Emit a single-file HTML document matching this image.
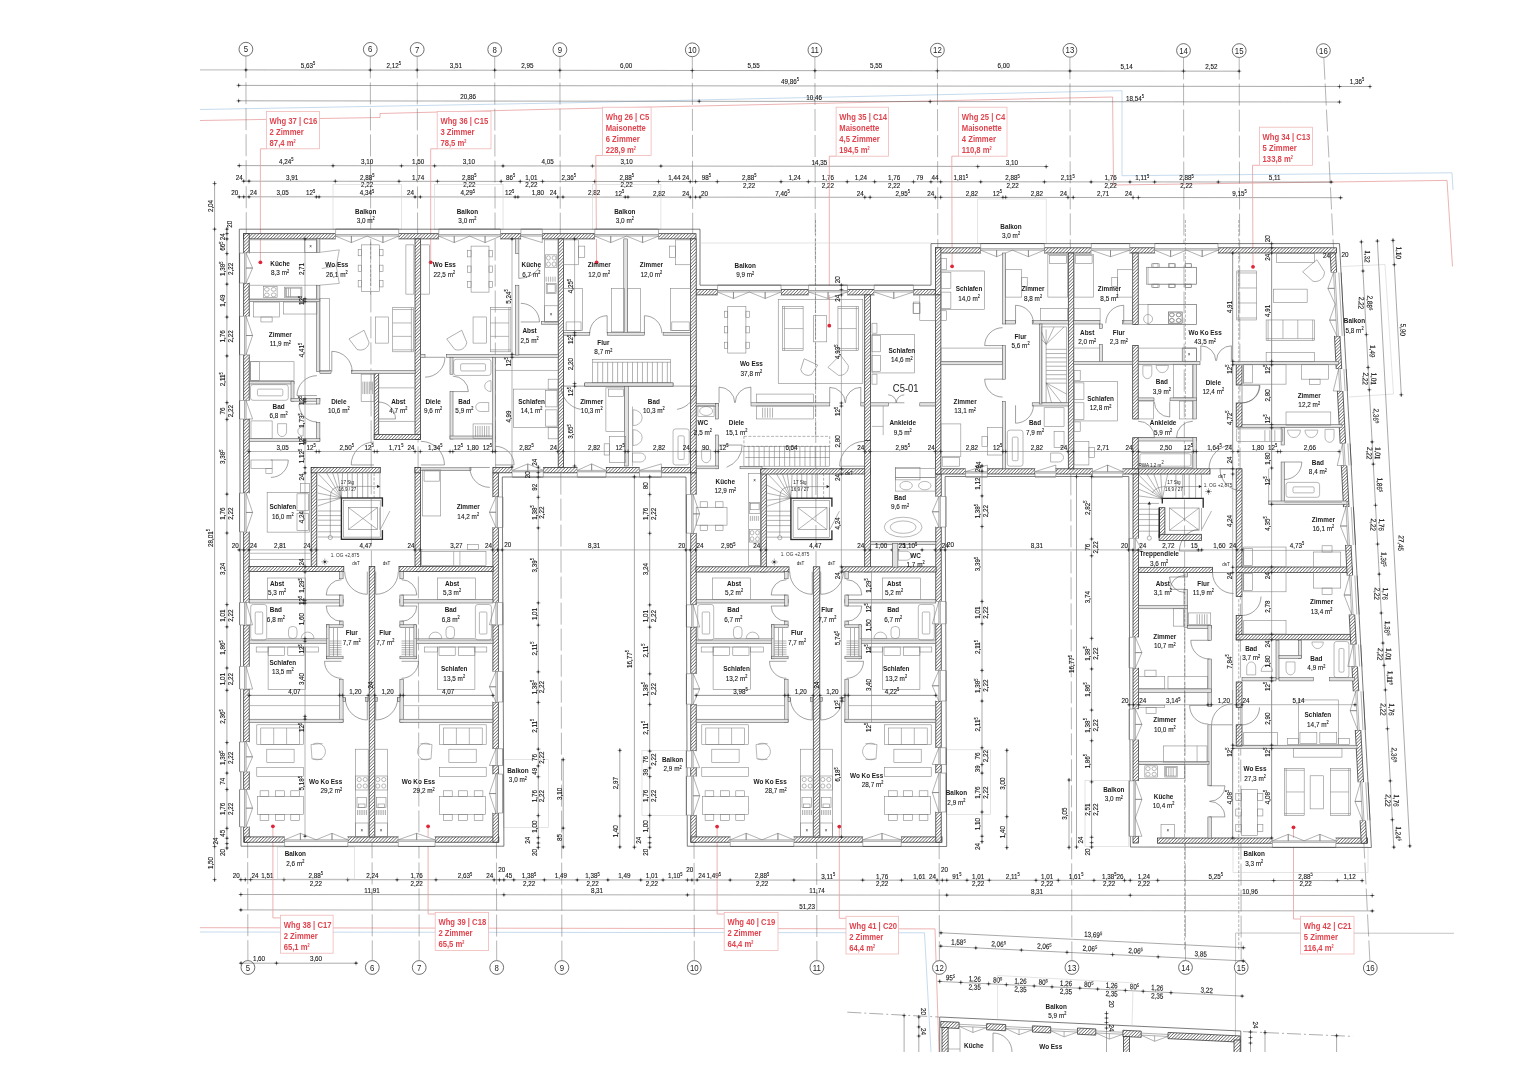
<!DOCTYPE html>
<html><head><meta charset="utf-8"><title>Grundriss 1. OG</title>
<style>
html,body{margin:0;padding:0;background:#fff;}
body{width:1528px;height:1080px;overflow:hidden;}
svg{display:block;font-family:"Liberation Sans",sans-serif;}
.l{stroke:#555;stroke-width:.6;fill:none}
.lf{stroke:#7e7e7e;stroke-width:.55;fill:none}
.lfw{stroke:#7e7e7e;stroke-width:.55;fill:#fff}
.lg{stroke:#d2d2d2;stroke-width:.6;fill:none}
.ax{stroke:#777;stroke-width:.55;fill:none;stroke-dasharray:22 4}
.dl{stroke:#555;stroke-width:.5;fill:none}
.axd{stroke:#777;stroke-width:.6;fill:none;stroke-dasharray:14 3 2 3}
.dlm{stroke:#777;stroke-width:.6;fill:none}
.dlg{stroke:#888;stroke-width:.6;fill:none}
.tk{fill:#222;stroke:none}
.tkl{stroke:#333;stroke-width:.5;fill:none}
.hw{stroke:#333;stroke-width:.75;fill:url(#hat)}
.tw{stroke:#4a4a4a;stroke-width:.5;fill:#e2e2e2}
.ins{stroke:#444;stroke-width:.7;fill:none}
.win{stroke:#777;stroke-width:.5;fill:#fff}
.win2{stroke:#666;stroke-width:.5;fill:none}
.win3{stroke:#555;stroke-width:.6;fill:none}
.wh{stroke:none;fill:#fff}
.dr{stroke:#555;stroke-width:.55;fill:none}
.st{stroke:#666;stroke-width:.5;fill:none}
.std{stroke:#666;stroke-width:.5;fill:none;stroke-dasharray:3 1.5}
.bk{stroke:#2a2a2a;stroke-width:1.35;fill:none}
.red{stroke:#e9a0a0;stroke-width:.8;fill:none}
.redb{stroke:#f0b8b8;stroke-width:.8;fill:#fff}
.blue{stroke:#b7d2ea;stroke-width:.8;fill:none}
.red2{stroke:#aaa;stroke-width:.7;fill:none}
.axc{stroke:#333;stroke-width:.7;fill:#fff}
.rdot{fill:#e0263a;stroke:none}
text{fill:#222;font-size:6.9px}
.m{text-anchor:middle}.s{text-anchor:start}.e{text-anchor:end}
.d{font-size:7.6px;fill:#151515;stroke:#151515;stroke-width:.12}
.sup{font-size:4.8px}
.rb{font-size:8px;font-weight:bold;fill:#1a1a1a}
.ra{font-size:8px;fill:#151515;stroke:#151515;stroke-width:.1}
.rl{font-size:9.6px;font-weight:bold;fill:#e0454f}
.axn{font-size:9.2px;fill:#222}
.ts{font-size:5.4px;fill:#222}
.big{font-size:10.5px;fill:#222}
.ts2{font-size:5.6px;fill:#333}
</style></head><body>
<svg width="1528" height="1080" viewBox="0 0 1528 1080">
<defs>
<pattern id="hat" width="2.3" height="2.3" patternUnits="userSpaceOnUse" patternTransform="rotate(-45)">
<rect width="2.3" height="2.3" fill="#fff"/><line x1="0" y1="1.15" x2="2.3" y2="1.15" stroke="#4a4a4a" stroke-width=".6"/>
</pattern>
<filter id="soft" x="0" y="0" width="1528" height="1080" filterUnits="userSpaceOnUse"><feGaussianBlur stdDeviation="0.38"/></filter>
</defs>
<rect width="1528" height="1080" fill="#fff"/>
<g filter="url(#soft)">
<polyline class="blue" points="200,109.5 560,103 1122,90.7 1122,175.7 1452,172.8 1453,190"/>
<polyline class="red" points="200,120.5 380,117.5 380,113.5 560,109 1112.6,97 1113.5,185 1447,180.4 1452.5,266.5"/>
<polyline class="red" points="200,927.7 935,928.9 939,1052"/>
<polyline class="blue" points="200,932 924.5,932.8 931,1052"/>
<polyline class="red2" points="1235.4,1052 1235.6,933 1454,933.3"/>
<circle class="axc" cx="245.9" cy="49.2" r="6.9"/>
<text class="axn m" transform="translate(245.9 52.3) scale(0.85 1)">5</text>
<circle class="axc" cx="247.9" cy="967.5" r="6.9"/>
<text class="axn m" transform="translate(247.9 970.6) scale(0.85 1)">5</text>
<line class="ax" x1="245.9" y1="56.2" x2="247.9" y2="960.5"/>
<circle class="axc" cx="370.3" cy="49.37" r="6.9"/>
<text class="axn m" transform="translate(370.3 52.47) scale(0.85 1)">6</text>
<circle class="axc" cx="372.3" cy="967.5" r="6.9"/>
<text class="axn m" transform="translate(372.3 970.6) scale(0.85 1)">6</text>
<line class="ax" x1="370.3" y1="56.37" x2="372.3" y2="960.5"/>
<circle class="axc" cx="417.2" cy="49.44" r="6.9"/>
<text class="axn m" transform="translate(417.2 52.54) scale(0.85 1)">7</text>
<circle class="axc" cx="419.2" cy="967.5" r="6.9"/>
<text class="axn m" transform="translate(419.2 970.6) scale(0.85 1)">7</text>
<line class="ax" x1="417.2" y1="56.44" x2="419.2" y2="960.5"/>
<circle class="axc" cx="494.7" cy="49.55" r="6.9"/>
<text class="axn m" transform="translate(494.7 52.65) scale(0.85 1)">8</text>
<circle class="axc" cx="496.7" cy="967.5" r="6.9"/>
<text class="axn m" transform="translate(496.7 970.6) scale(0.85 1)">8</text>
<line class="ax" x1="494.7" y1="56.55" x2="496.7" y2="960.5"/>
<circle class="axc" cx="559.9" cy="49.64" r="6.9"/>
<text class="axn m" transform="translate(559.9 52.74) scale(0.85 1)">9</text>
<circle class="axc" cx="561.9" cy="967.5" r="6.9"/>
<text class="axn m" transform="translate(561.9 970.6) scale(0.85 1)">9</text>
<line class="ax" x1="559.9" y1="56.64" x2="561.9" y2="960.5"/>
<circle class="axc" cx="692.3" cy="49.82" r="6.9"/>
<text class="axn m" transform="translate(692.3 52.92) scale(0.85 1)">10</text>
<circle class="axc" cx="694.3" cy="967.5" r="6.9"/>
<text class="axn m" transform="translate(694.3 970.6) scale(0.85 1)">10</text>
<line class="ax" x1="692.3" y1="56.82" x2="694.3" y2="960.5"/>
<circle class="axc" cx="814.9" cy="50" r="6.9"/>
<text class="axn m" transform="translate(814.9 53.1) scale(0.85 1)">11</text>
<circle class="axc" cx="816.9" cy="967.5" r="6.9"/>
<text class="axn m" transform="translate(816.9 970.6) scale(0.85 1)">11</text>
<line class="ax" x1="814.9" y1="57" x2="816.9" y2="960.5"/>
<circle class="axc" cx="937.4" cy="50.17" r="6.9"/>
<text class="axn m" transform="translate(937.4 53.27) scale(0.85 1)">12</text>
<circle class="axc" cx="939.4" cy="967.5" r="6.9"/>
<text class="axn m" transform="translate(939.4 970.6) scale(0.85 1)">12</text>
<line class="ax" x1="937.4" y1="57.17" x2="939.4" y2="960.5"/>
<circle class="axc" cx="1069.9" cy="50.35" r="6.9"/>
<text class="axn m" transform="translate(1069.9 53.45) scale(0.85 1)">13</text>
<circle class="axc" cx="1071.9" cy="967.5" r="6.9"/>
<text class="axn m" transform="translate(1071.9 970.6) scale(0.85 1)">13</text>
<line class="ax" x1="1069.9" y1="57.35" x2="1071.9" y2="960.5"/>
<circle class="axc" cx="1183.5" cy="50.51" r="6.9"/>
<text class="axn m" transform="translate(1183.5 53.61) scale(0.85 1)">14</text>
<circle class="axc" cx="1185.5" cy="967.5" r="6.9"/>
<text class="axn m" transform="translate(1185.5 970.6) scale(0.85 1)">14</text>
<line class="ax" x1="1183.5" y1="57.51" x2="1185.5" y2="960.5"/>
<circle class="axc" cx="1239.2" cy="50.59" r="6.9"/>
<text class="axn m" transform="translate(1239.2 53.69) scale(0.85 1)">15</text>
<circle class="axc" cx="1241.2" cy="967.5" r="6.9"/>
<text class="axn m" transform="translate(1241.2 970.6) scale(0.85 1)">15</text>
<line class="ax" x1="1239.2" y1="57.59" x2="1241.2" y2="960.5"/>
<circle class="axc" cx="1323.4" cy="50.6" r="6.9"/>
<text class="axn m" transform="translate(1323.4 53.7) scale(0.85 1)">16</text>
<circle class="axc" cx="1370.3" cy="968" r="6.9"/>
<text class="axn m" transform="translate(1370.3 971.1) scale(0.85 1)">16</text>
<line class="ax" x1="1323.8" y1="57.6" x2="1369.9" y2="961"/>
<line class="dlg" x1="200" y1="69.9" x2="246" y2="69.9"/>
<line class="dl" x1="246" y1="69.9" x2="1239.2" y2="71.2"/>
<circle class="tk" cx="245.9" cy="69.9" r="0.85"/>
<path class="tkl" d="M243.8 69.9H248M245.9 67.8V72"/>
<circle class="tk" cx="370.3" cy="70.06" r="0.85"/>
<path class="tkl" d="M368.2 70.06H372.4M370.3 67.96V72.16"/>
<circle class="tk" cx="417.2" cy="70.12" r="0.85"/>
<path class="tkl" d="M415.1 70.12H419.3M417.2 68.02V72.22"/>
<circle class="tk" cx="494.7" cy="70.22" r="0.85"/>
<path class="tkl" d="M492.6 70.22H496.8M494.7 68.12V72.32"/>
<circle class="tk" cx="559.9" cy="70.31" r="0.85"/>
<path class="tkl" d="M557.8 70.31H562M559.9 68.21V72.41"/>
<circle class="tk" cx="692.3" cy="70.48" r="0.85"/>
<path class="tkl" d="M690.2 70.48H694.4M692.3 68.38V72.58"/>
<circle class="tk" cx="814.9" cy="70.64" r="0.85"/>
<path class="tkl" d="M812.8 70.64H817M814.9 68.54V72.74"/>
<circle class="tk" cx="937.4" cy="70.8" r="0.85"/>
<path class="tkl" d="M935.3 70.8H939.5M937.4 68.7V72.9"/>
<circle class="tk" cx="1069.9" cy="70.97" r="0.85"/>
<path class="tkl" d="M1067.8 70.97H1072M1069.9 68.87V73.07"/>
<circle class="tk" cx="1183.5" cy="71.12" r="0.85"/>
<path class="tkl" d="M1181.4 71.12H1185.6M1183.5 69.02V73.22"/>
<circle class="tk" cx="1239.2" cy="71.19" r="0.85"/>
<path class="tkl" d="M1237.1 71.19H1241.3M1239.2 69.09V73.29"/>
<text class="d m" transform="translate(308.1 67.58) scale(0.83 1)">5,63<tspan class="sup" dy="-2.6">5</tspan><tspan dy="2.6">​</tspan></text>
<text class="d m" transform="translate(393.75 67.69) scale(0.83 1)">2,12<tspan class="sup" dy="-2.6">5</tspan><tspan dy="2.6">​</tspan></text>
<text class="d m" transform="translate(455.95 67.77) scale(0.83 1)">3,51</text>
<text class="d m" transform="translate(527.3 67.87) scale(0.83 1)">2,95</text>
<text class="d m" transform="translate(626.1 67.99) scale(0.83 1)">6,00</text>
<text class="d m" transform="translate(753.6 68.16) scale(0.83 1)">5,55</text>
<text class="d m" transform="translate(876.15 68.32) scale(0.83 1)">5,55</text>
<text class="d m" transform="translate(1003.65 68.48) scale(0.83 1)">6,00</text>
<text class="d m" transform="translate(1126.7 68.64) scale(0.83 1)">5,14</text>
<text class="d m" transform="translate(1211.35 68.75) scale(0.83 1)">2,52</text>
<line class="dl" x1="238.6" y1="85.4" x2="1370" y2="86.5"/>
<circle class="tk" cx="238.6" cy="85.39" r="0.85"/>
<path class="tkl" d="M236.5 85.39H240.7M238.6 83.29V87.49"/>
<circle class="tk" cx="1339.5" cy="86.49" r="0.85"/>
<path class="tkl" d="M1337.4 86.49H1341.6M1339.5 84.39V88.59"/>
<circle class="tk" cx="1370" cy="86.52" r="0.85"/>
<path class="tkl" d="M1367.9 86.52H1372.1M1370 84.42V88.62"/>
<text class="d m" transform="translate(790 84) scale(0.83 1)">49,86<tspan class="sup" dy="-2.6">5</tspan><tspan dy="2.6">​</tspan></text>
<text class="d m" transform="translate(1357 84) scale(0.83 1)">1,36<tspan class="sup" dy="-2.6">5</tspan><tspan dy="2.6">​</tspan></text>
<line class="dl" x1="238.6" y1="100.8" x2="1339.5" y2="102"/>
<circle class="tk" cx="238.6" cy="100.79" r="0.85"/>
<path class="tkl" d="M236.5 100.79H240.7M238.6 98.69V102.89"/>
<circle class="tk" cx="699.2" cy="101.3" r="0.85"/>
<path class="tkl" d="M697.1 101.3H701.3M699.2 99.2V103.4"/>
<circle class="tk" cx="930.2" cy="101.55" r="0.85"/>
<path class="tkl" d="M928.1 101.55H932.3M930.2 99.45V103.65"/>
<circle class="tk" cx="1339.5" cy="102" r="0.85"/>
<path class="tkl" d="M1337.4 102H1341.6M1339.5 99.9V104.1"/>
<text class="d m" transform="translate(468 99) scale(0.83 1)">20,86</text>
<text class="d m" transform="translate(814 100) scale(0.83 1)">10,46</text>
<text class="d m" transform="translate(1135 100.5) scale(0.83 1)">18,54<tspan class="sup" dy="-2.6">5</tspan><tspan dy="2.6">​</tspan></text>
<line class="dl" x1="237.28" y1="165.6" x2="1048.2" y2="166.5"/>
<circle class="tk" cx="239.28" cy="165.59" r="0.85"/>
<path class="tkl" d="M237.18 165.59H241.38M239.28 163.49V167.69"/>
<circle class="tk" cx="333.01" cy="165.7" r="0.85"/>
<path class="tkl" d="M330.91 165.7H335.11M333.01 163.6V167.8"/>
<circle class="tk" cx="401.46" cy="165.79" r="0.85"/>
<path class="tkl" d="M399.36 165.79H403.56M401.46 163.69V167.89"/>
<circle class="tk" cx="434.58" cy="165.83" r="0.85"/>
<path class="tkl" d="M432.48 165.83H436.68M434.58 163.73V167.93"/>
<circle class="tk" cx="503.03" cy="165.91" r="0.85"/>
<path class="tkl" d="M500.93 165.91H505.13M503.03 163.81V168.01"/>
<circle class="tk" cx="592.45" cy="166.02" r="0.85"/>
<path class="tkl" d="M590.35 166.02H594.55M592.45 163.92V168.12"/>
<circle class="tk" cx="660.9" cy="166.1" r="0.85"/>
<path class="tkl" d="M658.8 166.1H663M660.9 164V168.2"/>
<circle class="tk" cx="977.75" cy="166.48" r="0.85"/>
<path class="tkl" d="M975.65 166.48H979.85M977.75 164.38V168.58"/>
<circle class="tk" cx="1046.2" cy="166.56" r="0.85"/>
<path class="tkl" d="M1044.1 166.56H1048.3M1046.2 164.46V168.66"/>
<text class="d m" transform="translate(286.14 164.05) scale(0.83 1)">4,24<tspan class="sup" dy="-2.6">5</tspan><tspan dy="2.6">​</tspan></text>
<text class="d m" transform="translate(367.24 164.15) scale(0.83 1)">3,10</text>
<text class="d m" transform="translate(418.02 164.21) scale(0.83 1)">1,50</text>
<text class="d m" transform="translate(468.8 164.27) scale(0.83 1)">3,10</text>
<text class="d m" transform="translate(547.74 164.36) scale(0.83 1)">4,05</text>
<text class="d m" transform="translate(626.67 164.46) scale(0.83 1)">3,10</text>
<text class="d m" transform="translate(819.33 164.69) scale(0.83 1)">14,35</text>
<text class="d m" transform="translate(1011.98 164.92) scale(0.83 1)">3,10</text>
<line class="dl" x1="241.7" y1="181.2" x2="1333.14" y2="182.07"/>
<circle class="tk" cx="243.7" cy="181.2" r="0.85"/>
<path class="tkl" d="M241.6 181.2H245.8M243.7 179.1V183.3"/>
<circle class="tk" cx="249" cy="181.2" r="0.85"/>
<path class="tkl" d="M246.9 181.2H251.1M249 179.1V183.3"/>
<circle class="tk" cx="335.33" cy="181.27" r="0.85"/>
<path class="tkl" d="M333.23 181.27H337.43M335.33 179.17V183.37"/>
<circle class="tk" cx="399.03" cy="181.32" r="0.85"/>
<path class="tkl" d="M396.93 181.32H401.13M399.03 179.22V183.42"/>
<circle class="tk" cx="437.45" cy="181.35" r="0.85"/>
<path class="tkl" d="M435.35 181.35H439.55M437.45 179.25V183.45"/>
<circle class="tk" cx="501.15" cy="181.4" r="0.85"/>
<path class="tkl" d="M499.05 181.4H503.25M501.15 179.3V183.5"/>
<circle class="tk" cx="520.25" cy="181.42" r="0.85"/>
<path class="tkl" d="M518.15 181.42H522.35M520.25 179.32V183.52"/>
<circle class="tk" cx="542.55" cy="181.44" r="0.85"/>
<path class="tkl" d="M540.45 181.44H544.65M542.55 179.34V183.54"/>
<circle class="tk" cx="594.77" cy="181.48" r="0.85"/>
<path class="tkl" d="M592.67 181.48H596.87M594.77 179.38V183.58"/>
<circle class="tk" cx="658.47" cy="181.53" r="0.85"/>
<path class="tkl" d="M656.37 181.53H660.57M658.47 179.43V183.63"/>
<circle class="tk" cx="690.27" cy="181.56" r="0.85"/>
<path class="tkl" d="M688.17 181.56H692.37M690.27 179.46V183.66"/>
<circle class="tk" cx="695.57" cy="181.56" r="0.85"/>
<path class="tkl" d="M693.47 181.56H697.67M695.57 179.46V183.66"/>
<circle class="tk" cx="717.32" cy="181.58" r="0.85"/>
<path class="tkl" d="M715.22 181.58H719.42M717.32 179.48V183.68"/>
<circle class="tk" cx="781.02" cy="181.63" r="0.85"/>
<path class="tkl" d="M778.92 181.63H783.12M781.02 179.53V183.73"/>
<circle class="tk" cx="808.4" cy="181.65" r="0.85"/>
<path class="tkl" d="M806.3 181.65H810.5M808.4 179.55V183.75"/>
<circle class="tk" cx="847.26" cy="181.68" r="0.85"/>
<path class="tkl" d="M845.16 181.68H849.36M847.26 179.58V183.78"/>
<circle class="tk" cx="874.64" cy="181.7" r="0.85"/>
<path class="tkl" d="M872.54 181.7H876.74M874.64 179.6V183.8"/>
<circle class="tk" cx="913.5" cy="181.73" r="0.85"/>
<path class="tkl" d="M911.4 181.73H915.6M913.5 179.63V183.83"/>
<circle class="tk" cx="930.94" cy="181.75" r="0.85"/>
<path class="tkl" d="M928.84 181.75H933.04M930.94 179.65V183.85"/>
<circle class="tk" cx="940.66" cy="181.76" r="0.85"/>
<path class="tkl" d="M938.56 181.76H942.76M940.66 179.66V183.86"/>
<circle class="tk" cx="980.73" cy="181.79" r="0.85"/>
<path class="tkl" d="M978.63 181.79H982.83M980.73 179.69V183.89"/>
<circle class="tk" cx="1044.43" cy="181.84" r="0.85"/>
<path class="tkl" d="M1042.33 181.84H1046.53M1044.43 179.74V183.94"/>
<circle class="tk" cx="1091.13" cy="181.88" r="0.85"/>
<path class="tkl" d="M1089.03 181.88H1093.23M1091.13 179.78V183.98"/>
<circle class="tk" cx="1129.99" cy="181.91" r="0.85"/>
<path class="tkl" d="M1127.89 181.91H1132.09M1129.99 179.81V184.01"/>
<circle class="tk" cx="1154.61" cy="181.93" r="0.85"/>
<path class="tkl" d="M1152.51 181.93H1156.71M1154.61 179.83V184.03"/>
<circle class="tk" cx="1218.31" cy="181.98" r="0.85"/>
<path class="tkl" d="M1216.21 181.98H1220.41M1218.31 179.88V184.08"/>
<circle class="tk" cx="1331.14" cy="182.07" r="0.85"/>
<path class="tkl" d="M1329.04 182.07H1333.24M1331.14 179.97V184.17"/>
<text class="d e" transform="translate(242.7 179.6) scale(0.83 1)">24</text>
<text class="d m" transform="translate(292.16 179.64) scale(0.83 1)">3,91</text>
<text class="d m" transform="translate(367.18 179.7) scale(0.83 1)">2,88<tspan class="sup" dy="-2.6">5</tspan><tspan dy="2.6">​</tspan></text>
<text class="d m" transform="translate(367.18 187.2) scale(0.83 1)">2,22</text>
<text class="d m" transform="translate(418.24 179.74) scale(0.83 1)">1,74</text>
<text class="d m" transform="translate(469.3 179.78) scale(0.83 1)">2,88<tspan class="sup" dy="-2.6">5</tspan><tspan dy="2.6">​</tspan></text>
<text class="d m" transform="translate(469.3 187.28) scale(0.83 1)">2,22</text>
<text class="d m" transform="translate(510.7 179.81) scale(0.83 1)">86<tspan class="sup" dy="-2.6">5</tspan><tspan dy="2.6">​</tspan></text>
<text class="d m" transform="translate(531.4 179.83) scale(0.83 1)">1,01</text>
<text class="d m" transform="translate(531.4 187.33) scale(0.83 1)">2,22</text>
<text class="d m" transform="translate(568.66 179.86) scale(0.83 1)">2,36<tspan class="sup" dy="-2.6">5</tspan><tspan dy="2.6">​</tspan></text>
<text class="d m" transform="translate(626.62 179.9) scale(0.83 1)">2,88<tspan class="sup" dy="-2.6">5</tspan><tspan dy="2.6">​</tspan></text>
<text class="d m" transform="translate(626.62 187.4) scale(0.83 1)">2,22</text>
<text class="d m" transform="translate(674.37 179.94) scale(0.83 1)">1,44</text>
<text class="d e" transform="translate(689.27 179.96) scale(0.83 1)">24</text>
<text class="d m" transform="translate(706.45 179.97) scale(0.83 1)">98<tspan class="sup" dy="-2.6">5</tspan><tspan dy="2.6">​</tspan></text>
<text class="d m" transform="translate(749.17 180) scale(0.83 1)">2,88<tspan class="sup" dy="-2.6">5</tspan><tspan dy="2.6">​</tspan></text>
<text class="d m" transform="translate(749.17 187.5) scale(0.83 1)">2,22</text>
<text class="d m" transform="translate(794.71 180.04) scale(0.83 1)">1,24</text>
<text class="d m" transform="translate(827.83 180.07) scale(0.83 1)">1,76</text>
<text class="d m" transform="translate(827.83 187.57) scale(0.83 1)">2,22</text>
<text class="d m" transform="translate(860.95 180.09) scale(0.83 1)">1,24</text>
<text class="d m" transform="translate(894.07 180.12) scale(0.83 1)">1,76</text>
<text class="d m" transform="translate(894.07 187.62) scale(0.83 1)">2,22</text>
<text class="d m" transform="translate(919.72 180.14) scale(0.83 1)">79</text>
<text class="d s" transform="translate(931.44 180.15) scale(0.83 1)">44</text>
<text class="d m" transform="translate(960.69 180.17) scale(0.83 1)">1,81<tspan class="sup" dy="-2.6">5</tspan><tspan dy="2.6">​</tspan></text>
<text class="d m" transform="translate(1012.58 180.21) scale(0.83 1)">2,88<tspan class="sup" dy="-2.6">5</tspan><tspan dy="2.6">​</tspan></text>
<text class="d m" transform="translate(1012.58 187.71) scale(0.83 1)">2,22</text>
<text class="d m" transform="translate(1067.78 180.26) scale(0.83 1)">2,11<tspan class="sup" dy="-2.6">5</tspan><tspan dy="2.6">​</tspan></text>
<text class="d m" transform="translate(1110.56 180.29) scale(0.83 1)">1,76</text>
<text class="d m" transform="translate(1110.56 187.79) scale(0.83 1)">2,22</text>
<text class="d m" transform="translate(1142.3 180.32) scale(0.83 1)">1,11<tspan class="sup" dy="-2.6">5</tspan><tspan dy="2.6">​</tspan></text>
<text class="d m" transform="translate(1186.46 180.35) scale(0.83 1)">2,88<tspan class="sup" dy="-2.6">5</tspan><tspan dy="2.6">​</tspan></text>
<text class="d m" transform="translate(1186.46 187.85) scale(0.83 1)">2,22</text>
<text class="d m" transform="translate(1274.72 180.42) scale(0.83 1)">5,11</text>
<line class="dl" x1="237.28" y1="196.79" x2="1342.52" y2="197.68"/>
<circle class="tk" cx="239.28" cy="196.79" r="0.85"/>
<path class="tkl" d="M237.18 196.79H241.38M239.28 194.69V198.89"/>
<circle class="tk" cx="243.7" cy="196.8" r="0.85"/>
<path class="tkl" d="M241.6 196.8H245.8M243.7 194.7V198.9"/>
<circle class="tk" cx="249" cy="196.8" r="0.85"/>
<path class="tkl" d="M246.9 196.8H251.1M249 194.7V198.9"/>
<circle class="tk" cx="316.34" cy="196.86" r="0.85"/>
<path class="tkl" d="M314.24 196.86H318.44M316.34 194.76V198.96"/>
<circle class="tk" cx="319.1" cy="196.86" r="0.85"/>
<path class="tkl" d="M317 196.86H321.2M319.1 194.76V198.96"/>
<circle class="tk" cx="415.04" cy="196.94" r="0.85"/>
<path class="tkl" d="M412.94 196.94H417.14M415.04 194.84V199.04"/>
<circle class="tk" cx="420.34" cy="196.94" r="0.85"/>
<path class="tkl" d="M418.24 196.94H422.44M420.34 194.84V199.04"/>
<circle class="tk" cx="515.17" cy="197.02" r="0.85"/>
<path class="tkl" d="M513.07 197.02H517.27M515.17 194.92V199.12"/>
<circle class="tk" cx="517.93" cy="197.02" r="0.85"/>
<path class="tkl" d="M515.83 197.02H520.03M517.93 194.92V199.12"/>
<circle class="tk" cx="557.68" cy="197.05" r="0.85"/>
<path class="tkl" d="M555.58 197.05H559.78M557.68 194.95V199.15"/>
<circle class="tk" cx="562.98" cy="197.05" r="0.85"/>
<path class="tkl" d="M560.88 197.05H565.08M562.98 194.95V199.15"/>
<circle class="tk" cx="625.24" cy="197.1" r="0.85"/>
<path class="tkl" d="M623.14 197.1H627.34M625.24 195V199.2"/>
<circle class="tk" cx="628" cy="197.11" r="0.85"/>
<path class="tkl" d="M625.9 197.11H630.1M628 195.01V199.21"/>
<circle class="tk" cx="690.27" cy="197.16" r="0.85"/>
<path class="tkl" d="M688.17 197.16H692.37M690.27 195.06V199.26"/>
<circle class="tk" cx="695.57" cy="197.16" r="0.85"/>
<path class="tkl" d="M693.47 197.16H697.67M695.57 195.06V199.26"/>
<circle class="tk" cx="699.98" cy="197.16" r="0.85"/>
<path class="tkl" d="M697.88 197.16H702.08M699.98 195.06V199.26"/>
<circle class="tk" cx="864.81" cy="197.3" r="0.85"/>
<path class="tkl" d="M862.71 197.3H866.91M864.81 195.2V199.4"/>
<circle class="tk" cx="870.11" cy="197.3" r="0.85"/>
<path class="tkl" d="M868.01 197.3H872.21M870.11 195.2V199.4"/>
<circle class="tk" cx="935.36" cy="197.35" r="0.85"/>
<path class="tkl" d="M933.26 197.35H937.46M935.36 195.25V199.45"/>
<circle class="tk" cx="940.66" cy="197.36" r="0.85"/>
<path class="tkl" d="M938.56 197.36H942.76M940.66 195.26V199.46"/>
<circle class="tk" cx="1002.92" cy="197.41" r="0.85"/>
<path class="tkl" d="M1000.82 197.41H1005.02M1002.92 195.31V199.51"/>
<circle class="tk" cx="1005.68" cy="197.41" r="0.85"/>
<path class="tkl" d="M1003.58 197.41H1007.78M1005.68 195.31V199.51"/>
<circle class="tk" cx="1067.95" cy="197.46" r="0.85"/>
<path class="tkl" d="M1065.85 197.46H1070.05M1067.95 195.36V199.56"/>
<circle class="tk" cx="1073.25" cy="197.46" r="0.85"/>
<path class="tkl" d="M1071.15 197.46H1075.35M1073.25 195.36V199.56"/>
<circle class="tk" cx="1133.08" cy="197.51" r="0.85"/>
<path class="tkl" d="M1130.98 197.51H1135.18M1133.08 195.41V199.61"/>
<circle class="tk" cx="1138.38" cy="197.51" r="0.85"/>
<path class="tkl" d="M1136.28 197.51H1140.48M1138.38 195.41V199.61"/>
<circle class="tk" cx="1340.52" cy="197.68" r="0.85"/>
<path class="tkl" d="M1338.42 197.68H1342.62M1340.52 195.58V199.78"/>
<text class="d e" transform="translate(238.28 195.2) scale(0.83 1)">20</text>
<text class="d s" transform="translate(250 195.2) scale(0.83 1)">24</text>
<text class="d m" transform="translate(282.67 195.23) scale(0.83 1)">3,05</text>
<text class="d e" transform="translate(315.34 195.26) scale(0.83 1)">12<tspan class="sup" dy="-2.6">5</tspan><tspan dy="2.6">​</tspan></text>
<text class="d m" transform="translate(367.07 195.3) scale(0.83 1)">4,34<tspan class="sup" dy="-2.6">5</tspan><tspan dy="2.6">​</tspan></text>
<text class="d e" transform="translate(414.04 195.34) scale(0.83 1)">24</text>
<text class="d m" transform="translate(467.75 195.38) scale(0.83 1)">4,29<tspan class="sup" dy="-2.6">5</tspan><tspan dy="2.6">​</tspan></text>
<text class="d e" transform="translate(514.17 195.42) scale(0.83 1)">12<tspan class="sup" dy="-2.6">5</tspan><tspan dy="2.6">​</tspan></text>
<text class="d m" transform="translate(537.8 195.43) scale(0.83 1)">1,80</text>
<text class="d e" transform="translate(556.68 195.45) scale(0.83 1)">24</text>
<text class="d m" transform="translate(594.11 195.48) scale(0.83 1)">2,82</text>
<text class="d e" transform="translate(624.24 195.5) scale(0.83 1)">12<tspan class="sup" dy="-2.6">5</tspan><tspan dy="2.6">​</tspan></text>
<text class="d m" transform="translate(659.13 195.53) scale(0.83 1)">2,82</text>
<text class="d e" transform="translate(689.27 195.56) scale(0.83 1)">24</text>
<text class="d s" transform="translate(700.98 195.56) scale(0.83 1)">20</text>
<text class="d m" transform="translate(782.39 195.63) scale(0.83 1)">7,46<tspan class="sup" dy="-2.6">5</tspan><tspan dy="2.6">​</tspan></text>
<text class="d e" transform="translate(863.81 195.7) scale(0.83 1)">24</text>
<text class="d m" transform="translate(902.74 195.73) scale(0.83 1)">2,95<tspan class="sup" dy="-2.6">5</tspan><tspan dy="2.6">​</tspan></text>
<text class="d e" transform="translate(934.36 195.75) scale(0.83 1)">24</text>
<text class="d m" transform="translate(971.79 195.78) scale(0.83 1)">2,82</text>
<text class="d e" transform="translate(1001.92 195.81) scale(0.83 1)">12<tspan class="sup" dy="-2.6">5</tspan><tspan dy="2.6">​</tspan></text>
<text class="d m" transform="translate(1036.82 195.83) scale(0.83 1)">2,82</text>
<text class="d e" transform="translate(1066.95 195.86) scale(0.83 1)">24</text>
<text class="d m" transform="translate(1103.16 195.89) scale(0.83 1)">2,71</text>
<text class="d e" transform="translate(1132.08 195.91) scale(0.83 1)">24</text>
<text class="d m" transform="translate(1239.45 195.99) scale(0.83 1)">9,15<tspan class="sup" dy="-2.6">5</tspan><tspan dy="2.6">​</tspan></text>
<line class="dl" x1="238.88" y1="879.6" x2="1364.11" y2="880.6"/>
<circle class="tk" cx="240.88" cy="879.6" r="0.85"/>
<path class="tkl" d="M238.78 879.6H242.98M240.88 877.5V881.7"/>
<circle class="tk" cx="245.3" cy="879.6" r="0.85"/>
<path class="tkl" d="M243.2 879.6H247.4M245.3 877.5V881.7"/>
<circle class="tk" cx="250.6" cy="879.6" r="0.85"/>
<path class="tkl" d="M248.5 879.6H252.7M250.6 877.5V881.7"/>
<circle class="tk" cx="283.94" cy="879.63" r="0.85"/>
<path class="tkl" d="M281.84 879.63H286.04M283.94 877.53V881.73"/>
<circle class="tk" cx="347.64" cy="879.69" r="0.85"/>
<path class="tkl" d="M345.54 879.69H349.74M347.64 877.59V881.79"/>
<circle class="tk" cx="397.1" cy="879.74" r="0.85"/>
<path class="tkl" d="M395 879.74H399.2M397.1 877.64V881.84"/>
<circle class="tk" cx="435.96" cy="879.77" r="0.85"/>
<path class="tkl" d="M433.86 879.77H438.06M435.96 877.67V881.87"/>
<circle class="tk" cx="494.14" cy="879.82" r="0.85"/>
<path class="tkl" d="M492.04 879.82H496.24M494.14 877.72V881.92"/>
<circle class="tk" cx="499.44" cy="879.83" r="0.85"/>
<path class="tkl" d="M497.34 879.83H501.54M499.44 877.73V881.93"/>
<circle class="tk" cx="503.86" cy="879.83" r="0.85"/>
<path class="tkl" d="M501.76 879.83H505.96M503.86 877.73V881.93"/>
<circle class="tk" cx="513.79" cy="879.84" r="0.85"/>
<path class="tkl" d="M511.69 879.84H515.89M513.79 877.74V881.94"/>
<circle class="tk" cx="544.37" cy="879.87" r="0.85"/>
<path class="tkl" d="M542.27 879.87H546.47M544.37 877.77V881.97"/>
<circle class="tk" cx="577.27" cy="879.9" r="0.85"/>
<path class="tkl" d="M575.17 879.9H579.37M577.27 877.8V882"/>
<circle class="tk" cx="607.85" cy="879.93" r="0.85"/>
<path class="tkl" d="M605.75 879.93H609.95M607.85 877.83V882.03"/>
<circle class="tk" cx="640.75" cy="879.96" r="0.85"/>
<path class="tkl" d="M638.65 879.96H642.85M640.75 877.86V882.06"/>
<circle class="tk" cx="663.05" cy="879.98" r="0.85"/>
<path class="tkl" d="M660.95 879.98H665.15M663.05 877.88V882.08"/>
<circle class="tk" cx="687.45" cy="880" r="0.85"/>
<path class="tkl" d="M685.35 880H689.55M687.45 877.9V882.1"/>
<circle class="tk" cx="691.87" cy="880" r="0.85"/>
<path class="tkl" d="M689.77 880H693.97M691.87 877.9V882.1"/>
<circle class="tk" cx="697.17" cy="880.01" r="0.85"/>
<path class="tkl" d="M695.07 880.01H699.27M697.17 877.91V882.11"/>
<circle class="tk" cx="730.18" cy="880.04" r="0.85"/>
<path class="tkl" d="M728.08 880.04H732.28M730.18 877.94V882.14"/>
<circle class="tk" cx="793.88" cy="880.09" r="0.85"/>
<path class="tkl" d="M791.78 880.09H795.98M793.88 877.99V882.19"/>
<circle class="tk" cx="862.66" cy="880.15" r="0.85"/>
<path class="tkl" d="M860.56 880.15H864.76M862.66 878.05V882.25"/>
<circle class="tk" cx="901.52" cy="880.19" r="0.85"/>
<path class="tkl" d="M899.42 880.19H903.62M901.52 878.09V882.29"/>
<circle class="tk" cx="937.07" cy="880.22" r="0.85"/>
<path class="tkl" d="M934.97 880.22H939.17M937.07 878.12V882.32"/>
<circle class="tk" cx="942.37" cy="880.23" r="0.85"/>
<path class="tkl" d="M940.27 880.23H944.47M942.37 878.13V882.33"/>
<circle class="tk" cx="946.78" cy="880.23" r="0.85"/>
<path class="tkl" d="M944.68 880.23H948.88M946.78 878.13V882.33"/>
<circle class="tk" cx="966.98" cy="880.25" r="0.85"/>
<path class="tkl" d="M964.88 880.25H969.08M966.98 878.15V882.35"/>
<circle class="tk" cx="989.29" cy="880.27" r="0.85"/>
<path class="tkl" d="M987.19 880.27H991.39M989.29 878.17V882.37"/>
<circle class="tk" cx="1035.98" cy="880.31" r="0.85"/>
<path class="tkl" d="M1033.88 880.31H1038.08M1035.98 878.21V882.41"/>
<circle class="tk" cx="1058.29" cy="880.33" r="0.85"/>
<path class="tkl" d="M1056.19 880.33H1060.39M1058.29 878.23V882.43"/>
<circle class="tk" cx="1093.94" cy="880.36" r="0.85"/>
<path class="tkl" d="M1091.84 880.36H1096.04M1093.94 878.26V882.46"/>
<circle class="tk" cx="1124.53" cy="880.39" r="0.85"/>
<path class="tkl" d="M1122.43 880.39H1126.63M1124.53 878.29V882.49"/>
<circle class="tk" cx="1130.27" cy="880.4" r="0.85"/>
<path class="tkl" d="M1128.17 880.4H1132.37M1130.27 878.3V882.5"/>
<circle class="tk" cx="1157.65" cy="880.42" r="0.85"/>
<path class="tkl" d="M1155.55 880.42H1159.75M1157.65 878.32V882.52"/>
<circle class="tk" cx="1273.68" cy="880.52" r="0.85"/>
<path class="tkl" d="M1271.58 880.52H1275.78M1273.68 878.42V882.62"/>
<circle class="tk" cx="1337.38" cy="880.58" r="0.85"/>
<path class="tkl" d="M1335.28 880.58H1339.48M1337.38 878.48V882.68"/>
<circle class="tk" cx="1362.11" cy="880.6" r="0.85"/>
<path class="tkl" d="M1360.01 880.6H1364.21M1362.11 878.5V882.7"/>
<text class="d e" transform="translate(239.88 878) scale(0.83 1)">20</text>
<text class="d s" transform="translate(251.6 878) scale(0.83 1)">24</text>
<text class="d m" transform="translate(267.27 878.02) scale(0.83 1)">1,51</text>
<text class="d m" transform="translate(315.79 878.06) scale(0.83 1)">2,88<tspan class="sup" dy="-2.6">5</tspan><tspan dy="2.6">​</tspan></text>
<text class="d m" transform="translate(315.79 885.56) scale(0.83 1)">2,22</text>
<text class="d m" transform="translate(372.37 878.11) scale(0.83 1)">2,24</text>
<text class="d m" transform="translate(416.53 878.15) scale(0.83 1)">1,76</text>
<text class="d m" transform="translate(416.53 885.65) scale(0.83 1)">2,22</text>
<text class="d m" transform="translate(465.05 878.2) scale(0.83 1)">2,63<tspan class="sup" dy="-2.6">5</tspan><tspan dy="2.6">​</tspan></text>
<text class="d e" transform="translate(493.14 878.23) scale(0.83 1)">24</text>
<text class="d m" transform="translate(508.83 878.24) scale(0.83 1)">45</text>
<text class="d m" transform="translate(529.08 878.25) scale(0.83 1)">1,38<tspan class="sup" dy="-2.6">5</tspan><tspan dy="2.6">​</tspan></text>
<text class="d m" transform="translate(529.08 885.75) scale(0.83 1)">2,22</text>
<text class="d m" transform="translate(560.82 878.28) scale(0.83 1)">1,49</text>
<text class="d m" transform="translate(592.56 878.31) scale(0.83 1)">1,38<tspan class="sup" dy="-2.6">5</tspan><tspan dy="2.6">​</tspan></text>
<text class="d m" transform="translate(592.56 885.81) scale(0.83 1)">2,22</text>
<text class="d m" transform="translate(624.3 878.34) scale(0.83 1)">1,49</text>
<text class="d m" transform="translate(651.9 878.37) scale(0.83 1)">1,01</text>
<text class="d m" transform="translate(651.9 885.87) scale(0.83 1)">2,22</text>
<text class="d m" transform="translate(675.25 878.39) scale(0.83 1)">1,10<tspan class="sup" dy="-2.6">5</tspan><tspan dy="2.6">​</tspan></text>
<text class="d s" transform="translate(698.17 878.4) scale(0.83 1)">24</text>
<text class="d m" transform="translate(713.68 878.42) scale(0.83 1)">1,49<tspan class="sup" dy="-2.6">5</tspan><tspan dy="2.6">​</tspan></text>
<text class="d m" transform="translate(762.03 878.46) scale(0.83 1)">2,88<tspan class="sup" dy="-2.6">5</tspan><tspan dy="2.6">​</tspan></text>
<text class="d m" transform="translate(762.03 885.96) scale(0.83 1)">2,22</text>
<text class="d m" transform="translate(828.27 878.52) scale(0.83 1)">3,11<tspan class="sup" dy="-2.6">5</tspan><tspan dy="2.6">​</tspan></text>
<text class="d m" transform="translate(882.09 878.57) scale(0.83 1)">1,76</text>
<text class="d m" transform="translate(882.09 886.07) scale(0.83 1)">2,22</text>
<text class="d m" transform="translate(919.3 878.61) scale(0.83 1)">1,61</text>
<text class="d e" transform="translate(936.07 878.62) scale(0.83 1)">24</text>
<text class="d m" transform="translate(956.88 878.64) scale(0.83 1)">91<tspan class="sup" dy="-2.6">5</tspan><tspan dy="2.6">​</tspan></text>
<text class="d m" transform="translate(978.13 878.66) scale(0.83 1)">1,01</text>
<text class="d m" transform="translate(978.13 886.16) scale(0.83 1)">2,22</text>
<text class="d m" transform="translate(1012.63 878.69) scale(0.83 1)">2,11<tspan class="sup" dy="-2.6">5</tspan><tspan dy="2.6">​</tspan></text>
<text class="d m" transform="translate(1047.13 878.72) scale(0.83 1)">1,01</text>
<text class="d m" transform="translate(1047.13 886.22) scale(0.83 1)">2,22</text>
<text class="d m" transform="translate(1076.11 878.75) scale(0.83 1)">1,61<tspan class="sup" dy="-2.6">5</tspan><tspan dy="2.6">​</tspan></text>
<text class="d m" transform="translate(1109.23 878.78) scale(0.83 1)">1,38<tspan class="sup" dy="-2.6">5</tspan><tspan dy="2.6">​</tspan></text>
<text class="d m" transform="translate(1109.23 886.28) scale(0.83 1)">2,22</text>
<text class="d e" transform="translate(1123.53 878.79) scale(0.83 1)">26</text>
<text class="d m" transform="translate(1143.96 878.81) scale(0.83 1)">1,24</text>
<text class="d m" transform="translate(1143.96 886.31) scale(0.83 1)">2,22</text>
<text class="d m" transform="translate(1215.66 878.87) scale(0.83 1)">5,25<tspan class="sup" dy="-2.6">5</tspan><tspan dy="2.6">​</tspan></text>
<text class="d m" transform="translate(1305.53 878.95) scale(0.83 1)">2,88<tspan class="sup" dy="-2.6">5</tspan><tspan dy="2.6">​</tspan></text>
<text class="d m" transform="translate(1305.53 886.45) scale(0.83 1)">2,22</text>
<text class="d m" transform="translate(1349.74 878.99) scale(0.83 1)">1,12</text>
<text class="d m" transform="translate(501.65 872) scale(0.83 1)">20</text>
<text class="d m" transform="translate(689.66 872) scale(0.83 1)">20</text>
<text class="d m" transform="translate(944.57 872) scale(0.83 1)">20</text>
<line class="dlm" x1="238.88" y1="894.5" x2="1374.26" y2="895.5"/>
<circle class="tk" cx="240.88" cy="894.5" r="0.85"/>
<path class="tkl" d="M238.78 894.5H242.98M240.88 892.4V896.6"/>
<circle class="tk" cx="503.86" cy="894.73" r="0.85"/>
<path class="tkl" d="M501.76 894.73H505.96M503.86 892.63V896.83"/>
<circle class="tk" cx="687.45" cy="894.9" r="0.85"/>
<path class="tkl" d="M685.35 894.9H689.55M687.45 892.8V897"/>
<circle class="tk" cx="946.78" cy="895.13" r="0.85"/>
<path class="tkl" d="M944.68 895.13H948.88M946.78 893.03V897.23"/>
<circle class="tk" cx="1130.27" cy="895.3" r="0.85"/>
<path class="tkl" d="M1128.17 895.3H1132.37M1130.27 893.2V897.4"/>
<circle class="tk" cx="1372.26" cy="895.51" r="0.85"/>
<path class="tkl" d="M1370.16 895.51H1374.36M1372.26 893.41V897.61"/>
<text class="d m" transform="translate(372 892.5) scale(0.83 1)">11,91</text>
<text class="d m" transform="translate(597 892.8) scale(0.83 1)">8,31</text>
<text class="d m" transform="translate(817 893) scale(0.83 1)">11,74</text>
<text class="d m" transform="translate(1037 893.5) scale(0.83 1)">8,31</text>
<text class="d m" transform="translate(1250 894) scale(0.83 1)">10,96</text>
<line class="dlm" x1="238.88" y1="909.9" x2="1374.26" y2="910.9"/>
<circle class="tk" cx="240.88" cy="909.9" r="0.85"/>
<path class="tkl" d="M238.78 909.9H242.98M240.88 907.8V912"/>
<circle class="tk" cx="1372.26" cy="910.9" r="0.85"/>
<path class="tkl" d="M1370.16 910.9H1374.36M1372.26 908.8V913"/>
<text class="d m" transform="translate(807 908.5) scale(0.83 1)">51,23</text>
<line class="dl" x1="239" y1="963.2" x2="358" y2="963.2"/>
<circle class="tk" cx="241" cy="963.2" r="0.85"/>
<path class="tkl" d="M238.9 963.2H243.1M241 961.1V965.3"/>
<circle class="tk" cx="276.5" cy="963.2" r="0.85"/>
<path class="tkl" d="M274.4 963.2H278.6M276.5 961.1V965.3"/>
<circle class="tk" cx="356" cy="963.2" r="0.85"/>
<path class="tkl" d="M353.9 963.2H358.1M356 961.1V965.3"/>
<text class="d m" transform="translate(259 961.3) scale(0.83 1)">1,60</text>
<text class="d m" transform="translate(316 961.3) scale(0.83 1)">3,60</text>
<line class="dl" x1="214.6" y1="181" x2="214.6" y2="882"/>
<circle class="tk" cx="214.6" cy="183.5" r="0.85"/>
<path class="tkl" d="M212.5 183.5H216.7M214.6 181.4V185.6"/>
<circle class="tk" cx="214.6" cy="229.2" r="0.85"/>
<path class="tkl" d="M212.5 229.2H216.7M214.6 227.1V231.3"/>
<circle class="tk" cx="214.6" cy="846.5" r="0.85"/>
<path class="tkl" d="M212.5 846.5H216.7M214.6 844.4V848.6"/>
<circle class="tk" cx="214.6" cy="879.6" r="0.85"/>
<path class="tkl" d="M212.5 879.6H216.7M214.6 877.5V881.7"/>
<text class="d m" transform="translate(212.7 206) rotate(-90) scale(0.83 1)">2,04</text>
<text class="d m" transform="translate(212.7 538) rotate(-90) scale(0.83 1)">28,01<tspan class="sup" dy="-2.6">5</tspan><tspan dy="2.6">​</tspan></text>
<text class="d m" transform="translate(212.7 863) rotate(-90) scale(0.83 1)">1,50</text>
<line class="dl" x1="226.9" y1="227.18" x2="226.9" y2="849.98"/>
<circle class="tk" cx="226.9" cy="229.18" r="0.85"/>
<path class="tkl" d="M224.8 229.18H229M226.9 227.08V231.28"/>
<circle class="tk" cx="226.9" cy="233.6" r="0.85"/>
<path class="tkl" d="M224.8 233.6H229M226.9 231.5V235.7"/>
<circle class="tk" cx="226.9" cy="238.9" r="0.85"/>
<path class="tkl" d="M224.8 238.9H229M226.9 236.8V241"/>
<circle class="tk" cx="226.9" cy="253.58" r="0.85"/>
<path class="tkl" d="M224.8 253.58H229M226.9 251.48V255.68"/>
<circle class="tk" cx="226.9" cy="284.16" r="0.85"/>
<path class="tkl" d="M224.8 284.16H229M226.9 282.06V286.26"/>
<circle class="tk" cx="226.9" cy="317.06" r="0.85"/>
<path class="tkl" d="M224.8 317.06H229M226.9 314.96V319.16"/>
<circle class="tk" cx="226.9" cy="355.92" r="0.85"/>
<path class="tkl" d="M224.8 355.92H229M226.9 353.82V358.02"/>
<circle class="tk" cx="226.9" cy="402.62" r="0.85"/>
<path class="tkl" d="M224.8 402.62H229M226.9 400.52V404.72"/>
<circle class="tk" cx="226.9" cy="419.4" r="0.85"/>
<path class="tkl" d="M224.8 419.4H229M226.9 417.3V421.5"/>
<circle class="tk" cx="226.9" cy="494.14" r="0.85"/>
<path class="tkl" d="M224.8 494.14H229M226.9 492.04V496.24"/>
<circle class="tk" cx="226.9" cy="533" r="0.85"/>
<path class="tkl" d="M224.8 533H229M226.9 530.9V535.1"/>
<circle class="tk" cx="226.9" cy="604.54" r="0.85"/>
<path class="tkl" d="M224.8 604.54H229M226.9 602.44V606.64"/>
<circle class="tk" cx="226.9" cy="626.84" r="0.85"/>
<path class="tkl" d="M224.8 626.84H229M226.9 624.74V628.94"/>
<circle class="tk" cx="226.9" cy="668.02" r="0.85"/>
<path class="tkl" d="M224.8 668.02H229M226.9 665.92V670.12"/>
<circle class="tk" cx="226.9" cy="690.32" r="0.85"/>
<path class="tkl" d="M224.8 690.32H229M226.9 688.22V692.42"/>
<circle class="tk" cx="226.9" cy="742.54" r="0.85"/>
<path class="tkl" d="M224.8 742.54H229M226.9 740.44V744.64"/>
<circle class="tk" cx="226.9" cy="773.12" r="0.85"/>
<path class="tkl" d="M224.8 773.12H229M226.9 771.02V775.22"/>
<circle class="tk" cx="226.9" cy="789.46" r="0.85"/>
<path class="tkl" d="M224.8 789.46H229M226.9 787.36V791.56"/>
<circle class="tk" cx="226.9" cy="828.32" r="0.85"/>
<path class="tkl" d="M224.8 828.32H229M226.9 826.22V830.42"/>
<circle class="tk" cx="226.9" cy="838.26" r="0.85"/>
<path class="tkl" d="M224.8 838.26H229M226.9 836.16V840.36"/>
<circle class="tk" cx="226.9" cy="843.56" r="0.85"/>
<path class="tkl" d="M224.8 843.56H229M226.9 841.46V845.66"/>
<circle class="tk" cx="226.9" cy="847.98" r="0.85"/>
<path class="tkl" d="M224.8 847.98H229M226.9 845.88V850.08"/>
<text class="d s" transform="translate(232.4 227.68) rotate(-90) scale(0.83 1)">20</text>
<text class="d m" transform="translate(225.2 236.75) rotate(-90) scale(0.83 1)">24</text>
<text class="d m" transform="translate(225.2 246.24) rotate(-90) scale(0.83 1)">66<tspan class="sup" dy="-2.6">5</tspan><tspan dy="2.6">​</tspan></text>
<text class="d m" transform="translate(225.2 268.87) rotate(-90) scale(0.83 1)">1,38<tspan class="sup" dy="-2.6">5</tspan><tspan dy="2.6">​</tspan></text>
<text class="d m" transform="translate(233 268.87) rotate(-90) scale(0.83 1)">2,22</text>
<text class="d m" transform="translate(225.2 300.61) rotate(-90) scale(0.83 1)">1,49</text>
<text class="d m" transform="translate(225.2 336.49) rotate(-90) scale(0.83 1)">1,76</text>
<text class="d m" transform="translate(233 336.49) rotate(-90) scale(0.83 1)">2,22</text>
<text class="d m" transform="translate(225.2 379.27) rotate(-90) scale(0.83 1)">2,11<tspan class="sup" dy="-2.6">5</tspan><tspan dy="2.6">​</tspan></text>
<text class="d m" transform="translate(225.2 411.01) rotate(-90) scale(0.83 1)">76</text>
<text class="d m" transform="translate(233 411.01) rotate(-90) scale(0.83 1)">2,22</text>
<text class="d m" transform="translate(225.2 456.77) rotate(-90) scale(0.83 1)">3,38<tspan class="sup" dy="-2.6">5</tspan><tspan dy="2.6">​</tspan></text>
<text class="d m" transform="translate(225.2 513.57) rotate(-90) scale(0.83 1)">1,76</text>
<text class="d m" transform="translate(233 513.57) rotate(-90) scale(0.83 1)">2,22</text>
<text class="d m" transform="translate(225.2 568.77) rotate(-90) scale(0.83 1)">3,24</text>
<text class="d m" transform="translate(225.2 615.69) rotate(-90) scale(0.83 1)">1,01</text>
<text class="d m" transform="translate(233 615.69) rotate(-90) scale(0.83 1)">2,22</text>
<text class="d m" transform="translate(225.2 647.43) rotate(-90) scale(0.83 1)">1,86<tspan class="sup" dy="-2.6">5</tspan><tspan dy="2.6">​</tspan></text>
<text class="d m" transform="translate(225.2 679.17) rotate(-90) scale(0.83 1)">1,01</text>
<text class="d m" transform="translate(233 679.17) rotate(-90) scale(0.83 1)">2,22</text>
<text class="d m" transform="translate(225.2 716.43) rotate(-90) scale(0.83 1)">2,36<tspan class="sup" dy="-2.6">5</tspan><tspan dy="2.6">​</tspan></text>
<text class="d m" transform="translate(225.2 757.83) rotate(-90) scale(0.83 1)">1,38<tspan class="sup" dy="-2.6">5</tspan><tspan dy="2.6">​</tspan></text>
<text class="d m" transform="translate(233 757.83) rotate(-90) scale(0.83 1)">2,22</text>
<text class="d m" transform="translate(225.2 781.29) rotate(-90) scale(0.83 1)">74</text>
<text class="d m" transform="translate(225.2 808.89) rotate(-90) scale(0.83 1)">1,76</text>
<text class="d m" transform="translate(233 808.89) rotate(-90) scale(0.83 1)">2,22</text>
<text class="d m" transform="translate(225.2 833.29) rotate(-90) scale(0.83 1)">45</text>
<text class="d m" transform="translate(218.4 840.91) rotate(-90) scale(0.83 1)">24</text>
<text class="d e" transform="translate(225.2 848.98) rotate(-90) scale(0.83 1)">20</text>
<polyline class="red" points="266.4,148.8 260.4,148.8 260.4,262.3"/>
<rect class="redb" x="266.4" y="111.5" width="53" height="37.3"/>
<text class="rl s" transform="translate(269.6 123.8) scale(0.8 1)">Whg 37 | C16</text>
<text class="rl s" transform="translate(269.6 134.9) scale(0.8 1)">2 Zimmer</text>
<text class="rl s" transform="translate(269.6 146) scale(0.8 1)">87,4 m<tspan class="sup" dy="-2.6">2</tspan><tspan dy="2.6">​</tspan></text>
<polyline class="red" points="437.2,148.8 430.7,148.8 430.7,262.3"/>
<rect class="redb" x="437.2" y="111.5" width="53.8" height="37.3"/>
<text class="rl s" transform="translate(440.4 123.8) scale(0.8 1)">Whg 36 | C15</text>
<text class="rl s" transform="translate(440.4 134.9) scale(0.8 1)">3 Zimmer</text>
<text class="rl s" transform="translate(440.4 146) scale(0.8 1)">78,5 m<tspan class="sup" dy="-2.6">2</tspan><tspan dy="2.6">​</tspan></text>
<polyline class="red" points="602.5,155.5 595.8,155.5 596.6,262.3"/>
<rect class="redb" x="602.5" y="107.2" width="48.6" height="48.3"/>
<text class="rl s" transform="translate(605.7 119.5) scale(0.8 1)">Whg 26 | C5</text>
<text class="rl s" transform="translate(605.7 130.6) scale(0.8 1)">Maisonette</text>
<text class="rl s" transform="translate(605.7 141.7) scale(0.8 1)">6 Zimmer</text>
<text class="rl s" transform="translate(605.7 152.8) scale(0.8 1)">228,9 m<tspan class="sup" dy="-2.6">2</tspan><tspan dy="2.6">​</tspan></text>
<polyline class="red" points="836.1,156.2 829.3,156.2 829.3,325.7"/>
<rect class="redb" x="836.1" y="107.2" width="52.3" height="49"/>
<text class="rl s" transform="translate(839.3 119.5) scale(0.8 1)">Whg 35 | C14</text>
<text class="rl s" transform="translate(839.3 130.6) scale(0.8 1)">Maisonette</text>
<text class="rl s" transform="translate(839.3 141.7) scale(0.8 1)">4,5 Zimmer</text>
<text class="rl s" transform="translate(839.3 152.8) scale(0.8 1)">194,5 m<tspan class="sup" dy="-2.6">2</tspan><tspan dy="2.6">​</tspan></text>
<polyline class="red" points="958.6,156.2 951.8,156.2 952.1,266.3"/>
<rect class="redb" x="958.6" y="107.2" width="48.4" height="49"/>
<text class="rl s" transform="translate(961.8 119.5) scale(0.8 1)">Whg 25 | C4</text>
<text class="rl s" transform="translate(961.8 130.6) scale(0.8 1)">Maisonette</text>
<text class="rl s" transform="translate(961.8 141.7) scale(0.8 1)">4 Zimmer</text>
<text class="rl s" transform="translate(961.8 152.8) scale(0.8 1)">110,8 m<tspan class="sup" dy="-2.6">2</tspan><tspan dy="2.6">​</tspan></text>
<polyline class="red" points="1259.4,165.3 1252.5,165.3 1253,266.8"/>
<rect class="redb" x="1259.4" y="127.2" width="53" height="38.1"/>
<text class="rl s" transform="translate(1262.6 139.5) scale(0.8 1)">Whg 34 | C13</text>
<text class="rl s" transform="translate(1262.6 150.6) scale(0.8 1)">5 Zimmer</text>
<text class="rl s" transform="translate(1262.6 161.7) scale(0.8 1)">133,8 m<tspan class="sup" dy="-2.6">2</tspan><tspan dy="2.6">​</tspan></text>
<polyline class="red" points="280.5,917.9 272.9,917.9 272.9,826.3"/>
<rect class="redb" x="280.5" y="915.2" width="52.6" height="38"/>
<text class="rl s" transform="translate(283.7 927.5) scale(0.8 1)">Whg 38 | C17</text>
<text class="rl s" transform="translate(283.7 938.6) scale(0.8 1)">2 Zimmer</text>
<text class="rl s" transform="translate(283.7 949.7) scale(0.8 1)">65,1 m<tspan class="sup" dy="-2.6">2</tspan><tspan dy="2.6">​</tspan></text>
<polyline class="red" points="435.2,914 428.1,914 428.1,826.3"/>
<rect class="redb" x="435.2" y="912.4" width="53.4" height="38.1"/>
<text class="rl s" transform="translate(438.4 924.7) scale(0.8 1)">Whg 39 | C18</text>
<text class="rl s" transform="translate(438.4 935.8) scale(0.8 1)">2 Zimmer</text>
<text class="rl s" transform="translate(438.4 946.9) scale(0.8 1)">65,5 m<tspan class="sup" dy="-2.6">2</tspan><tspan dy="2.6">​</tspan></text>
<polyline class="red" points="724.2,914 717.1,914 717.1,826.6"/>
<rect class="redb" x="724.2" y="912.4" width="53.8" height="38.1"/>
<text class="rl s" transform="translate(727.4 924.7) scale(0.8 1)">Whg 40 | C19</text>
<text class="rl s" transform="translate(727.4 935.8) scale(0.8 1)">2 Zimmer</text>
<text class="rl s" transform="translate(727.4 946.9) scale(0.8 1)">64,4 m<tspan class="sup" dy="-2.6">2</tspan><tspan dy="2.6">​</tspan></text>
<polyline class="red" points="846,918.3 839.3,918.3 839.3,826.6"/>
<rect class="redb" x="846" y="916.3" width="52.6" height="37.7"/>
<text class="rl s" transform="translate(849.2 928.6) scale(0.8 1)">Whg 41 | C20</text>
<text class="rl s" transform="translate(849.2 939.7) scale(0.8 1)">2 Zimmer</text>
<text class="rl s" transform="translate(849.2 950.8) scale(0.8 1)">64,4 m<tspan class="sup" dy="-2.6">2</tspan><tspan dy="2.6">​</tspan></text>
<polyline class="red" points="1300.6,919 1293.5,919 1293.5,827.3"/>
<rect class="redb" x="1300.6" y="916.3" width="53.4" height="37.7"/>
<text class="rl s" transform="translate(1303.8 928.6) scale(0.8 1)">Whg 42 | C21</text>
<text class="rl s" transform="translate(1303.8 939.7) scale(0.8 1)">5 Zimmer</text>
<text class="rl s" transform="translate(1303.8 950.8) scale(0.8 1)">116,4 m<tspan class="sup" dy="-2.6">2</tspan><tspan dy="2.6">​</tspan></text>
<circle class="rdot" cx="260.4" cy="262.3" r="1.9"/>
<circle class="rdot" cx="430.7" cy="262.3" r="1.9"/>
<circle class="rdot" cx="596.6" cy="262.3" r="1.9"/>
<circle class="rdot" cx="829.3" cy="325.7" r="1.9"/>
<circle class="rdot" cx="952.1" cy="266.3" r="1.9"/>
<circle class="rdot" cx="1253" cy="266.8" r="1.9"/>
<circle class="rdot" cx="272.9" cy="826.3" r="1.9"/>
<circle class="rdot" cx="428.1" cy="826.3" r="1.9"/>
<circle class="rdot" cx="717.1" cy="826.6" r="1.9"/>
<circle class="rdot" cx="839.3" cy="826.6" r="1.9"/>
<circle class="rdot" cx="1293.5" cy="827.3" r="1.9"/>
<rect class="lg" x="333.01" y="184.5" width="68.45" height="44.7"/>
<rect class="lg" x="434.58" y="184.5" width="68.45" height="44.7"/>
<rect class="lg" x="592.45" y="184.5" width="68.45" height="44.7"/>
<rect class="lg" x="977.75" y="199" width="68.45" height="44.6"/>
<rect class="lg" x="503.9" y="759.7" width="44.4" height="67.9"/>
<rect class="lg" x="642" y="750.4" width="44" height="65.2"/>
<rect class="lg" x="946.7" y="749.8" width="43.8" height="64.7"/>
<rect class="lg" x="1085" y="780.5" width="43.8" height="66"/>
<rect class="lg" x="277.6" y="847" width="76.9" height="32"/>
<rect class="lg" x="1233" y="847" width="135" height="25.5"/>
<polyline class="lg" points="1342,266.5 1385,264.5 1393.5,394 1349,397"/>
<polygon class="ins" points="239.3,229.2 700,229.2 700,285.2 931,285.2 931,243.6 1339.5,243.6 1371.4,847.5 1130.4,847 1128.8,476.5 945.1,476.5 946.7,846.5 687.3,846.2 686,477 502.3,477 503.9,846.2 241,846.2"/>
<rect class="hw" x="243.5" y="233.7" width="92.1" height="5.2"/>
<rect class="hw" x="398.7" y="233.7" width="40.1" height="5.2"/>
<rect class="hw" x="500.5" y="233.7" width="20.4" height="5.2"/>
<rect class="hw" x="542.3" y="233.7" width="52.5" height="5.2"/>
<rect class="hw" x="658.5" y="233.7" width="37.5" height="5.2"/>
<rect class="wh" x="335.6" y="229.6" width="63.1" height="9.3"/>
<line class="ins" x1="335.6" y1="229.2" x2="398.7" y2="229.2"/>
<line class="win2" x1="335.6" y1="229.2" x2="335.6" y2="233.7"/>
<line class="win2" x1="398.7" y1="229.2" x2="398.7" y2="233.7"/>
<line class="win3" x1="335.6" y1="234.7" x2="398.7" y2="234.7"/>
<line class="win2" x1="335.6" y1="236.1" x2="398.7" y2="236.1"/>
<polyline class="win2" points="335.6,236.1 351.38,242.6 351.38,236.1"/>
<polyline class="win2" points="351.38,236.1 351.38,242.6 367.15,236.1"/>
<polyline class="win2" points="367.15,236.1 382.92,242.6 382.92,236.1"/>
<polyline class="win2" points="382.93,236.1 382.93,242.6 398.7,236.1"/>
<rect class="wh" x="438.8" y="229.6" width="61.7" height="9.3"/>
<line class="ins" x1="438.8" y1="229.2" x2="500.5" y2="229.2"/>
<line class="win2" x1="438.8" y1="229.2" x2="438.8" y2="233.7"/>
<line class="win2" x1="500.5" y1="229.2" x2="500.5" y2="233.7"/>
<line class="win3" x1="438.8" y1="234.7" x2="500.5" y2="234.7"/>
<line class="win2" x1="438.8" y1="236.1" x2="500.5" y2="236.1"/>
<polyline class="win2" points="438.8,236.1 454.23,242.6 454.23,236.1"/>
<polyline class="win2" points="454.23,236.1 454.23,242.6 469.65,236.1"/>
<polyline class="win2" points="469.65,236.1 485.07,242.6 485.07,236.1"/>
<polyline class="win2" points="485.07,236.1 485.07,242.6 500.5,236.1"/>
<rect class="wh" x="520.9" y="229.6" width="21.4" height="9.3"/>
<line class="ins" x1="520.9" y1="229.2" x2="542.3" y2="229.2"/>
<line class="win2" x1="520.9" y1="229.2" x2="520.9" y2="233.7"/>
<line class="win2" x1="542.3" y1="229.2" x2="542.3" y2="233.7"/>
<line class="win3" x1="520.9" y1="234.7" x2="542.3" y2="234.7"/>
<line class="win2" x1="520.9" y1="236.1" x2="542.3" y2="236.1"/>
<polyline class="win2" points="520.9,236.1 542.3,242.6 542.3,236.1"/>
<rect class="wh" x="594.8" y="229.6" width="63.7" height="9.3"/>
<line class="ins" x1="594.8" y1="229.2" x2="658.5" y2="229.2"/>
<line class="win2" x1="594.8" y1="229.2" x2="594.8" y2="233.7"/>
<line class="win2" x1="658.5" y1="229.2" x2="658.5" y2="233.7"/>
<line class="win3" x1="594.8" y1="234.7" x2="658.5" y2="234.7"/>
<line class="win2" x1="594.8" y1="236.1" x2="658.5" y2="236.1"/>
<polyline class="win2" points="594.8,236.1 610.72,242.6 610.72,236.1"/>
<polyline class="win2" points="610.72,236.1 610.72,242.6 626.65,236.1"/>
<polyline class="win2" points="626.65,236.1 642.58,242.6 642.58,236.1"/>
<polyline class="win2" points="642.58,236.1 642.58,242.6 658.5,236.1"/>
<rect class="hw" x="243.7" y="233.7" width="5.5" height="19.4"/>
<rect class="hw" x="243.7" y="283" width="5.5" height="33.3"/>
<rect class="hw" x="243.7" y="354.7" width="5.5" height="45.8"/>
<rect class="hw" x="243.7" y="419" width="5.5" height="74.1"/>
<rect class="hw" x="243.7" y="531.8" width="5.5" height="70.7"/>
<rect class="hw" x="243.7" y="624.9" width="5.5" height="41.5"/>
<rect class="hw" x="243.7" y="689.1" width="5.5" height="52.8"/>
<rect class="hw" x="243.7" y="771.7" width="5.5" height="17.8"/>
<rect class="hw" x="243.7" y="826.8" width="5.5" height="15.4"/>
<rect class="wh" x="240" y="253.1" width="9.2" height="29.9"/>
<line class="ins" x1="239.6" y1="253.1" x2="239.6" y2="283"/>
<line class="win2" x1="239.6" y1="253.1" x2="243.7" y2="253.1"/>
<line class="win2" x1="239.6" y1="283" x2="243.7" y2="283"/>
<line class="win3" x1="244.7" y1="253.1" x2="244.7" y2="283"/>
<line class="win2" x1="246.1" y1="253.1" x2="246.1" y2="283"/>
<polyline class="win2" points="246.1,253.1 252.6,268.05 246.1,268.05"/>
<polyline class="win2" points="246.1,268.05 252.6,268.05 246.1,283"/>
<rect class="wh" x="240" y="316.3" width="9.2" height="38.4"/>
<line class="ins" x1="239.6" y1="316.3" x2="239.6" y2="354.7"/>
<line class="win2" x1="239.6" y1="316.3" x2="243.7" y2="316.3"/>
<line class="win2" x1="239.6" y1="354.7" x2="243.7" y2="354.7"/>
<line class="win3" x1="244.7" y1="316.3" x2="244.7" y2="354.7"/>
<line class="win2" x1="246.1" y1="316.3" x2="246.1" y2="354.7"/>
<polyline class="win2" points="246.1,316.3 252.6,335.5 246.1,335.5"/>
<polyline class="win2" points="246.1,335.5 252.6,335.5 246.1,354.7"/>
<rect class="wh" x="240" y="400.5" width="9.2" height="18.5"/>
<line class="ins" x1="239.6" y1="400.5" x2="239.6" y2="419"/>
<line class="win2" x1="239.6" y1="400.5" x2="243.7" y2="400.5"/>
<line class="win2" x1="239.6" y1="419" x2="243.7" y2="419"/>
<line class="win3" x1="244.7" y1="400.5" x2="244.7" y2="419"/>
<line class="win2" x1="246.1" y1="400.5" x2="246.1" y2="419"/>
<polyline class="win2" points="246.1,400.5 252.6,419 246.1,419"/>
<rect class="wh" x="240" y="493.1" width="9.2" height="38.7"/>
<line class="ins" x1="239.6" y1="493.1" x2="239.6" y2="531.8"/>
<line class="win2" x1="239.6" y1="493.1" x2="243.7" y2="493.1"/>
<line class="win2" x1="239.6" y1="531.8" x2="243.7" y2="531.8"/>
<line class="win3" x1="244.7" y1="493.1" x2="244.7" y2="531.8"/>
<line class="win2" x1="246.1" y1="493.1" x2="246.1" y2="531.8"/>
<polyline class="win2" points="246.1,493.1 252.6,512.45 246.1,512.45"/>
<polyline class="win2" points="246.1,512.45 252.6,512.45 246.1,531.8"/>
<rect class="wh" x="240" y="602.5" width="9.2" height="22.4"/>
<line class="ins" x1="239.6" y1="602.5" x2="239.6" y2="624.9"/>
<line class="win2" x1="239.6" y1="602.5" x2="243.7" y2="602.5"/>
<line class="win2" x1="239.6" y1="624.9" x2="243.7" y2="624.9"/>
<line class="win3" x1="244.7" y1="602.5" x2="244.7" y2="624.9"/>
<line class="win2" x1="246.1" y1="602.5" x2="246.1" y2="624.9"/>
<polyline class="win2" points="246.1,602.5 252.6,624.9 246.1,624.9"/>
<rect class="wh" x="240" y="666.4" width="9.2" height="22.7"/>
<line class="ins" x1="239.6" y1="666.4" x2="239.6" y2="689.1"/>
<line class="win2" x1="239.6" y1="666.4" x2="243.7" y2="666.4"/>
<line class="win2" x1="239.6" y1="689.1" x2="243.7" y2="689.1"/>
<line class="win3" x1="244.7" y1="666.4" x2="244.7" y2="689.1"/>
<line class="win2" x1="246.1" y1="666.4" x2="246.1" y2="689.1"/>
<polyline class="win2" points="246.1,666.4 252.6,689.1 246.1,689.1"/>
<rect class="wh" x="240" y="741.9" width="9.2" height="29.8"/>
<line class="ins" x1="239.6" y1="741.9" x2="239.6" y2="771.7"/>
<line class="win2" x1="239.6" y1="741.9" x2="243.7" y2="741.9"/>
<line class="win2" x1="239.6" y1="771.7" x2="243.7" y2="771.7"/>
<line class="win3" x1="244.7" y1="741.9" x2="244.7" y2="771.7"/>
<line class="win2" x1="246.1" y1="741.9" x2="246.1" y2="771.7"/>
<polyline class="win2" points="246.1,741.9 252.6,756.8 246.1,756.8"/>
<polyline class="win2" points="246.1,756.8 252.6,756.8 246.1,771.7"/>
<rect class="wh" x="240" y="789.5" width="9.2" height="37.3"/>
<line class="ins" x1="239.6" y1="789.5" x2="239.6" y2="826.8"/>
<line class="win2" x1="239.6" y1="789.5" x2="243.7" y2="789.5"/>
<line class="win2" x1="239.6" y1="826.8" x2="243.7" y2="826.8"/>
<line class="win3" x1="244.7" y1="789.5" x2="244.7" y2="826.8"/>
<line class="win2" x1="246.1" y1="789.5" x2="246.1" y2="826.8"/>
<polyline class="win2" points="246.1,789.5 252.6,808.15 246.1,808.15"/>
<polyline class="win2" points="246.1,808.15 252.6,808.15 246.1,826.8"/>
<rect class="hw" x="244.5" y="836.9" width="40.1" height="5.3"/>
<rect class="hw" x="347.8" y="836.9" width="50.5" height="5.3"/>
<rect class="hw" x="435" y="836.9" width="63.8" height="5.3"/>
<rect class="wh" x="284.6" y="836.9" width="63.2" height="9.1"/>
<line class="ins" x1="284.6" y1="846.4" x2="347.8" y2="846.4"/>
<line class="win2" x1="284.6" y1="846.4" x2="284.6" y2="842.2"/>
<line class="win2" x1="347.8" y1="846.4" x2="347.8" y2="842.2"/>
<line class="win3" x1="284.6" y1="841.2" x2="347.8" y2="841.2"/>
<line class="win2" x1="284.6" y1="839.8" x2="347.8" y2="839.8"/>
<polyline class="win2" points="284.6,839.8 300.4,833.3 300.4,839.8"/>
<polyline class="win2" points="300.4,839.8 300.4,833.3 316.2,839.8"/>
<polyline class="win2" points="316.2,839.8 332,833.3 332,839.8"/>
<polyline class="win2" points="332,839.8 332,833.3 347.8,839.8"/>
<rect class="wh" x="398.3" y="836.9" width="36.7" height="9.1"/>
<line class="ins" x1="398.3" y1="846.4" x2="435" y2="846.4"/>
<line class="win2" x1="398.3" y1="846.4" x2="398.3" y2="842.2"/>
<line class="win2" x1="435" y1="846.4" x2="435" y2="842.2"/>
<line class="win3" x1="398.3" y1="841.2" x2="435" y2="841.2"/>
<line class="win2" x1="398.3" y1="839.8" x2="435" y2="839.8"/>
<polyline class="win2" points="398.3,839.8 416.65,833.3 416.65,839.8"/>
<polyline class="win2" points="416.65,839.8 416.65,833.3 435,839.8"/>
<rect class="hw" x="492.9" y="472.8" width="5.4" height="24.2"/>
<rect class="hw" x="492.9" y="527.5" width="5.4" height="75"/>
<rect class="hw" x="492.9" y="624.8" width="5.4" height="46.7"/>
<rect class="hw" x="492.9" y="702" width="5.4" height="46.7"/>
<rect class="hw" x="492.9" y="765.5" width="5.4" height="8.6"/>
<rect class="hw" x="492.9" y="813" width="5.4" height="29.2"/>
<rect class="wh" x="492.9" y="497" width="9.5" height="30.5"/>
<line class="ins" x1="502.8" y1="497" x2="502.8" y2="527.5"/>
<line class="win2" x1="502.8" y1="497" x2="498.3" y2="497"/>
<line class="win2" x1="502.8" y1="527.5" x2="498.3" y2="527.5"/>
<line class="win3" x1="497.3" y1="497" x2="497.3" y2="527.5"/>
<line class="win2" x1="495.9" y1="497" x2="495.9" y2="527.5"/>
<polyline class="win2" points="495.9,497 489.4,512.25 495.9,512.25"/>
<polyline class="win2" points="495.9,512.25 489.4,512.25 495.9,527.5"/>
<rect class="wh" x="492.9" y="602.5" width="9.5" height="22.3"/>
<line class="ins" x1="502.8" y1="602.5" x2="502.8" y2="624.8"/>
<line class="win2" x1="502.8" y1="602.5" x2="498.3" y2="602.5"/>
<line class="win2" x1="502.8" y1="624.8" x2="498.3" y2="624.8"/>
<line class="win3" x1="497.3" y1="602.5" x2="497.3" y2="624.8"/>
<line class="win2" x1="495.9" y1="602.5" x2="495.9" y2="624.8"/>
<polyline class="win2" points="495.9,602.5 489.4,624.8 495.9,624.8"/>
<rect class="wh" x="492.9" y="671.5" width="9.5" height="30.5"/>
<line class="ins" x1="502.8" y1="671.5" x2="502.8" y2="702"/>
<line class="win2" x1="502.8" y1="671.5" x2="498.3" y2="671.5"/>
<line class="win2" x1="502.8" y1="702" x2="498.3" y2="702"/>
<line class="win3" x1="497.3" y1="671.5" x2="497.3" y2="702"/>
<line class="win2" x1="495.9" y1="671.5" x2="495.9" y2="702"/>
<polyline class="win2" points="495.9,671.5 489.4,686.75 495.9,686.75"/>
<polyline class="win2" points="495.9,686.75 489.4,686.75 495.9,702"/>
<rect class="wh" x="492.9" y="748.7" width="9.5" height="16.8"/>
<line class="ins" x1="502.8" y1="748.7" x2="502.8" y2="765.5"/>
<line class="win2" x1="502.8" y1="748.7" x2="498.3" y2="748.7"/>
<line class="win2" x1="502.8" y1="765.5" x2="498.3" y2="765.5"/>
<line class="win3" x1="497.3" y1="748.7" x2="497.3" y2="765.5"/>
<line class="win2" x1="495.9" y1="748.7" x2="495.9" y2="765.5"/>
<polyline class="win2" points="495.9,748.7 489.4,765.5 495.9,765.5"/>
<rect class="wh" x="492.9" y="774.1" width="9.5" height="38.9"/>
<line class="ins" x1="502.8" y1="774.1" x2="502.8" y2="813"/>
<line class="win2" x1="502.8" y1="774.1" x2="498.3" y2="774.1"/>
<line class="win2" x1="502.8" y1="813" x2="498.3" y2="813"/>
<line class="win3" x1="497.3" y1="774.1" x2="497.3" y2="813"/>
<line class="win2" x1="495.9" y1="774.1" x2="495.9" y2="813"/>
<polyline class="win2" points="495.9,774.1 489.4,793.55 495.9,793.55"/>
<polyline class="win2" points="495.9,793.55 489.4,793.55 495.9,813"/>
<rect class="hw" x="492.9" y="467.4" width="19.3" height="5.4"/>
<rect class="hw" x="543.3" y="467.4" width="34" height="5.4"/>
<rect class="hw" x="606" y="467.4" width="33.5" height="5.4"/>
<rect class="hw" x="661.4" y="467.4" width="34.4" height="5.4"/>
<rect class="wh" x="512.2" y="467.4" width="31.1" height="9.2"/>
<line class="ins" x1="512.2" y1="477" x2="543.3" y2="477"/>
<line class="win2" x1="512.2" y1="477" x2="512.2" y2="472.8"/>
<line class="win2" x1="543.3" y1="477" x2="543.3" y2="472.8"/>
<line class="win3" x1="512.2" y1="471.8" x2="543.3" y2="471.8"/>
<line class="win2" x1="512.2" y1="470.4" x2="543.3" y2="470.4"/>
<polyline class="win2" points="512.2,470.4 527.75,463.9 527.75,470.4"/>
<polyline class="win2" points="527.75,470.4 527.75,463.9 543.3,470.4"/>
<rect class="wh" x="577.3" y="467.4" width="28.7" height="9.2"/>
<line class="ins" x1="577.3" y1="477" x2="606" y2="477"/>
<line class="win2" x1="577.3" y1="477" x2="577.3" y2="472.8"/>
<line class="win2" x1="606" y1="477" x2="606" y2="472.8"/>
<line class="win3" x1="577.3" y1="471.8" x2="606" y2="471.8"/>
<line class="win2" x1="577.3" y1="470.4" x2="606" y2="470.4"/>
<polyline class="win2" points="577.3,470.4 591.65,463.9 591.65,470.4"/>
<polyline class="win2" points="591.65,470.4 591.65,463.9 606,470.4"/>
<rect class="wh" x="639.5" y="467.4" width="21.9" height="9.2"/>
<line class="ins" x1="639.5" y1="477" x2="661.4" y2="477"/>
<line class="win2" x1="639.5" y1="477" x2="639.5" y2="472.8"/>
<line class="win2" x1="661.4" y1="477" x2="661.4" y2="472.8"/>
<line class="win3" x1="639.5" y1="471.8" x2="661.4" y2="471.8"/>
<line class="win2" x1="639.5" y1="470.4" x2="661.4" y2="470.4"/>
<polyline class="win2" points="639.5,470.4 661.4,463.9 661.4,470.4"/>
<rect class="hw" x="690.8" y="472.8" width="5.4" height="21.7"/>
<rect class="hw" x="690.8" y="533.2" width="5.4" height="71.6"/>
<rect class="hw" x="690.8" y="627" width="5.4" height="46.7"/>
<rect class="hw" x="690.8" y="704.2" width="5.4" height="46.7"/>
<rect class="hw" x="690.8" y="767.7" width="5.4" height="8.6"/>
<rect class="hw" x="690.8" y="815.2" width="5.4" height="27"/>
<rect class="wh" x="686.8" y="494.5" width="9.4" height="38.7"/>
<line class="ins" x1="686.4" y1="494.5" x2="686.4" y2="533.2"/>
<line class="win2" x1="686.4" y1="494.5" x2="690.8" y2="494.5"/>
<line class="win2" x1="686.4" y1="533.2" x2="690.8" y2="533.2"/>
<line class="win3" x1="691.8" y1="494.5" x2="691.8" y2="533.2"/>
<line class="win2" x1="693.2" y1="494.5" x2="693.2" y2="533.2"/>
<polyline class="win2" points="693.2,494.5 699.7,513.85 693.2,513.85"/>
<polyline class="win2" points="693.2,513.85 699.7,513.85 693.2,533.2"/>
<rect class="wh" x="686.8" y="604.8" width="9.4" height="22.2"/>
<line class="ins" x1="686.4" y1="604.8" x2="686.4" y2="627"/>
<line class="win2" x1="686.4" y1="604.8" x2="690.8" y2="604.8"/>
<line class="win2" x1="686.4" y1="627" x2="690.8" y2="627"/>
<line class="win3" x1="691.8" y1="604.8" x2="691.8" y2="627"/>
<line class="win2" x1="693.2" y1="604.8" x2="693.2" y2="627"/>
<polyline class="win2" points="693.2,604.8 699.7,627 693.2,627"/>
<rect class="wh" x="686.8" y="673.7" width="9.4" height="30.5"/>
<line class="ins" x1="686.4" y1="673.7" x2="686.4" y2="704.2"/>
<line class="win2" x1="686.4" y1="673.7" x2="690.8" y2="673.7"/>
<line class="win2" x1="686.4" y1="704.2" x2="690.8" y2="704.2"/>
<line class="win3" x1="691.8" y1="673.7" x2="691.8" y2="704.2"/>
<line class="win2" x1="693.2" y1="673.7" x2="693.2" y2="704.2"/>
<polyline class="win2" points="693.2,673.7 699.7,688.95 693.2,688.95"/>
<polyline class="win2" points="693.2,688.95 699.7,688.95 693.2,704.2"/>
<rect class="wh" x="686.8" y="750.9" width="9.4" height="16.8"/>
<line class="ins" x1="686.4" y1="750.9" x2="686.4" y2="767.7"/>
<line class="win2" x1="686.4" y1="750.9" x2="690.8" y2="750.9"/>
<line class="win2" x1="686.4" y1="767.7" x2="690.8" y2="767.7"/>
<line class="win3" x1="691.8" y1="750.9" x2="691.8" y2="767.7"/>
<line class="win2" x1="693.2" y1="750.9" x2="693.2" y2="767.7"/>
<polyline class="win2" points="693.2,750.9 699.7,767.7 693.2,767.7"/>
<rect class="wh" x="686.8" y="776.3" width="9.4" height="38.9"/>
<line class="ins" x1="686.4" y1="776.3" x2="686.4" y2="815.2"/>
<line class="win2" x1="686.4" y1="776.3" x2="690.8" y2="776.3"/>
<line class="win2" x1="686.4" y1="815.2" x2="690.8" y2="815.2"/>
<line class="win3" x1="691.8" y1="776.3" x2="691.8" y2="815.2"/>
<line class="win2" x1="693.2" y1="776.3" x2="693.2" y2="815.2"/>
<polyline class="win2" points="693.2,776.3 699.7,795.75 693.2,795.75"/>
<polyline class="win2" points="693.2,795.75 699.7,795.75 693.2,815.2"/>
<rect class="hw" x="691" y="836.9" width="39.3" height="5.3"/>
<rect class="hw" x="793.8" y="836.9" width="69" height="5.3"/>
<rect class="hw" x="901.2" y="836.9" width="40.8" height="5.3"/>
<rect class="wh" x="730.3" y="836.9" width="63.5" height="9.1"/>
<line class="ins" x1="730.3" y1="846.4" x2="793.8" y2="846.4"/>
<line class="win2" x1="730.3" y1="846.4" x2="730.3" y2="842.2"/>
<line class="win2" x1="793.8" y1="846.4" x2="793.8" y2="842.2"/>
<line class="win3" x1="730.3" y1="841.2" x2="793.8" y2="841.2"/>
<line class="win2" x1="730.3" y1="839.8" x2="793.8" y2="839.8"/>
<polyline class="win2" points="730.3,839.8 746.17,833.3 746.17,839.8"/>
<polyline class="win2" points="746.17,839.8 746.17,833.3 762.05,839.8"/>
<polyline class="win2" points="762.05,839.8 777.92,833.3 777.92,839.8"/>
<polyline class="win2" points="777.92,839.8 777.92,833.3 793.8,839.8"/>
<rect class="wh" x="862.8" y="836.9" width="38.4" height="9.1"/>
<line class="ins" x1="862.8" y1="846.4" x2="901.2" y2="846.4"/>
<line class="win2" x1="862.8" y1="846.4" x2="862.8" y2="842.2"/>
<line class="win2" x1="901.2" y1="846.4" x2="901.2" y2="842.2"/>
<line class="win3" x1="862.8" y1="841.2" x2="901.2" y2="841.2"/>
<line class="win2" x1="862.8" y1="839.8" x2="901.2" y2="839.8"/>
<polyline class="win2" points="862.8,839.8 882,833.3 882,839.8"/>
<polyline class="win2" points="882,839.8 882,833.3 901.2,839.8"/>
<rect class="hw" x="935.8" y="471" width="5.4" height="25.5"/>
<rect class="hw" x="935.8" y="527" width="5.4" height="74.5"/>
<rect class="hw" x="935.8" y="623.8" width="5.4" height="46.7"/>
<rect class="hw" x="935.8" y="701" width="5.4" height="46.7"/>
<rect class="hw" x="935.8" y="764.5" width="5.4" height="8.6"/>
<rect class="hw" x="935.8" y="812" width="5.4" height="30.2"/>
<rect class="wh" x="935.8" y="496.5" width="9.8" height="30.5"/>
<line class="ins" x1="946" y1="496.5" x2="946" y2="527"/>
<line class="win2" x1="946" y1="496.5" x2="941.2" y2="496.5"/>
<line class="win2" x1="946" y1="527" x2="941.2" y2="527"/>
<line class="win3" x1="940.2" y1="496.5" x2="940.2" y2="527"/>
<line class="win2" x1="938.8" y1="496.5" x2="938.8" y2="527"/>
<polyline class="win2" points="938.8,496.5 932.3,511.75 938.8,511.75"/>
<polyline class="win2" points="938.8,511.75 932.3,511.75 938.8,527"/>
<rect class="wh" x="935.8" y="601.5" width="9.8" height="22.3"/>
<line class="ins" x1="946" y1="601.5" x2="946" y2="623.8"/>
<line class="win2" x1="946" y1="601.5" x2="941.2" y2="601.5"/>
<line class="win2" x1="946" y1="623.8" x2="941.2" y2="623.8"/>
<line class="win3" x1="940.2" y1="601.5" x2="940.2" y2="623.8"/>
<line class="win2" x1="938.8" y1="601.5" x2="938.8" y2="623.8"/>
<polyline class="win2" points="938.8,601.5 932.3,623.8 938.8,623.8"/>
<rect class="wh" x="935.8" y="670.5" width="9.8" height="30.5"/>
<line class="ins" x1="946" y1="670.5" x2="946" y2="701"/>
<line class="win2" x1="946" y1="670.5" x2="941.2" y2="670.5"/>
<line class="win2" x1="946" y1="701" x2="941.2" y2="701"/>
<line class="win3" x1="940.2" y1="670.5" x2="940.2" y2="701"/>
<line class="win2" x1="938.8" y1="670.5" x2="938.8" y2="701"/>
<polyline class="win2" points="938.8,670.5 932.3,685.75 938.8,685.75"/>
<polyline class="win2" points="938.8,685.75 932.3,685.75 938.8,701"/>
<rect class="wh" x="935.8" y="747.7" width="9.8" height="16.8"/>
<line class="ins" x1="946" y1="747.7" x2="946" y2="764.5"/>
<line class="win2" x1="946" y1="747.7" x2="941.2" y2="747.7"/>
<line class="win2" x1="946" y1="764.5" x2="941.2" y2="764.5"/>
<line class="win3" x1="940.2" y1="747.7" x2="940.2" y2="764.5"/>
<line class="win2" x1="938.8" y1="747.7" x2="938.8" y2="764.5"/>
<polyline class="win2" points="938.8,747.7 932.3,764.5 938.8,764.5"/>
<rect class="wh" x="935.8" y="773.1" width="9.8" height="38.9"/>
<line class="ins" x1="946" y1="773.1" x2="946" y2="812"/>
<line class="win2" x1="946" y1="773.1" x2="941.2" y2="773.1"/>
<line class="win2" x1="946" y1="812" x2="941.2" y2="812"/>
<line class="win3" x1="940.2" y1="773.1" x2="940.2" y2="812"/>
<line class="win2" x1="938.8" y1="773.1" x2="938.8" y2="812"/>
<polyline class="win2" points="938.8,773.1 932.3,792.55 938.8,792.55"/>
<polyline class="win2" points="938.8,792.55 932.3,792.55 938.8,812"/>
<rect class="hw" x="935.8" y="468.8" width="29.8" height="5.2"/>
<rect class="hw" x="987.4" y="468.8" width="47.6" height="5.2"/>
<rect class="hw" x="1055.8" y="468.8" width="36.7" height="5.2"/>
<rect class="hw" x="1122.7" y="468.8" width="15.8" height="5.2"/>
<rect class="wh" x="965.6" y="468.8" width="21.8" height="7.8"/>
<line class="ins" x1="965.6" y1="477" x2="987.4" y2="477"/>
<line class="win2" x1="965.6" y1="477" x2="965.6" y2="474"/>
<line class="win2" x1="987.4" y1="477" x2="987.4" y2="474"/>
<line class="win3" x1="965.6" y1="473" x2="987.4" y2="473"/>
<line class="win2" x1="965.6" y1="471.6" x2="987.4" y2="471.6"/>
<polyline class="win2" points="965.6,471.6 987.4,465.1 987.4,471.6"/>
<rect class="wh" x="1035" y="468.8" width="20.8" height="7.8"/>
<line class="ins" x1="1035" y1="477" x2="1055.8" y2="477"/>
<line class="win2" x1="1035" y1="477" x2="1035" y2="474"/>
<line class="win2" x1="1055.8" y1="477" x2="1055.8" y2="474"/>
<line class="win3" x1="1035" y1="473" x2="1055.8" y2="473"/>
<line class="win2" x1="1035" y1="471.6" x2="1055.8" y2="471.6"/>
<polyline class="win2" points="1035,471.6 1055.8,465.1 1055.8,471.6"/>
<rect class="wh" x="1092.5" y="468.8" width="30.2" height="7.8"/>
<line class="ins" x1="1092.5" y1="477" x2="1122.7" y2="477"/>
<line class="win2" x1="1092.5" y1="477" x2="1092.5" y2="474"/>
<line class="win2" x1="1122.7" y1="477" x2="1122.7" y2="474"/>
<line class="win3" x1="1092.5" y1="473" x2="1122.7" y2="473"/>
<line class="win2" x1="1092.5" y1="471.6" x2="1122.7" y2="471.6"/>
<polyline class="win2" points="1092.5,471.6 1107.6,465.1 1107.6,471.6"/>
<polyline class="win2" points="1107.6,471.6 1107.6,465.1 1122.7,471.6"/>
<rect class="hw" x="1133" y="474" width="5.6" height="64.4"/>
<rect class="hw" x="1133" y="550" width="5.6" height="87.3"/>
<rect class="hw" x="1133" y="667.9" width="5.6" height="41.2"/>
<rect class="hw" x="1133" y="739.7" width="5.6" height="41.2"/>
<rect class="hw" x="1133" y="836.3" width="5.6" height="6.7"/>
<rect class="wh" x="1129.6" y="538.4" width="9" height="11.6"/>
<line class="ins" x1="1129.2" y1="538.4" x2="1129.2" y2="550"/>
<line class="win2" x1="1129.2" y1="538.4" x2="1133" y2="538.4"/>
<line class="win2" x1="1129.2" y1="550" x2="1133" y2="550"/>
<line class="win3" x1="1134" y1="538.4" x2="1134" y2="550"/>
<line class="win2" x1="1135.4" y1="538.4" x2="1135.4" y2="550"/>
<polyline class="win2" points="1135.4,538.4 1141.9,550 1135.4,550"/>
<rect class="wh" x="1129.6" y="637.3" width="9" height="30.6"/>
<line class="ins" x1="1129.2" y1="637.3" x2="1129.2" y2="667.9"/>
<line class="win2" x1="1129.2" y1="637.3" x2="1133" y2="637.3"/>
<line class="win2" x1="1129.2" y1="667.9" x2="1133" y2="667.9"/>
<line class="win3" x1="1134" y1="637.3" x2="1134" y2="667.9"/>
<line class="win2" x1="1135.4" y1="637.3" x2="1135.4" y2="667.9"/>
<polyline class="win2" points="1135.4,637.3 1141.9,652.6 1135.4,652.6"/>
<polyline class="win2" points="1135.4,652.6 1141.9,652.6 1135.4,667.9"/>
<rect class="wh" x="1129.6" y="709.1" width="9" height="30.6"/>
<line class="ins" x1="1129.2" y1="709.1" x2="1129.2" y2="739.7"/>
<line class="win2" x1="1129.2" y1="709.1" x2="1133" y2="709.1"/>
<line class="win2" x1="1129.2" y1="739.7" x2="1133" y2="739.7"/>
<line class="win3" x1="1134" y1="709.1" x2="1134" y2="739.7"/>
<line class="win2" x1="1135.4" y1="709.1" x2="1135.4" y2="739.7"/>
<polyline class="win2" points="1135.4,709.1 1141.9,724.4 1135.4,724.4"/>
<polyline class="win2" points="1135.4,724.4 1141.9,724.4 1135.4,739.7"/>
<rect class="wh" x="1129.6" y="780.9" width="9" height="55.4"/>
<line class="ins" x1="1129.2" y1="780.9" x2="1129.2" y2="836.3"/>
<line class="win2" x1="1129.2" y1="780.9" x2="1133" y2="780.9"/>
<line class="win2" x1="1129.2" y1="836.3" x2="1133" y2="836.3"/>
<line class="win3" x1="1134" y1="780.9" x2="1134" y2="836.3"/>
<line class="win2" x1="1135.4" y1="780.9" x2="1135.4" y2="836.3"/>
<polyline class="win2" points="1135.4,780.9 1141.9,799.37 1135.4,799.37"/>
<polyline class="win2" points="1135.4,799.37 1141.9,799.37 1135.4,817.83"/>
<polyline class="win2" points="1135.4,817.83 1141.9,836.3 1135.4,836.3"/>
<rect class="hw" x="1157.4" y="838" width="115" height="5.2"/>
<rect class="hw" x="1335.8" y="838" width="31.7" height="5.2"/>
<rect class="wh" x="1272.4" y="838" width="63.4" height="8.9"/>
<line class="ins" x1="1272.4" y1="847.3" x2="1335.8" y2="847.3"/>
<line class="win2" x1="1272.4" y1="847.3" x2="1272.4" y2="843.2"/>
<line class="win2" x1="1335.8" y1="847.3" x2="1335.8" y2="843.2"/>
<line class="win3" x1="1272.4" y1="842.2" x2="1335.8" y2="842.2"/>
<line class="win2" x1="1272.4" y1="840.8" x2="1335.8" y2="840.8"/>
<polyline class="win2" points="1272.4,840.8 1288.25,834.3 1288.25,840.8"/>
<polyline class="win2" points="1288.25,840.8 1288.25,834.3 1304.1,840.8"/>
<polyline class="win2" points="1304.1,840.8 1319.95,834.3 1319.95,840.8"/>
<polyline class="win2" points="1319.95,840.8 1319.95,834.3 1335.8,840.8"/>
<rect class="hw" x="692" y="289.6" width="25.6" height="5.3"/>
<rect class="hw" x="781" y="289.6" width="27.6" height="5.3"/>
<rect class="hw" x="847.5" y="289.6" width="26.7" height="5.3"/>
<rect class="hw" x="913.4" y="289.6" width="22.4" height="5.3"/>
<rect class="wh" x="717.6" y="285.6" width="63.4" height="9.3"/>
<line class="ins" x1="717.6" y1="285.2" x2="781" y2="285.2"/>
<line class="win2" x1="717.6" y1="285.2" x2="717.6" y2="289.6"/>
<line class="win2" x1="781" y1="285.2" x2="781" y2="289.6"/>
<line class="win3" x1="717.6" y1="290.6" x2="781" y2="290.6"/>
<line class="win2" x1="717.6" y1="292" x2="781" y2="292"/>
<polyline class="win2" points="717.6,292 733.45,298.5 733.45,292"/>
<polyline class="win2" points="733.45,292 733.45,298.5 749.3,292"/>
<polyline class="win2" points="749.3,292 765.15,298.5 765.15,292"/>
<polyline class="win2" points="765.15,292 765.15,298.5 781,292"/>
<rect class="wh" x="808.6" y="285.6" width="38.9" height="9.3"/>
<line class="ins" x1="808.6" y1="285.2" x2="847.5" y2="285.2"/>
<line class="win2" x1="808.6" y1="285.2" x2="808.6" y2="289.6"/>
<line class="win2" x1="847.5" y1="285.2" x2="847.5" y2="289.6"/>
<line class="win3" x1="808.6" y1="290.6" x2="847.5" y2="290.6"/>
<line class="win2" x1="808.6" y1="292" x2="847.5" y2="292"/>
<polyline class="win2" points="808.6,292 828.05,298.5 828.05,292"/>
<polyline class="win2" points="828.05,292 828.05,298.5 847.5,292"/>
<rect class="wh" x="874.2" y="285.6" width="39.2" height="9.3"/>
<line class="ins" x1="874.2" y1="285.2" x2="913.4" y2="285.2"/>
<line class="win2" x1="874.2" y1="285.2" x2="874.2" y2="289.6"/>
<line class="win2" x1="913.4" y1="285.2" x2="913.4" y2="289.6"/>
<line class="win3" x1="874.2" y1="290.6" x2="913.4" y2="290.6"/>
<line class="win2" x1="874.2" y1="292" x2="913.4" y2="292"/>
<polyline class="win2" points="874.2,292 893.8,298.5 893.8,292"/>
<polyline class="win2" points="893.8,292 893.8,298.5 913.4,292"/>
<rect class="hw" x="935.4" y="247.8" width="45.3" height="5.2"/>
<rect class="hw" x="1044.3" y="247.8" width="47" height="5.2"/>
<rect class="hw" x="1129.7" y="247.8" width="25.1" height="5.2"/>
<rect class="hw" x="1218" y="247.8" width="118.5" height="5.2"/>
<rect class="wh" x="980.7" y="244" width="63.6" height="9"/>
<line class="ins" x1="980.7" y1="243.6" x2="1044.3" y2="243.6"/>
<line class="win2" x1="980.7" y1="243.6" x2="980.7" y2="247.8"/>
<line class="win2" x1="1044.3" y1="243.6" x2="1044.3" y2="247.8"/>
<line class="win3" x1="980.7" y1="248.8" x2="1044.3" y2="248.8"/>
<line class="win2" x1="980.7" y1="250.2" x2="1044.3" y2="250.2"/>
<polyline class="win2" points="980.7,250.2 996.6,256.7 996.6,250.2"/>
<polyline class="win2" points="996.6,250.2 996.6,256.7 1012.5,250.2"/>
<polyline class="win2" points="1012.5,250.2 1028.4,256.7 1028.4,250.2"/>
<polyline class="win2" points="1028.4,250.2 1028.4,256.7 1044.3,250.2"/>
<rect class="wh" x="1091.3" y="244" width="38.4" height="9"/>
<line class="ins" x1="1091.3" y1="243.6" x2="1129.7" y2="243.6"/>
<line class="win2" x1="1091.3" y1="243.6" x2="1091.3" y2="247.8"/>
<line class="win2" x1="1129.7" y1="243.6" x2="1129.7" y2="247.8"/>
<line class="win3" x1="1091.3" y1="248.8" x2="1129.7" y2="248.8"/>
<line class="win2" x1="1091.3" y1="250.2" x2="1129.7" y2="250.2"/>
<polyline class="win2" points="1091.3,250.2 1110.5,256.7 1110.5,250.2"/>
<polyline class="win2" points="1110.5,250.2 1110.5,256.7 1129.7,250.2"/>
<rect class="wh" x="1154.8" y="244" width="63.2" height="9"/>
<line class="ins" x1="1154.8" y1="243.6" x2="1218" y2="243.6"/>
<line class="win2" x1="1154.8" y1="243.6" x2="1154.8" y2="247.8"/>
<line class="win2" x1="1218" y1="243.6" x2="1218" y2="247.8"/>
<line class="win3" x1="1154.8" y1="248.8" x2="1218" y2="248.8"/>
<line class="win2" x1="1154.8" y1="250.2" x2="1218" y2="250.2"/>
<polyline class="win2" points="1154.8,250.2 1170.6,256.7 1170.6,250.2"/>
<polyline class="win2" points="1170.6,250.2 1170.6,256.7 1186.4,250.2"/>
<polyline class="win2" points="1186.4,250.2 1202.2,256.7 1202.2,250.2"/>
<polyline class="win2" points="1202.2,250.2 1202.2,256.7 1218,250.2"/>
<rect class="hw" x="935.4" y="247.8" width="5.5" height="47.1"/>
<rect class="hw" x="415" y="238.9" width="5.4" height="200.5"/>
<rect class="hw" x="374.2" y="373" width="4.5" height="66.4"/>
<rect class="hw" x="374.2" y="434.4" width="46.2" height="5"/>
<rect class="hw" x="558.2" y="238.9" width="5.4" height="228.5"/>
<rect class="hw" x="690.6" y="238.9" width="5.6" height="233.9"/>
<rect class="hw" x="864.7" y="294.9" width="5.8" height="145.6"/>
<rect class="hw" x="935.4" y="294.9" width="5.5" height="179.1"/>
<rect class="hw" x="1068.3" y="253" width="5.5" height="215.8"/>
<rect class="hw" x="1132.7" y="253" width="5.5" height="71.5"/>
<rect class="hw" x="1132.7" y="345.6" width="5.5" height="73.4"/>
<rect class="hw" x="1132.7" y="437.7" width="5.5" height="31.1"/>
<rect class="hw" x="311.2" y="467.4" width="5.6" height="104.1"/>
<rect class="hw" x="311.2" y="467.4" width="69.1" height="5.4"/>
<rect class="hw" x="415" y="467.4" width="5.6" height="104.1"/>
<rect class="hw" x="415" y="467.4" width="5.6" height="5.4"/>
<rect class="tw" x="420.6" y="467.8" width="50.4" height="2.8"/>
<rect class="hw" x="249" y="566.4" width="94.8" height="5.2"/>
<rect class="hw" x="399" y="566.4" width="94" height="5.2"/>
<rect class="hw" x="369.2" y="566.4" width="5.6" height="270.6"/>
<rect class="hw" x="760.8" y="468.8" width="5.5" height="103"/>
<rect class="hw" x="760.8" y="468.8" width="109.7" height="5.2"/>
<rect class="hw" x="864.7" y="440.5" width="5.8" height="131.3"/>
<rect class="hw" x="696" y="566.8" width="93" height="5.2"/>
<rect class="hw" x="842" y="566.8" width="94" height="5.2"/>
<rect class="hw" x="813.3" y="566.8" width="6.5" height="270.2"/>
<rect class="hw" x="1138.5" y="468.8" width="71.5" height="5.2"/>
<rect class="hw" x="1138.5" y="567.3" width="74" height="5.2"/>
<rect class="hw" x="1236.2" y="468.8" width="5.8" height="127.7"/>
<rect class="hw" x="1236.2" y="567" width="115.8" height="5.4"/>
<rect class="hw" x="1236.2" y="615.5" width="5.8" height="24.5"/>
<rect class="hw" x="1236.2" y="634.3" width="119.3" height="5.5"/>
<rect class="hw" x="1236.2" y="362.5" width="5.8" height="22.5"/>
<rect class="hw" x="1236.2" y="403" width="5.8" height="24"/>
<polygon class="hw" points="1335.6,253 1336.63,272.5 1331.13,272.5 1330.1,253"/>
<polygon class="hw" points="1339.98,336 1341.72,369 1336.22,369 1334.48,336"/>
<polygon class="hw" points="1342.89,391 1345.66,443.5 1340.16,443.5 1337.39,391"/>
<polygon class="hw" points="1346.82,465.5 1349.01,507 1343.51,507 1341.32,465.5"/>
<polygon class="hw" points="1351.02,545 1352.63,575.5 1347.13,575.5 1345.52,545"/>
<polygon class="hw" points="1354.69,614.5 1356.28,644.5 1350.78,644.5 1349.19,614.5"/>
<polygon class="hw" points="1357.44,666.5 1358.75,691.3 1353.25,691.3 1351.94,666.5"/>
<polygon class="hw" points="1360.79,730 1363.55,782.3 1358.05,782.3 1355.29,730"/>
<polygon class="hw" points="1365.57,820.5 1366.77,843.2 1361.27,843.2 1360.07,820.5"/>
<polygon class="wh" points="1340.63,272.5 1343.98,336 1334.48,336 1331.13,272.5"/>
<line class="ins" x1="1341.03" y1="272.5" x2="1344.38" y2="336"/>
<line class="win2" x1="1338.83" y1="272.5" x2="1342.18" y2="336"/>
<line class="win2" x1="1335.03" y1="272.5" x2="1338.38" y2="336"/>
<line class="win2" x1="1333.53" y1="272.5" x2="1336.88" y2="336"/>
<polyline class="win2" points="1333.53,272.5 1327.87,288.38 1334.37,288.38"/>
<polyline class="win2" points="1334.37,288.38 1327.87,288.38 1335.2,304.25"/>
<polyline class="win2" points="1335.2,304.25 1329.54,320.12 1336.04,320.12"/>
<polyline class="win2" points="1336.04,320.12 1329.54,320.12 1336.88,336"/>
<polygon class="wh" points="1345.72,369 1346.89,391 1337.39,391 1336.22,369"/>
<line class="ins" x1="1346.12" y1="369" x2="1347.29" y2="391"/>
<line class="win2" x1="1343.92" y1="369" x2="1345.09" y2="391"/>
<line class="win2" x1="1340.12" y1="369" x2="1341.29" y2="391"/>
<line class="win2" x1="1338.62" y1="369" x2="1339.79" y2="391"/>
<polyline class="win2" points="1338.62,369 1333.29,391 1339.79,391"/>
<polygon class="wh" points="1349.66,443.5 1350.82,465.5 1341.32,465.5 1340.16,443.5"/>
<line class="ins" x1="1350.06" y1="443.5" x2="1351.22" y2="465.5"/>
<line class="win2" x1="1347.86" y1="443.5" x2="1349.02" y2="465.5"/>
<line class="win2" x1="1344.06" y1="443.5" x2="1345.22" y2="465.5"/>
<line class="win2" x1="1342.56" y1="443.5" x2="1343.72" y2="465.5"/>
<polyline class="win2" points="1342.56,443.5 1337.22,465.5 1343.72,465.5"/>
<polygon class="wh" points="1353.01,507 1355.02,545 1345.52,545 1343.51,507"/>
<line class="ins" x1="1353.41" y1="507" x2="1355.42" y2="545"/>
<line class="win2" x1="1351.21" y1="507" x2="1353.22" y2="545"/>
<line class="win2" x1="1347.41" y1="507" x2="1349.42" y2="545"/>
<line class="win2" x1="1345.91" y1="507" x2="1347.92" y2="545"/>
<polyline class="win2" points="1345.91,507 1340.42,526 1346.92,526"/>
<polyline class="win2" points="1346.92,526 1340.42,526 1347.92,545"/>
<polygon class="wh" points="1356.63,575.5 1358.69,614.5 1349.19,614.5 1347.13,575.5"/>
<line class="ins" x1="1357.03" y1="575.5" x2="1359.09" y2="614.5"/>
<line class="win2" x1="1354.83" y1="575.5" x2="1356.89" y2="614.5"/>
<line class="win2" x1="1351.03" y1="575.5" x2="1353.09" y2="614.5"/>
<line class="win2" x1="1349.53" y1="575.5" x2="1351.59" y2="614.5"/>
<polyline class="win2" points="1349.53,575.5 1344.06,595 1350.56,595"/>
<polyline class="win2" points="1350.56,595 1344.06,595 1351.59,614.5"/>
<polygon class="wh" points="1360.28,644.5 1361.44,666.5 1351.94,666.5 1350.78,644.5"/>
<line class="ins" x1="1360.68" y1="644.5" x2="1361.84" y2="666.5"/>
<line class="win2" x1="1358.48" y1="644.5" x2="1359.64" y2="666.5"/>
<line class="win2" x1="1354.68" y1="644.5" x2="1355.84" y2="666.5"/>
<line class="win2" x1="1353.18" y1="644.5" x2="1354.34" y2="666.5"/>
<polyline class="win2" points="1353.18,644.5 1347.84,666.5 1354.34,666.5"/>
<polygon class="wh" points="1362.75,691.3 1364.79,730 1355.29,730 1353.25,691.3"/>
<line class="ins" x1="1363.15" y1="691.3" x2="1365.19" y2="730"/>
<line class="win2" x1="1360.95" y1="691.3" x2="1362.99" y2="730"/>
<line class="win2" x1="1357.15" y1="691.3" x2="1359.19" y2="730"/>
<line class="win2" x1="1355.65" y1="691.3" x2="1357.69" y2="730"/>
<polyline class="win2" points="1355.65,691.3 1350.17,710.65 1356.67,710.65"/>
<polyline class="win2" points="1356.67,710.65 1350.17,710.65 1357.69,730"/>
<polygon class="wh" points="1367.55,782.3 1369.57,820.5 1360.07,820.5 1358.05,782.3"/>
<line class="ins" x1="1367.95" y1="782.3" x2="1369.97" y2="820.5"/>
<line class="win2" x1="1365.75" y1="782.3" x2="1367.77" y2="820.5"/>
<line class="win2" x1="1361.95" y1="782.3" x2="1363.97" y2="820.5"/>
<line class="win2" x1="1360.45" y1="782.3" x2="1362.47" y2="820.5"/>
<polyline class="win2" points="1360.45,782.3 1354.96,801.4 1361.46,801.4"/>
<polyline class="win2" points="1361.46,801.4 1354.96,801.4 1362.47,820.5"/>
<rect class="tw" x="316.4" y="238.9" width="3.5" height="13.4"/>
<rect class="tw" x="316.4" y="285.2" width="3.5" height="86.5"/>
<rect class="tw" x="249.2" y="299.1" width="70.7" height="2.6"/>
<rect class="tw" x="319.9" y="370.5" width="11.1" height="3.2"/>
<rect class="tw" x="351.7" y="370.5" width="63.3" height="3.2"/>
<rect class="tw" x="249.2" y="381.2" width="44.8" height="2.8"/>
<rect class="tw" x="291" y="381.2" width="3" height="19.9"/>
<rect class="tw" x="291" y="398.3" width="28.9" height="2.9"/>
<rect class="tw" x="316.4" y="398.3" width="3.5" height="5.7"/>
<rect class="tw" x="316.4" y="422.7" width="3.5" height="18.7"/>
<rect class="tw" x="249.2" y="438.6" width="70.7" height="2.8"/>
<rect class="tw" x="420.4" y="354.3" width="4.6" height="3"/>
<rect class="tw" x="446.3" y="354.3" width="111.9" height="3"/>
<rect class="tw" x="450" y="357.3" width="3" height="16.9"/>
<rect class="tw" x="450" y="391.6" width="3" height="47.4"/>
<rect class="tw" x="450" y="436" width="45.5" height="3"/>
<rect class="tw" x="492.3" y="357.3" width="3.2" height="94.7"/>
<rect class="tw" x="515.4" y="238.9" width="3.5" height="14.7"/>
<rect class="tw" x="515.4" y="285.2" width="3.5" height="69.8"/>
<rect class="tw" x="541.3" y="321.5" width="16.9" height="2.7"/>
<rect class="tw" x="623.8" y="238.9" width="3.8" height="94.6"/>
<rect class="tw" x="563.6" y="332.4" width="26.2" height="2.8"/>
<rect class="tw" x="607.2" y="332.4" width="37.3" height="2.8"/>
<rect class="tw" x="663.1" y="332.4" width="27.5" height="2.8"/>
<rect class="tw" x="584.8" y="383" width="88.2" height="3.2"/>
<rect class="tw" x="624.6" y="386.2" width="3.7" height="79.8"/>
<rect class="tw" x="696.2" y="403.6" width="22.4" height="2.6"/>
<rect class="tw" x="715.6" y="403.6" width="3" height="15.4"/>
<rect class="tw" x="715.6" y="435" width="3" height="33.8"/>
<rect class="tw" x="696.2" y="466" width="22.4" height="2.8"/>
<rect class="tw" x="751" y="402.8" width="78.8" height="3.2"/>
<rect class="tw" x="860.8" y="402.8" width="3.9" height="3.2"/>
<rect class="tw" x="870.5" y="402.8" width="17.8" height="3.2"/>
<rect class="tw" x="919.8" y="402.8" width="15.6" height="3.2"/>
<rect class="tw" x="740" y="466.3" width="22" height="2.5"/>
<rect class="tw" x="870.5" y="541.5" width="65.3" height="3"/>
<rect class="tw" x="892.3" y="544.5" width="5.3" height="22.3"/>
<rect class="tw" x="1002.6" y="253" width="3" height="71"/>
<rect class="tw" x="1002.6" y="345.6" width="3" height="33.6"/>
<rect class="tw" x="1002.6" y="401.6" width="3" height="67.2"/>
<rect class="tw" x="1005.6" y="320.7" width="10" height="3.3"/>
<rect class="tw" x="1032.2" y="320.7" width="36.1" height="3.3"/>
<rect class="tw" x="1032.2" y="402.8" width="36.1" height="3.2"/>
<rect class="tw" x="1039.5" y="324" width="2.5" height="80"/>
<rect class="tw" x="940.9" y="361.8" width="61.7" height="3"/>
<rect class="tw" x="1073.8" y="320.7" width="26.2" height="3.3"/>
<rect class="tw" x="1122.5" y="320.7" width="10.2" height="3.3"/>
<rect class="tw" x="1099.4" y="324" width="3.2" height="4.5"/>
<rect class="tw" x="1099.4" y="344.4" width="3.2" height="17.4"/>
<rect class="tw" x="1073.8" y="361.3" width="58.9" height="3"/>
<rect class="tw" x="1138.2" y="361.3" width="61.8" height="3.5"/>
<rect class="tw" x="1192.9" y="364.3" width="3.5" height="54.7"/>
<rect class="tw" x="1138.2" y="397.9" width="15.8" height="2.9"/>
<rect class="tw" x="1170" y="397.9" width="26.4" height="2.9"/>
<rect class="tw" x="1138.2" y="437.7" width="58.2" height="3.3"/>
<rect class="tw" x="1192.9" y="437.7" width="3.5" height="31.1"/>
<rect class="tw" x="1232.6" y="361.3" width="105.9" height="3.5"/>
<rect class="tw" x="1242" y="424.5" width="100" height="3.2"/>
<rect class="tw" x="1281.1" y="427.7" width="3.2" height="17.3"/>
<rect class="tw" x="1281.1" y="462" width="3.2" height="40.3"/>
<rect class="tw" x="1268.6" y="501" width="78.4" height="3.3"/>
<rect class="tw" x="249.2" y="599.6" width="93.9" height="3.4"/>
<rect class="tw" x="339.7" y="571.7" width="3.4" height="7.1"/>
<rect class="tw" x="339.7" y="595" width="3.4" height="11"/>
<rect class="tw" x="339.7" y="621" width="3.4" height="5"/>
<rect class="tw" x="339.7" y="679.2" width="3.4" height="43.4"/>
<rect class="tw" x="249.2" y="640" width="79.3" height="3.5"/>
<rect class="tw" x="326.5" y="624.8" width="16.6" height="2.6"/>
<rect class="tw" x="326.5" y="624.8" width="2.6" height="34"/>
<rect class="tw" x="326.5" y="656.2" width="16.6" height="2.6"/>
<line class="st" x1="341.5" y1="641" x2="329.5" y2="641"/>
<line class="st" x1="341.5" y1="643.2" x2="329.5" y2="643.2"/>
<line class="st" x1="341.5" y1="645.4" x2="329.5" y2="645.4"/>
<line class="st" x1="341.5" y1="647.6" x2="329.5" y2="647.6"/>
<line class="st" x1="341.5" y1="649.8" x2="329.5" y2="649.8"/>
<line class="st" x1="341.5" y1="652" x2="329.5" y2="652"/>
<line class="st" x1="341.5" y1="654.2" x2="329.5" y2="654.2"/>
<line class="st" x1="337.5" y1="628" x2="337.5" y2="656"/>
<line class="st" x1="333.5" y1="628" x2="333.5" y2="656"/>
<rect class="tw" x="249.2" y="719.2" width="93.9" height="3.4"/>
<line class="lf" x1="343.1" y1="695.4" x2="249.2" y2="695.4"/>
<line class="lf" x1="339.7" y1="705.6" x2="249.2" y2="705.6"/>
<rect class="tw" x="365.7" y="697.5" width="2.5" height="4"/>
<rect class="tw" x="343.1" y="697.5" width="2.4" height="4"/>
<path class="dr" d="M367.3 571.7L367.3 594.3A22.6 22.6 0 0 1 344.7 571.7"/>
<path class="dr" d="M341.5 595L326.2 595A15.3 15.3 0 0 1 341.5 579.7"/>
<path class="dr" d="M341.5 606L326.2 606A15.3 15.3 0 0 0 341.5 621.3"/>
<path class="dr" d="M341.5 661.3L324.5 661.3A17 17 0 0 0 341.5 678.3"/>
<path class="dr" d="M367.3 698L367.3 720A22 22 0 0 1 345.3 698"/>
<rect class="lf" x="267.3" y="578" width="38.4" height="21.6"/>
<rect class="lf" x="250.7" y="604.5" width="16" height="35.5" rx="2.5"/>
<rect class="lf" x="255.2" y="612" width="7.5" height="22" rx="1"/>
<rect class="lf" x="288.5" y="626.5" width="8.5" height="12" rx="3.5"/>
<path class="lf" d="M301.2 638.5 A6.4 6.4 0 0 1 314 638.5Z"/>
<line class="lf" x1="328.5" y1="638.5" x2="267.2" y2="638.5"/>
<rect class="lf" x="268.1" y="647" width="37.6" height="42.5"/>
<rect class="lf" x="287.8" y="647" width="16.2" height="8.5"/>
<rect class="lf" x="268.1" y="647" width="16.4" height="8.5"/>
<rect class="lf" x="305.7" y="647" width="12.8" height="5"/>
<rect class="lf" x="256.2" y="647" width="11.9" height="5"/>
<rect class="lf" x="256.8" y="724.8" width="46.7" height="19.9"/>
<rect class="lf" x="260.8" y="728" width="38.7" height="16.7"/>
<line class="lf" x1="286.6" y1="728" x2="286.6" y2="744.7"/>
<line class="lf" x1="273.7" y1="728" x2="273.7" y2="744.7"/>
<rect class="lf" x="266.8" y="749.2" width="27.3" height="13.4"/>
<rect class="lf" x="256.8" y="767.6" width="46.7" height="9"/>
<rect class="lf" x="257.3" y="796.5" width="46.2" height="17.9"/>
<rect class="lf" x="290.8" y="790.8" width="8.7" height="5.7"/>
<rect class="lf" x="290.8" y="814.4" width="8.7" height="6.2"/>
<rect class="lf" x="275.6" y="790.8" width="8.7" height="5.7"/>
<rect class="lf" x="275.6" y="814.4" width="8.7" height="6.2"/>
<rect class="lf" x="260.1" y="790.8" width="8.7" height="5.7"/>
<rect class="lf" x="260.1" y="814.4" width="8.7" height="6.2"/>
<path class="lf" d="M313 744.3 A8.3 8.3 0 1 1 313 758.7"/>
<path class="lf" d="M322.5 743.5L311 744.5L312 759L322.5 759.5"/>
<rect class="lf" x="355.3" y="749.2" width="12.9" height="87.7"/>
<rect class="lf" x="355.3" y="776" width="12.9" height="14"/>
<circle class="lf" cx="365.2" cy="779.5" r="2.1"/>
<circle class="lf" cx="359.2" cy="779.5" r="2.1"/>
<circle class="lf" cx="365.2" cy="786" r="2.1"/>
<circle class="lf" cx="359.2" cy="786" r="2.1"/>
<rect class="lf" x="357" y="797.5" width="9.5" height="10"/>
<rect class="lf" x="358.5" y="804" width="6.5" height="3.5"/>
<line class="st" x1="366.5" y1="810" x2="366.5" y2="815"/>
<line class="st" x1="364.7" y1="810" x2="364.7" y2="815"/>
<line class="st" x1="362.9" y1="810" x2="362.9" y2="815"/>
<line class="st" x1="361.1" y1="810" x2="361.1" y2="815"/>
<line class="st" x1="359.3" y1="810" x2="359.3" y2="815"/>
<line class="st" x1="357.5" y1="810" x2="357.5" y2="815"/>
<rect class="lf" x="355.3" y="823" width="12.9" height="13.9"/>
<text class="ts m" transform="translate(361.8 832) scale(0.85 1)">×</text>
<rect class="tw" x="399.9" y="599.6" width="93" height="3.4"/>
<rect class="tw" x="399.9" y="571.7" width="3.4" height="7.1"/>
<rect class="tw" x="399.9" y="595" width="3.4" height="11"/>
<rect class="tw" x="399.9" y="621" width="3.4" height="5"/>
<rect class="tw" x="399.9" y="679.2" width="3.4" height="43.4"/>
<rect class="tw" x="414.5" y="640" width="78.4" height="3.5"/>
<rect class="tw" x="399.9" y="624.8" width="16.6" height="2.6"/>
<rect class="tw" x="413.9" y="624.8" width="2.6" height="34"/>
<rect class="tw" x="399.9" y="656.2" width="16.6" height="2.6"/>
<line class="st" x1="401.5" y1="641" x2="413.5" y2="641"/>
<line class="st" x1="401.5" y1="643.2" x2="413.5" y2="643.2"/>
<line class="st" x1="401.5" y1="645.4" x2="413.5" y2="645.4"/>
<line class="st" x1="401.5" y1="647.6" x2="413.5" y2="647.6"/>
<line class="st" x1="401.5" y1="649.8" x2="413.5" y2="649.8"/>
<line class="st" x1="401.5" y1="652" x2="413.5" y2="652"/>
<line class="st" x1="401.5" y1="654.2" x2="413.5" y2="654.2"/>
<line class="st" x1="405.5" y1="628" x2="405.5" y2="656"/>
<line class="st" x1="409.5" y1="628" x2="409.5" y2="656"/>
<rect class="tw" x="399.9" y="719.2" width="93" height="3.4"/>
<line class="lf" x1="399.9" y1="695.4" x2="492.9" y2="695.4"/>
<line class="lf" x1="403.3" y1="705.6" x2="492.9" y2="705.6"/>
<rect class="tw" x="374.8" y="697.5" width="2.5" height="4"/>
<rect class="tw" x="397.5" y="697.5" width="2.4" height="4"/>
<path class="dr" d="M375.7 571.7L375.7 594.3A22.6 22.6 0 0 0 398.3 571.7"/>
<path class="dr" d="M401.5 595L416.8 595A15.3 15.3 0 0 0 401.5 579.7"/>
<path class="dr" d="M401.5 606L416.8 606A15.3 15.3 0 0 1 401.5 621.3"/>
<path class="dr" d="M401.5 661.3L418.5 661.3A17 17 0 0 1 401.5 678.3"/>
<path class="dr" d="M375.7 698L375.7 720A22 22 0 0 0 397.7 698"/>
<rect class="lf" x="437.3" y="578" width="38.4" height="21.6"/>
<rect class="lf" x="475.4" y="604.5" width="16" height="35.5" rx="2.5"/>
<rect class="lf" x="479.4" y="612" width="7.5" height="22" rx="1"/>
<rect class="lf" x="446" y="626.5" width="8.5" height="12" rx="3.5"/>
<path class="lf" d="M429 638.5 A6.4 6.4 0 0 1 441.8 638.5Z"/>
<line class="lf" x1="414.5" y1="638.5" x2="474.9" y2="638.5"/>
<rect class="lf" x="437.3" y="647" width="37.6" height="42.5"/>
<rect class="lf" x="439" y="647" width="16.2" height="8.5"/>
<rect class="lf" x="458.5" y="647" width="16.4" height="8.5"/>
<rect class="lf" x="424.5" y="647" width="12.8" height="5"/>
<rect class="lf" x="474.9" y="647" width="11.9" height="5"/>
<rect class="lf" x="439.5" y="724.8" width="46.7" height="19.9"/>
<rect class="lf" x="443.5" y="728" width="38.7" height="16.7"/>
<line class="lf" x1="456.4" y1="728" x2="456.4" y2="744.7"/>
<line class="lf" x1="469.3" y1="728" x2="469.3" y2="744.7"/>
<rect class="lf" x="448.9" y="749.2" width="27.3" height="13.4"/>
<rect class="lf" x="439.5" y="767.6" width="46.7" height="9"/>
<rect class="lf" x="439.5" y="796.5" width="46.2" height="17.9"/>
<rect class="lf" x="443.5" y="790.8" width="8.7" height="5.7"/>
<rect class="lf" x="443.5" y="814.4" width="8.7" height="6.2"/>
<rect class="lf" x="458.7" y="790.8" width="8.7" height="5.7"/>
<rect class="lf" x="458.7" y="814.4" width="8.7" height="6.2"/>
<rect class="lf" x="474.2" y="790.8" width="8.7" height="5.7"/>
<rect class="lf" x="474.2" y="814.4" width="8.7" height="6.2"/>
<path class="lf" d="M430 744.3 A8.3 8.3 0 1 0 430 758.7"/>
<path class="lf" d="M420.5 743.5L432 744.5L431 759L420.5 759.5"/>
<rect class="lf" x="374.8" y="749.2" width="12.9" height="87.7"/>
<rect class="lf" x="374.8" y="776" width="12.9" height="14"/>
<circle class="lf" cx="377.8" cy="779.5" r="2.1"/>
<circle class="lf" cx="383.8" cy="779.5" r="2.1"/>
<circle class="lf" cx="377.8" cy="786" r="2.1"/>
<circle class="lf" cx="383.8" cy="786" r="2.1"/>
<rect class="lf" x="376.5" y="797.5" width="9.5" height="10"/>
<rect class="lf" x="378" y="804" width="6.5" height="3.5"/>
<line class="st" x1="376.5" y1="810" x2="376.5" y2="815"/>
<line class="st" x1="378.3" y1="810" x2="378.3" y2="815"/>
<line class="st" x1="380.1" y1="810" x2="380.1" y2="815"/>
<line class="st" x1="381.9" y1="810" x2="381.9" y2="815"/>
<line class="st" x1="383.7" y1="810" x2="383.7" y2="815"/>
<line class="st" x1="385.5" y1="810" x2="385.5" y2="815"/>
<rect class="lf" x="374.8" y="823" width="12.9" height="13.9"/>
<text class="ts m" transform="translate(381.2 832) scale(0.85 1)">×</text>
<rect class="tw" x="696.2" y="599.6" width="91.9" height="3.4"/>
<rect class="tw" x="784.7" y="571.7" width="3.4" height="7.1"/>
<rect class="tw" x="784.7" y="595" width="3.4" height="11"/>
<rect class="tw" x="784.7" y="621" width="3.4" height="5"/>
<rect class="tw" x="784.7" y="679.2" width="3.4" height="43.4"/>
<rect class="tw" x="696.2" y="640" width="77.3" height="3.5"/>
<rect class="tw" x="771.5" y="624.8" width="16.6" height="2.6"/>
<rect class="tw" x="771.5" y="624.8" width="2.6" height="34"/>
<rect class="tw" x="771.5" y="656.2" width="16.6" height="2.6"/>
<line class="st" x1="786.5" y1="641" x2="774.5" y2="641"/>
<line class="st" x1="786.5" y1="643.2" x2="774.5" y2="643.2"/>
<line class="st" x1="786.5" y1="645.4" x2="774.5" y2="645.4"/>
<line class="st" x1="786.5" y1="647.6" x2="774.5" y2="647.6"/>
<line class="st" x1="786.5" y1="649.8" x2="774.5" y2="649.8"/>
<line class="st" x1="786.5" y1="652" x2="774.5" y2="652"/>
<line class="st" x1="786.5" y1="654.2" x2="774.5" y2="654.2"/>
<line class="st" x1="782.5" y1="628" x2="782.5" y2="656"/>
<line class="st" x1="778.5" y1="628" x2="778.5" y2="656"/>
<rect class="tw" x="696.2" y="719.2" width="91.9" height="3.4"/>
<line class="lf" x1="788.1" y1="695.4" x2="696.2" y2="695.4"/>
<line class="lf" x1="784.7" y1="705.6" x2="696.2" y2="705.6"/>
<rect class="tw" x="810.7" y="697.5" width="2.5" height="4"/>
<rect class="tw" x="788.1" y="697.5" width="2.4" height="4"/>
<path class="dr" d="M812.3 571.7L812.3 594.3A22.6 22.6 0 0 1 789.7 571.7"/>
<path class="dr" d="M786.5 595L771.2 595A15.3 15.3 0 0 1 786.5 579.7"/>
<path class="dr" d="M786.5 606L771.2 606A15.3 15.3 0 0 0 786.5 621.3"/>
<path class="dr" d="M786.5 661.3L769.5 661.3A17 17 0 0 0 786.5 678.3"/>
<path class="dr" d="M812.3 698L812.3 720A22 22 0 0 1 790.3 698"/>
<rect class="lf" x="712.3" y="578" width="38.4" height="21.6"/>
<rect class="lf" x="697.7" y="604.5" width="16" height="35.5" rx="2.5"/>
<rect class="lf" x="702.2" y="612" width="7.5" height="22" rx="1"/>
<rect class="lf" x="733.5" y="626.5" width="8.5" height="12" rx="3.5"/>
<path class="lf" d="M746.2 638.5 A6.4 6.4 0 0 1 759 638.5Z"/>
<line class="lf" x1="773.5" y1="638.5" x2="714.2" y2="638.5"/>
<rect class="lf" x="713.1" y="647" width="37.6" height="42.5"/>
<rect class="lf" x="732.8" y="647" width="16.2" height="8.5"/>
<rect class="lf" x="713.1" y="647" width="16.4" height="8.5"/>
<rect class="lf" x="750.7" y="647" width="12.8" height="5"/>
<rect class="lf" x="701.2" y="647" width="11.9" height="5"/>
<rect class="lf" x="701.8" y="724.8" width="46.7" height="19.9"/>
<rect class="lf" x="705.8" y="728" width="38.7" height="16.7"/>
<line class="lf" x1="731.6" y1="728" x2="731.6" y2="744.7"/>
<line class="lf" x1="718.7" y1="728" x2="718.7" y2="744.7"/>
<rect class="lf" x="711.8" y="749.2" width="27.3" height="13.4"/>
<rect class="lf" x="701.8" y="767.6" width="46.7" height="9"/>
<rect class="lf" x="702.3" y="796.5" width="46.2" height="17.9"/>
<rect class="lf" x="735.8" y="790.8" width="8.7" height="5.7"/>
<rect class="lf" x="735.8" y="814.4" width="8.7" height="6.2"/>
<rect class="lf" x="720.6" y="790.8" width="8.7" height="5.7"/>
<rect class="lf" x="720.6" y="814.4" width="8.7" height="6.2"/>
<rect class="lf" x="705.1" y="790.8" width="8.7" height="5.7"/>
<rect class="lf" x="705.1" y="814.4" width="8.7" height="6.2"/>
<path class="lf" d="M758 744.3 A8.3 8.3 0 1 1 758 758.7"/>
<path class="lf" d="M767.5 743.5L756 744.5L757 759L767.5 759.5"/>
<rect class="lf" x="800.3" y="749.2" width="12.9" height="87.7"/>
<rect class="lf" x="800.3" y="776" width="12.9" height="14"/>
<circle class="lf" cx="810.2" cy="779.5" r="2.1"/>
<circle class="lf" cx="804.2" cy="779.5" r="2.1"/>
<circle class="lf" cx="810.2" cy="786" r="2.1"/>
<circle class="lf" cx="804.2" cy="786" r="2.1"/>
<rect class="lf" x="802" y="797.5" width="9.5" height="10"/>
<rect class="lf" x="803.5" y="804" width="6.5" height="3.5"/>
<line class="st" x1="811.5" y1="810" x2="811.5" y2="815"/>
<line class="st" x1="809.7" y1="810" x2="809.7" y2="815"/>
<line class="st" x1="807.9" y1="810" x2="807.9" y2="815"/>
<line class="st" x1="806.1" y1="810" x2="806.1" y2="815"/>
<line class="st" x1="804.3" y1="810" x2="804.3" y2="815"/>
<line class="st" x1="802.5" y1="810" x2="802.5" y2="815"/>
<rect class="lf" x="800.3" y="823" width="12.9" height="13.9"/>
<text class="ts m" transform="translate(806.8 832) scale(0.85 1)">×</text>
<rect class="tw" x="844.9" y="599.6" width="90.9" height="3.4"/>
<rect class="tw" x="844.9" y="571.7" width="3.4" height="7.1"/>
<rect class="tw" x="844.9" y="595" width="3.4" height="11"/>
<rect class="tw" x="844.9" y="621" width="3.4" height="5"/>
<rect class="tw" x="844.9" y="679.2" width="3.4" height="43.4"/>
<rect class="tw" x="859.5" y="640" width="76.3" height="3.5"/>
<rect class="tw" x="844.9" y="624.8" width="16.6" height="2.6"/>
<rect class="tw" x="858.9" y="624.8" width="2.6" height="34"/>
<rect class="tw" x="844.9" y="656.2" width="16.6" height="2.6"/>
<line class="st" x1="846.5" y1="641" x2="858.5" y2="641"/>
<line class="st" x1="846.5" y1="643.2" x2="858.5" y2="643.2"/>
<line class="st" x1="846.5" y1="645.4" x2="858.5" y2="645.4"/>
<line class="st" x1="846.5" y1="647.6" x2="858.5" y2="647.6"/>
<line class="st" x1="846.5" y1="649.8" x2="858.5" y2="649.8"/>
<line class="st" x1="846.5" y1="652" x2="858.5" y2="652"/>
<line class="st" x1="846.5" y1="654.2" x2="858.5" y2="654.2"/>
<line class="st" x1="850.5" y1="628" x2="850.5" y2="656"/>
<line class="st" x1="854.5" y1="628" x2="854.5" y2="656"/>
<rect class="tw" x="844.9" y="719.2" width="90.9" height="3.4"/>
<line class="lf" x1="844.9" y1="695.4" x2="935.8" y2="695.4"/>
<line class="lf" x1="848.3" y1="705.6" x2="935.8" y2="705.6"/>
<rect class="tw" x="819.8" y="697.5" width="2.5" height="4"/>
<rect class="tw" x="842.5" y="697.5" width="2.4" height="4"/>
<path class="dr" d="M820.7 571.7L820.7 594.3A22.6 22.6 0 0 0 843.3 571.7"/>
<path class="dr" d="M846.5 595L861.8 595A15.3 15.3 0 0 0 846.5 579.7"/>
<path class="dr" d="M846.5 606L861.8 606A15.3 15.3 0 0 1 846.5 621.3"/>
<path class="dr" d="M846.5 661.3L863.5 661.3A17 17 0 0 1 846.5 678.3"/>
<path class="dr" d="M820.7 698L820.7 720A22 22 0 0 0 842.7 698"/>
<rect class="lf" x="882.3" y="578" width="38.4" height="21.6"/>
<rect class="lf" x="918.3" y="604.5" width="16" height="35.5" rx="2.5"/>
<rect class="lf" x="922.3" y="612" width="7.5" height="22" rx="1"/>
<rect class="lf" x="891" y="626.5" width="8.5" height="12" rx="3.5"/>
<path class="lf" d="M874 638.5 A6.4 6.4 0 0 1 886.8 638.5Z"/>
<line class="lf" x1="859.5" y1="638.5" x2="917.8" y2="638.5"/>
<rect class="lf" x="882.3" y="647" width="37.6" height="42.5"/>
<rect class="lf" x="884" y="647" width="16.2" height="8.5"/>
<rect class="lf" x="903.5" y="647" width="16.4" height="8.5"/>
<rect class="lf" x="869.5" y="647" width="12.8" height="5"/>
<rect class="lf" x="919.9" y="647" width="11.9" height="5"/>
<rect class="lf" x="884.5" y="724.8" width="46.7" height="19.9"/>
<rect class="lf" x="888.5" y="728" width="38.7" height="16.7"/>
<line class="lf" x1="901.4" y1="728" x2="901.4" y2="744.7"/>
<line class="lf" x1="914.3" y1="728" x2="914.3" y2="744.7"/>
<rect class="lf" x="893.9" y="749.2" width="27.3" height="13.4"/>
<rect class="lf" x="884.5" y="767.6" width="46.7" height="9"/>
<rect class="lf" x="884.5" y="796.5" width="46.2" height="17.9"/>
<rect class="lf" x="888.5" y="790.8" width="8.7" height="5.7"/>
<rect class="lf" x="888.5" y="814.4" width="8.7" height="6.2"/>
<rect class="lf" x="903.7" y="790.8" width="8.7" height="5.7"/>
<rect class="lf" x="903.7" y="814.4" width="8.7" height="6.2"/>
<rect class="lf" x="919.2" y="790.8" width="8.7" height="5.7"/>
<rect class="lf" x="919.2" y="814.4" width="8.7" height="6.2"/>
<path class="lf" d="M875 744.3 A8.3 8.3 0 1 0 875 758.7"/>
<path class="lf" d="M865.5 743.5L877 744.5L876 759L865.5 759.5"/>
<rect class="lf" x="819.8" y="749.2" width="12.9" height="87.7"/>
<rect class="lf" x="819.8" y="776" width="12.9" height="14"/>
<circle class="lf" cx="822.8" cy="779.5" r="2.1"/>
<circle class="lf" cx="828.8" cy="779.5" r="2.1"/>
<circle class="lf" cx="822.8" cy="786" r="2.1"/>
<circle class="lf" cx="828.8" cy="786" r="2.1"/>
<rect class="lf" x="821.5" y="797.5" width="9.5" height="10"/>
<rect class="lf" x="823" y="804" width="6.5" height="3.5"/>
<line class="st" x1="821.5" y1="810" x2="821.5" y2="815"/>
<line class="st" x1="823.3" y1="810" x2="823.3" y2="815"/>
<line class="st" x1="825.1" y1="810" x2="825.1" y2="815"/>
<line class="st" x1="826.9" y1="810" x2="826.9" y2="815"/>
<line class="st" x1="828.7" y1="810" x2="828.7" y2="815"/>
<line class="st" x1="830.5" y1="810" x2="830.5" y2="815"/>
<rect class="lf" x="819.8" y="823" width="12.9" height="13.9"/>
<text class="ts m" transform="translate(826.2 832) scale(0.85 1)">×</text>
<line class="dl" x1="538.3" y1="465.28" x2="538.3" y2="849.39"/>
<circle class="tk" cx="538.3" cy="467.28" r="0.85"/>
<path class="tkl" d="M536.2 467.28H540.4M538.3 465.18V469.38"/>
<circle class="tk" cx="538.3" cy="472.58" r="0.85"/>
<path class="tkl" d="M536.2 472.58H540.4M538.3 470.48V474.68"/>
<circle class="tk" cx="538.3" cy="477" r="0.85"/>
<path class="tkl" d="M536.2 477H540.4M538.3 474.9V479.1"/>
<circle class="tk" cx="538.3" cy="497.31" r="0.85"/>
<path class="tkl" d="M536.2 497.31H540.4M538.3 495.21V499.41"/>
<circle class="tk" cx="538.3" cy="527.89" r="0.85"/>
<path class="tkl" d="M536.2 527.89H540.4M538.3 525.79V529.99"/>
<circle class="tk" cx="538.3" cy="602.85" r="0.85"/>
<path class="tkl" d="M536.2 602.85H540.4M538.3 600.75V604.95"/>
<circle class="tk" cx="538.3" cy="625.15" r="0.85"/>
<path class="tkl" d="M536.2 625.15H540.4M538.3 623.05V627.25"/>
<circle class="tk" cx="538.3" cy="671.85" r="0.85"/>
<path class="tkl" d="M536.2 671.85H540.4M538.3 669.75V673.95"/>
<circle class="tk" cx="538.3" cy="702.43" r="0.85"/>
<path class="tkl" d="M536.2 702.43H540.4M538.3 700.33V704.53"/>
<circle class="tk" cx="538.3" cy="749.13" r="0.85"/>
<path class="tkl" d="M536.2 749.13H540.4M538.3 747.03V751.23"/>
<circle class="tk" cx="538.3" cy="765.91" r="0.85"/>
<path class="tkl" d="M536.2 765.91H540.4M538.3 763.81V768.01"/>
<circle class="tk" cx="538.3" cy="776.73" r="0.85"/>
<path class="tkl" d="M536.2 776.73H540.4M538.3 774.63V778.83"/>
<circle class="tk" cx="538.3" cy="815.59" r="0.85"/>
<path class="tkl" d="M536.2 815.59H540.4M538.3 813.49V817.69"/>
<circle class="tk" cx="538.3" cy="837.67" r="0.85"/>
<path class="tkl" d="M536.2 837.67H540.4M538.3 835.57V839.77"/>
<circle class="tk" cx="538.3" cy="842.97" r="0.85"/>
<path class="tkl" d="M536.2 842.97H540.4M538.3 840.87V845.07"/>
<circle class="tk" cx="538.3" cy="847.39" r="0.85"/>
<path class="tkl" d="M536.2 847.39H540.4M538.3 845.29V849.49"/>
<text class="d s" transform="translate(536.6 465.78) rotate(-90) scale(0.83 1)">24</text>
<text class="d m" transform="translate(529.5 474.79) rotate(-90) scale(0.83 1)">20</text>
<text class="d m" transform="translate(536.6 487.15) rotate(-90) scale(0.83 1)">92</text>
<text class="d m" transform="translate(536.6 512.6) rotate(-90) scale(0.83 1)">1,38<tspan class="sup" dy="-2.6">5</tspan><tspan dy="2.6">​</tspan></text>
<text class="d m" transform="translate(544.4 512.6) rotate(-90) scale(0.83 1)">2,22</text>
<text class="d m" transform="translate(536.6 565.37) rotate(-90) scale(0.83 1)">3,39<tspan class="sup" dy="-2.6">5</tspan><tspan dy="2.6">​</tspan></text>
<text class="d m" transform="translate(536.6 614) rotate(-90) scale(0.83 1)">1,01</text>
<text class="d m" transform="translate(536.6 648.5) rotate(-90) scale(0.83 1)">2,11<tspan class="sup" dy="-2.6">5</tspan><tspan dy="2.6">​</tspan></text>
<text class="d m" transform="translate(536.6 687.14) rotate(-90) scale(0.83 1)">1,38<tspan class="sup" dy="-2.6">5</tspan><tspan dy="2.6">​</tspan></text>
<text class="d m" transform="translate(544.4 687.14) rotate(-90) scale(0.83 1)">2,22</text>
<text class="d m" transform="translate(536.6 725.78) rotate(-90) scale(0.83 1)">2,11<tspan class="sup" dy="-2.6">5</tspan><tspan dy="2.6">​</tspan></text>
<text class="d m" transform="translate(536.6 757.52) rotate(-90) scale(0.83 1)">76</text>
<text class="d m" transform="translate(544.4 757.52) rotate(-90) scale(0.83 1)">2,22</text>
<text class="d m" transform="translate(536.6 771.32) rotate(-90) scale(0.83 1)">49</text>
<text class="d m" transform="translate(536.6 796.16) rotate(-90) scale(0.83 1)">1,76</text>
<text class="d m" transform="translate(544.4 796.16) rotate(-90) scale(0.83 1)">2,22</text>
<text class="d m" transform="translate(536.6 826.63) rotate(-90) scale(0.83 1)">1,00</text>
<text class="d m" transform="translate(529.5 840.32) rotate(-90) scale(0.83 1)">24</text>
<text class="d e" transform="translate(536.6 848.89) rotate(-90) scale(0.83 1)">20</text>
<line class="dl" x1="563.2" y1="757.7" x2="563.2" y2="848.92"/>
<circle class="tk" cx="563.2" cy="759.7" r="0.85"/>
<path class="tkl" d="M561.1 759.7H565.3M563.2 757.6V761.8"/>
<circle class="tk" cx="563.2" cy="828.15" r="0.85"/>
<path class="tkl" d="M561.1 828.15H565.3M563.2 826.05V830.25"/>
<circle class="tk" cx="563.2" cy="846.92" r="0.85"/>
<path class="tkl" d="M561.1 846.92H565.3M563.2 844.82V849.02"/>
<text class="d m" transform="translate(561.5 793.92) rotate(-90) scale(0.83 1)">3,10</text>
<text class="d m" transform="translate(561.5 837.53) rotate(-90) scale(0.83 1)">85</text>
<line class="dl" x1="619.8" y1="748.4" x2="619.8" y2="848.89"/>
<circle class="tk" cx="619.8" cy="750.4" r="0.85"/>
<path class="tkl" d="M617.7 750.4H621.9M619.8 748.3V752.5"/>
<circle class="tk" cx="619.8" cy="815.98" r="0.85"/>
<path class="tkl" d="M617.7 815.98H621.9M619.8 813.88V818.08"/>
<circle class="tk" cx="619.8" cy="846.89" r="0.85"/>
<path class="tkl" d="M617.7 846.89H621.9M619.8 844.79V848.99"/>
<text class="d m" transform="translate(618.1 783.19) rotate(-90) scale(0.83 1)">2,97</text>
<text class="d m" transform="translate(618.1 831.43) rotate(-90) scale(0.83 1)">1,40</text>
<line class="dl" x1="634.4" y1="474.8" x2="634.4" y2="849.19"/>
<circle class="tk" cx="634.4" cy="476.8" r="0.85"/>
<path class="tkl" d="M632.3 476.8H636.5M634.4 474.7V478.9"/>
<circle class="tk" cx="634.4" cy="847.19" r="0.85"/>
<path class="tkl" d="M632.3 847.19H636.5M634.4 845.09V849.29"/>
<text class="d m" transform="translate(632 659) rotate(-90) scale(0.83 1)">16,77<tspan class="sup" dy="-2.6">5</tspan><tspan dy="2.6">​</tspan></text>
<line class="dl" x1="649.7" y1="474.8" x2="649.7" y2="849.19"/>
<circle class="tk" cx="649.7" cy="476.8" r="0.85"/>
<path class="tkl" d="M647.6 476.8H651.8M649.7 474.7V478.9"/>
<circle class="tk" cx="649.7" cy="494.46" r="0.85"/>
<path class="tkl" d="M647.6 494.46H651.8M649.7 492.36V496.56"/>
<circle class="tk" cx="649.7" cy="533.32" r="0.85"/>
<path class="tkl" d="M647.6 533.32H651.8M649.7 531.22V535.42"/>
<circle class="tk" cx="649.7" cy="604.86" r="0.85"/>
<path class="tkl" d="M647.6 604.86H651.8M649.7 602.76V606.96"/>
<circle class="tk" cx="649.7" cy="627.16" r="0.85"/>
<path class="tkl" d="M647.6 627.16H651.8M649.7 625.06V629.26"/>
<circle class="tk" cx="649.7" cy="673.86" r="0.85"/>
<path class="tkl" d="M647.6 673.86H651.8M649.7 671.76V675.96"/>
<circle class="tk" cx="649.7" cy="704.44" r="0.85"/>
<path class="tkl" d="M647.6 704.44H651.8M649.7 702.34V706.54"/>
<circle class="tk" cx="649.7" cy="751.14" r="0.85"/>
<path class="tkl" d="M647.6 751.14H651.8M649.7 749.04V753.24"/>
<circle class="tk" cx="649.7" cy="767.92" r="0.85"/>
<path class="tkl" d="M647.6 767.92H651.8M649.7 765.82V770.02"/>
<circle class="tk" cx="649.7" cy="776.54" r="0.85"/>
<path class="tkl" d="M647.6 776.54H651.8M649.7 774.44V778.64"/>
<circle class="tk" cx="649.7" cy="815.4" r="0.85"/>
<path class="tkl" d="M647.6 815.4H651.8M649.7 813.3V817.5"/>
<circle class="tk" cx="649.7" cy="837.48" r="0.85"/>
<path class="tkl" d="M647.6 837.48H651.8M649.7 835.38V839.58"/>
<circle class="tk" cx="649.7" cy="842.78" r="0.85"/>
<path class="tkl" d="M647.6 842.78H651.8M649.7 840.68V844.88"/>
<circle class="tk" cx="649.7" cy="847.19" r="0.85"/>
<path class="tkl" d="M647.6 847.19H651.8M649.7 845.09V849.29"/>
<text class="d m" transform="translate(648 485.63) rotate(-90) scale(0.83 1)">80</text>
<text class="d m" transform="translate(648 513.89) rotate(-90) scale(0.83 1)">1,76</text>
<text class="d m" transform="translate(655.8 513.89) rotate(-90) scale(0.83 1)">2,22</text>
<text class="d m" transform="translate(648 569.09) rotate(-90) scale(0.83 1)">3,24</text>
<text class="d m" transform="translate(648 616.01) rotate(-90) scale(0.83 1)">1,01</text>
<text class="d m" transform="translate(655.8 616.01) rotate(-90) scale(0.83 1)">2,22</text>
<text class="d m" transform="translate(648 650.51) rotate(-90) scale(0.83 1)">2,11<tspan class="sup" dy="-2.6">5</tspan><tspan dy="2.6">​</tspan></text>
<text class="d m" transform="translate(648 689.15) rotate(-90) scale(0.83 1)">1,38<tspan class="sup" dy="-2.6">5</tspan><tspan dy="2.6">​</tspan></text>
<text class="d m" transform="translate(655.8 689.15) rotate(-90) scale(0.83 1)">2,22</text>
<text class="d m" transform="translate(648 727.79) rotate(-90) scale(0.83 1)">2,11<tspan class="sup" dy="-2.6">5</tspan><tspan dy="2.6">​</tspan></text>
<text class="d m" transform="translate(648 759.53) rotate(-90) scale(0.83 1)">76</text>
<text class="d m" transform="translate(655.8 759.53) rotate(-90) scale(0.83 1)">2,22</text>
<text class="d m" transform="translate(648 772.23) rotate(-90) scale(0.83 1)">39</text>
<text class="d m" transform="translate(648 795.97) rotate(-90) scale(0.83 1)">1,76</text>
<text class="d m" transform="translate(655.8 795.97) rotate(-90) scale(0.83 1)">2,22</text>
<text class="d m" transform="translate(648 826.44) rotate(-90) scale(0.83 1)">1,00</text>
<text class="d m" transform="translate(640.9 840.13) rotate(-90) scale(0.83 1)">24</text>
<text class="d e" transform="translate(648 848.69) rotate(-90) scale(0.83 1)">20</text>
<line class="dl" x1="982" y1="463.88" x2="982" y2="843.57"/>
<circle class="tk" cx="982" cy="465.88" r="0.85"/>
<path class="tkl" d="M979.9 465.88H984.1M982 463.78V467.98"/>
<circle class="tk" cx="982" cy="471.18" r="0.85"/>
<path class="tkl" d="M979.9 471.18H984.1M982 469.08V473.28"/>
<circle class="tk" cx="982" cy="495.91" r="0.85"/>
<path class="tkl" d="M979.9 495.91H984.1M982 493.81V498.01"/>
<circle class="tk" cx="982" cy="526.49" r="0.85"/>
<path class="tkl" d="M979.9 526.49H984.1M982 524.39V528.59"/>
<circle class="tk" cx="982" cy="601.45" r="0.85"/>
<path class="tkl" d="M979.9 601.45H984.1M982 599.35V603.55"/>
<circle class="tk" cx="982" cy="623.75" r="0.85"/>
<path class="tkl" d="M979.9 623.75H984.1M982 621.65V625.85"/>
<circle class="tk" cx="982" cy="670.45" r="0.85"/>
<path class="tkl" d="M979.9 670.45H984.1M982 668.35V672.55"/>
<circle class="tk" cx="982" cy="701.03" r="0.85"/>
<path class="tkl" d="M979.9 701.03H984.1M982 698.93V703.13"/>
<circle class="tk" cx="982" cy="747.73" r="0.85"/>
<path class="tkl" d="M979.9 747.73H984.1M982 745.63V749.83"/>
<circle class="tk" cx="982" cy="764.51" r="0.85"/>
<path class="tkl" d="M979.9 764.51H984.1M982 762.41V766.61"/>
<circle class="tk" cx="982" cy="773.12" r="0.85"/>
<path class="tkl" d="M979.9 773.12H984.1M982 771.02V775.22"/>
<circle class="tk" cx="982" cy="811.98" r="0.85"/>
<path class="tkl" d="M979.9 811.98H984.1M982 809.88V814.08"/>
<circle class="tk" cx="982" cy="836.27" r="0.85"/>
<path class="tkl" d="M979.9 836.27H984.1M982 834.17V838.37"/>
<circle class="tk" cx="982" cy="841.57" r="0.85"/>
<path class="tkl" d="M979.9 841.57H984.1M982 839.47V843.67"/>
<text class="d m" transform="translate(980.3 468.53) rotate(-90) scale(0.83 1)">24</text>
<text class="d m" transform="translate(980.3 483.54) rotate(-90) scale(0.83 1)">1,12</text>
<text class="d m" transform="translate(980.3 511.2) rotate(-90) scale(0.83 1)">1,38<tspan class="sup" dy="-2.6">5</tspan><tspan dy="2.6">​</tspan></text>
<text class="d m" transform="translate(988.1 511.2) rotate(-90) scale(0.83 1)">2,22</text>
<text class="d m" transform="translate(980.3 563.97) rotate(-90) scale(0.83 1)">3,39<tspan class="sup" dy="-2.6">5</tspan><tspan dy="2.6">​</tspan></text>
<text class="d m" transform="translate(980.3 612.6) rotate(-90) scale(0.83 1)">1,01</text>
<text class="d m" transform="translate(988.1 612.6) rotate(-90) scale(0.83 1)">2,22</text>
<text class="d m" transform="translate(980.3 647.1) rotate(-90) scale(0.83 1)">2,11<tspan class="sup" dy="-2.6">5</tspan><tspan dy="2.6">​</tspan></text>
<text class="d m" transform="translate(980.3 685.74) rotate(-90) scale(0.83 1)">1,38<tspan class="sup" dy="-2.6">5</tspan><tspan dy="2.6">​</tspan></text>
<text class="d m" transform="translate(988.1 685.74) rotate(-90) scale(0.83 1)">2,22</text>
<text class="d m" transform="translate(980.3 724.38) rotate(-90) scale(0.83 1)">2,11<tspan class="sup" dy="-2.6">5</tspan><tspan dy="2.6">​</tspan></text>
<text class="d m" transform="translate(980.3 756.12) rotate(-90) scale(0.83 1)">76</text>
<text class="d m" transform="translate(988.1 756.12) rotate(-90) scale(0.83 1)">2,22</text>
<text class="d m" transform="translate(980.3 768.82) rotate(-90) scale(0.83 1)">39</text>
<text class="d m" transform="translate(980.3 792.55) rotate(-90) scale(0.83 1)">1,76</text>
<text class="d m" transform="translate(988.1 792.55) rotate(-90) scale(0.83 1)">2,22</text>
<text class="d m" transform="translate(980.3 824.13) rotate(-90) scale(0.83 1)">1,10</text>
<text class="d e" transform="translate(980.3 843.07) rotate(-90) scale(0.83 1)">24</text>
<line class="dl" x1="1006.8" y1="748.4" x2="1006.8" y2="849.55"/>
<circle class="tk" cx="1006.8" cy="750.4" r="0.85"/>
<path class="tkl" d="M1004.7 750.4H1008.9M1006.8 748.3V752.5"/>
<circle class="tk" cx="1006.8" cy="816.64" r="0.85"/>
<path class="tkl" d="M1004.7 816.64H1008.9M1006.8 814.54V818.74"/>
<circle class="tk" cx="1006.8" cy="847.55" r="0.85"/>
<path class="tkl" d="M1004.7 847.55H1008.9M1006.8 845.45V849.65"/>
<text class="d m" transform="translate(1005.1 783.52) rotate(-90) scale(0.83 1)">3,00</text>
<text class="d m" transform="translate(1005.1 832.1) rotate(-90) scale(0.83 1)">1,40</text>
<line class="dl" x1="1076.5" y1="474.6" x2="1076.5" y2="848.99"/>
<circle class="tk" cx="1076.5" cy="476.6" r="0.85"/>
<path class="tkl" d="M1074.4 476.6H1078.6M1076.5 474.5V478.7"/>
<circle class="tk" cx="1076.5" cy="846.99" r="0.85"/>
<path class="tkl" d="M1074.4 846.99H1078.6M1076.5 844.89V849.09"/>
<text class="d m" transform="translate(1074.3 664) rotate(-90) scale(0.83 1)">16,77<tspan class="sup" dy="-2.6">5</tspan><tspan dy="2.6">​</tspan></text>
<line class="dl" x1="1069" y1="778" x2="1069" y2="849.34"/>
<circle class="tk" cx="1069" cy="780" r="0.85"/>
<path class="tkl" d="M1066.9 780H1071.1M1069 777.9V782.1"/>
<circle class="tk" cx="1069" cy="847.34" r="0.85"/>
<path class="tkl" d="M1066.9 847.34H1071.1M1069 845.24V849.44"/>
<text class="d m" transform="translate(1067.3 813.67) rotate(-90) scale(0.83 1)">3,05</text>
<line class="dl" x1="1091.6" y1="474.6" x2="1091.6" y2="848.99"/>
<circle class="tk" cx="1091.6" cy="476.6" r="0.85"/>
<path class="tkl" d="M1089.5 476.6H1093.7M1091.6 474.5V478.7"/>
<circle class="tk" cx="1091.6" cy="538.98" r="0.85"/>
<path class="tkl" d="M1089.5 538.98H1093.7M1091.6 536.88V541.08"/>
<circle class="tk" cx="1091.6" cy="555.76" r="0.85"/>
<path class="tkl" d="M1089.5 555.76H1093.7M1091.6 553.66V557.86"/>
<circle class="tk" cx="1091.6" cy="638.34" r="0.85"/>
<path class="tkl" d="M1089.5 638.34H1093.7M1091.6 636.24V640.44"/>
<circle class="tk" cx="1091.6" cy="668.92" r="0.85"/>
<path class="tkl" d="M1089.5 668.92H1093.7M1091.6 666.82V671.02"/>
<circle class="tk" cx="1091.6" cy="710.1" r="0.85"/>
<path class="tkl" d="M1089.5 710.1H1093.7M1091.6 708V712.2"/>
<circle class="tk" cx="1091.6" cy="740.68" r="0.85"/>
<path class="tkl" d="M1089.5 740.68H1093.7M1091.6 738.58V742.78"/>
<circle class="tk" cx="1091.6" cy="781.86" r="0.85"/>
<path class="tkl" d="M1089.5 781.86H1093.7M1091.6 779.76V783.96"/>
<circle class="tk" cx="1091.6" cy="837.28" r="0.85"/>
<path class="tkl" d="M1089.5 837.28H1093.7M1091.6 835.18V839.38"/>
<circle class="tk" cx="1091.6" cy="842.58" r="0.85"/>
<path class="tkl" d="M1089.5 842.58H1093.7M1091.6 840.48V844.68"/>
<circle class="tk" cx="1091.6" cy="846.99" r="0.85"/>
<path class="tkl" d="M1089.5 846.99H1093.7M1091.6 844.89V849.09"/>
<text class="d m" transform="translate(1089.9 507.79) rotate(-90) scale(0.83 1)">2,82<tspan class="sup" dy="-2.6">5</tspan><tspan dy="2.6">​</tspan></text>
<text class="d m" transform="translate(1089.9 547.37) rotate(-90) scale(0.83 1)">76</text>
<text class="d m" transform="translate(1097.7 547.37) rotate(-90) scale(0.83 1)">2,22</text>
<text class="d m" transform="translate(1089.9 597.05) rotate(-90) scale(0.83 1)">3,74</text>
<text class="d m" transform="translate(1089.9 653.63) rotate(-90) scale(0.83 1)">1,38<tspan class="sup" dy="-2.6">5</tspan><tspan dy="2.6">​</tspan></text>
<text class="d m" transform="translate(1097.7 653.63) rotate(-90) scale(0.83 1)">2,22</text>
<text class="d m" transform="translate(1089.9 689.51) rotate(-90) scale(0.83 1)">1,86<tspan class="sup" dy="-2.6">5</tspan><tspan dy="2.6">​</tspan></text>
<text class="d m" transform="translate(1089.9 725.39) rotate(-90) scale(0.83 1)">1,38<tspan class="sup" dy="-2.6">5</tspan><tspan dy="2.6">​</tspan></text>
<text class="d m" transform="translate(1097.7 725.39) rotate(-90) scale(0.83 1)">2,22</text>
<text class="d m" transform="translate(1089.9 761.27) rotate(-90) scale(0.83 1)">1,86<tspan class="sup" dy="-2.6">5</tspan><tspan dy="2.6">​</tspan></text>
<text class="d m" transform="translate(1089.9 809.57) rotate(-90) scale(0.83 1)">2,51</text>
<text class="d m" transform="translate(1097.7 809.57) rotate(-90) scale(0.83 1)">2,22</text>
<text class="d m" transform="translate(1082.8 839.93) rotate(-90) scale(0.83 1)">24</text>
<text class="d e" transform="translate(1089.9 848.49) rotate(-90) scale(0.83 1)">20</text>
<line class="dlg" x1="237.28" y1="549.9" x2="1244.27" y2="549.9"/>
<circle class="tk" cx="239.28" cy="549.9" r="0.85"/>
<path class="tkl" d="M237.18 549.9H241.38M239.28 547.8V552"/>
<circle class="tk" cx="243.7" cy="549.9" r="0.85"/>
<path class="tkl" d="M241.6 549.9H245.8M243.7 547.8V552"/>
<circle class="tk" cx="249" cy="549.9" r="0.85"/>
<path class="tkl" d="M246.9 549.9H251.1M249 547.8V552"/>
<circle class="tk" cx="311.04" cy="549.9" r="0.85"/>
<path class="tkl" d="M308.94 549.9H313.14M311.04 547.8V552"/>
<circle class="tk" cx="316.34" cy="549.9" r="0.85"/>
<path class="tkl" d="M314.24 549.9H318.44M316.34 547.8V552"/>
<circle class="tk" cx="415.04" cy="549.9" r="0.85"/>
<path class="tkl" d="M412.94 549.9H417.14M415.04 547.8V552"/>
<circle class="tk" cx="420.34" cy="549.9" r="0.85"/>
<path class="tkl" d="M418.24 549.9H422.44M420.34 547.8V552"/>
<circle class="tk" cx="492.54" cy="549.9" r="0.85"/>
<path class="tkl" d="M490.44 549.9H494.64M492.54 547.8V552"/>
<circle class="tk" cx="497.84" cy="549.9" r="0.85"/>
<path class="tkl" d="M495.74 549.9H499.94M497.84 547.8V552"/>
<circle class="tk" cx="502.26" cy="549.9" r="0.85"/>
<path class="tkl" d="M500.16 549.9H504.36M502.26 547.8V552"/>
<circle class="tk" cx="685.85" cy="549.9" r="0.85"/>
<path class="tkl" d="M683.75 549.9H687.95M685.85 547.8V552"/>
<circle class="tk" cx="690.27" cy="549.9" r="0.85"/>
<path class="tkl" d="M688.17 549.9H692.37M690.27 547.8V552"/>
<circle class="tk" cx="695.57" cy="549.9" r="0.85"/>
<path class="tkl" d="M693.47 549.9H697.67M695.57 547.8V552"/>
<circle class="tk" cx="760.81" cy="549.9" r="0.85"/>
<path class="tkl" d="M758.71 549.9H762.91M760.81 547.8V552"/>
<circle class="tk" cx="766.11" cy="549.9" r="0.85"/>
<path class="tkl" d="M764.01 549.9H768.21M766.11 547.8V552"/>
<circle class="tk" cx="864.81" cy="549.9" r="0.85"/>
<path class="tkl" d="M862.71 549.9H866.91M864.81 547.8V552"/>
<circle class="tk" cx="870.11" cy="549.9" r="0.85"/>
<path class="tkl" d="M868.01 549.9H872.21M870.11 547.8V552"/>
<circle class="tk" cx="892.19" cy="549.9" r="0.85"/>
<path class="tkl" d="M890.09 549.9H894.29M892.19 547.8V552"/>
<circle class="tk" cx="897.71" cy="549.9" r="0.85"/>
<path class="tkl" d="M895.61 549.9H899.81M897.71 547.8V552"/>
<circle class="tk" cx="922.11" cy="549.9" r="0.85"/>
<path class="tkl" d="M920.01 549.9H924.21M922.11 547.8V552"/>
<circle class="tk" cx="935.36" cy="549.9" r="0.85"/>
<path class="tkl" d="M933.26 549.9H937.46M935.36 547.8V552"/>
<circle class="tk" cx="940.66" cy="549.9" r="0.85"/>
<path class="tkl" d="M938.56 549.9H942.76M940.66 547.8V552"/>
<circle class="tk" cx="945.07" cy="549.9" r="0.85"/>
<path class="tkl" d="M942.97 549.9H947.17M945.07 547.8V552"/>
<circle class="tk" cx="1128.56" cy="549.9" r="0.85"/>
<path class="tkl" d="M1126.46 549.9H1130.66M1128.56 547.8V552"/>
<circle class="tk" cx="1132.97" cy="549.9" r="0.85"/>
<path class="tkl" d="M1130.87 549.9H1135.07M1132.97 547.8V552"/>
<circle class="tk" cx="1138.27" cy="549.9" r="0.85"/>
<path class="tkl" d="M1136.17 549.9H1140.37M1138.27 547.8V552"/>
<circle class="tk" cx="1198.33" cy="549.9" r="0.85"/>
<path class="tkl" d="M1196.23 549.9H1200.43M1198.33 547.8V552"/>
<circle class="tk" cx="1201.64" cy="549.9" r="0.85"/>
<path class="tkl" d="M1199.54 549.9H1203.74M1201.64 547.8V552"/>
<circle class="tk" cx="1236.97" cy="549.9" r="0.85"/>
<path class="tkl" d="M1234.87 549.9H1239.07M1236.97 547.8V552"/>
<circle class="tk" cx="1242.27" cy="549.9" r="0.85"/>
<path class="tkl" d="M1240.17 549.9H1244.37M1242.27 547.8V552"/>
<text class="d e" transform="translate(238.68 548.3) scale(0.83 1)">20</text>
<text class="d s" transform="translate(250 548.3) scale(0.83 1)">24</text>
<text class="d m" transform="translate(280.02 548.3) scale(0.83 1)">2,81</text>
<text class="d e" transform="translate(310.44 548.3) scale(0.83 1)">24</text>
<text class="d m" transform="translate(365.69 548.3) scale(0.83 1)">4,47</text>
<text class="d e" transform="translate(414.44 548.3) scale(0.83 1)">24</text>
<text class="d m" transform="translate(456.44 548.3) scale(0.83 1)">3,27</text>
<text class="d e" transform="translate(491.94 548.3) scale(0.83 1)">24</text>
<text class="d m" transform="translate(594.06 548.3) scale(0.83 1)">8,31</text>
<text class="d e" transform="translate(685.25 548.3) scale(0.83 1)">20</text>
<text class="d s" transform="translate(696.57 548.3) scale(0.83 1)">24</text>
<text class="d m" transform="translate(728.19 548.3) scale(0.83 1)">2,95<tspan class="sup" dy="-2.6">5</tspan><tspan dy="2.6">​</tspan></text>
<text class="d e" transform="translate(760.21 548.3) scale(0.83 1)">24</text>
<text class="d m" transform="translate(815.46 548.3) scale(0.83 1)">4,47</text>
<text class="d e" transform="translate(864.21 548.3) scale(0.83 1)">24</text>
<text class="d m" transform="translate(881.15 548.3) scale(0.83 1)">1,00</text>
<text class="d s" transform="translate(898.71 548.3) scale(0.83 1)">25</text>
<text class="d m" transform="translate(909.91 548.3) scale(0.83 1)">1,10<tspan class="sup" dy="-2.6">5</tspan><tspan dy="2.6">​</tspan></text>
<text class="d s" transform="translate(941.66 548.3) scale(0.83 1)">24</text>
<text class="d m" transform="translate(1036.82 548.3) scale(0.83 1)">8,31</text>
<text class="d e" transform="translate(1127.96 548.3) scale(0.83 1)">20</text>
<text class="d s" transform="translate(1139.27 548.3) scale(0.83 1)">24</text>
<text class="d m" transform="translate(1168.3 548.3) scale(0.83 1)">2,72</text>
<text class="d e" transform="translate(1197.73 548.3) scale(0.83 1)">15</text>
<text class="d m" transform="translate(1219.31 548.3) scale(0.83 1)">1,60</text>
<text class="d e" transform="translate(1236.37 548.3) scale(0.83 1)">24</text>
<text class="d m" transform="translate(507.76 546.9) scale(0.83 1)">20</text>
<text class="d m" transform="translate(950.57 546.9) scale(0.83 1)">20</text>
<line class="dlg" x1="1242.27" y1="550.4" x2="1350" y2="550.4"/>
<text class="d m" transform="translate(1297 547.5) scale(0.83 1)">4,73<tspan class="sup" dy="-2.6">5</tspan><tspan dy="2.6">​</tspan></text>
<line class="dl" x1="1361.29" y1="239.9" x2="1393.93" y2="849.13"/>
<circle class="tk" cx="1361.4" cy="241.9" r="0.85"/>
<path class="tkl" d="M1359.3 241.9H1363.5M1361.4 239.8V244"/>
<circle class="tk" cx="1362.96" cy="271" r="0.85"/>
<path class="tkl" d="M1360.86 271H1365.06M1362.96 268.9V273.1"/>
<circle class="tk" cx="1366.37" cy="334.61" r="0.85"/>
<path class="tkl" d="M1364.27 334.61H1368.47M1366.37 332.51V336.71"/>
<circle class="tk" cx="1368.13" cy="367.47" r="0.85"/>
<path class="tkl" d="M1366.03 367.47H1370.23M1368.13 365.37V369.57"/>
<circle class="tk" cx="1369.32" cy="389.73" r="0.85"/>
<path class="tkl" d="M1367.22 389.73H1371.42M1369.32 387.63V391.83"/>
<circle class="tk" cx="1372.11" cy="441.88" r="0.85"/>
<path class="tkl" d="M1370.01 441.88H1374.21M1372.11 439.78V443.98"/>
<circle class="tk" cx="1373.31" cy="464.15" r="0.85"/>
<path class="tkl" d="M1371.21 464.15H1375.41M1373.31 462.05V466.25"/>
<circle class="tk" cx="1375.51" cy="505.27" r="0.85"/>
<path class="tkl" d="M1373.41 505.27H1377.61M1375.51 503.17V507.37"/>
<circle class="tk" cx="1377.59" cy="544.07" r="0.85"/>
<path class="tkl" d="M1375.49 544.07H1379.69M1377.59 541.97V546.17"/>
<circle class="tk" cx="1379.2" cy="574.17" r="0.85"/>
<path class="tkl" d="M1377.1 574.17H1381.3M1379.2 572.07V576.27"/>
<circle class="tk" cx="1381.28" cy="612.98" r="0.85"/>
<path class="tkl" d="M1379.18 612.98H1383.38M1381.28 610.88V615.08"/>
<circle class="tk" cx="1382.89" cy="643.07" r="0.85"/>
<path class="tkl" d="M1380.79 643.07H1384.99M1382.89 640.97V645.17"/>
<circle class="tk" cx="1384.09" cy="665.34" r="0.85"/>
<path class="tkl" d="M1381.99 665.34H1386.19M1384.09 663.24V667.44"/>
<circle class="tk" cx="1385.4" cy="689.92" r="0.85"/>
<path class="tkl" d="M1383.3 689.92H1387.5M1385.4 687.82V692.02"/>
<circle class="tk" cx="1387.48" cy="728.73" r="0.85"/>
<path class="tkl" d="M1385.38 728.73H1389.58M1387.48 726.63V730.83"/>
<circle class="tk" cx="1390.28" cy="780.87" r="0.85"/>
<path class="tkl" d="M1388.18 780.87H1392.38M1390.28 778.77V782.97"/>
<circle class="tk" cx="1392.36" cy="819.68" r="0.85"/>
<path class="tkl" d="M1390.26 819.68H1394.46M1392.36 817.58V821.78"/>
<circle class="tk" cx="1393.83" cy="847.13" r="0.85"/>
<path class="tkl" d="M1391.73 847.13H1395.93M1393.83 845.03V849.23"/>
<text class="d m" transform="translate(1364.78 256.45) rotate(93.06) scale(0.83 1)">1,32</text>
<text class="d m" transform="translate(1367.06 302.81) rotate(93.06) scale(0.83 1)">2,88<tspan class="sup" dy="-2.6">5</tspan><tspan dy="2.6">​</tspan></text>
<text class="d m" transform="translate(1358.76 302.81) rotate(93.06) scale(0.83 1)">2,22</text>
<text class="d m" transform="translate(1369.85 351.04) rotate(93.06) scale(0.83 1)">1,49</text>
<text class="d m" transform="translate(1371.12 378.6) rotate(93.06) scale(0.83 1)">1,01</text>
<text class="d m" transform="translate(1362.82 378.6) rotate(93.06) scale(0.83 1)">2,22</text>
<text class="d m" transform="translate(1373.32 415.81) rotate(93.06) scale(0.83 1)">2,36<tspan class="sup" dy="-2.6">5</tspan><tspan dy="2.6">​</tspan></text>
<text class="d m" transform="translate(1375.11 453.01) rotate(93.06) scale(0.83 1)">1,01</text>
<text class="d m" transform="translate(1366.81 453.01) rotate(93.06) scale(0.83 1)">2,22</text>
<text class="d m" transform="translate(1377.01 484.71) rotate(93.06) scale(0.83 1)">1,86<tspan class="sup" dy="-2.6">5</tspan><tspan dy="2.6">​</tspan></text>
<text class="d m" transform="translate(1378.95 524.67) rotate(93.06) scale(0.83 1)">1,76</text>
<text class="d m" transform="translate(1370.65 524.67) rotate(93.06) scale(0.83 1)">2,22</text>
<text class="d m" transform="translate(1381 559.12) rotate(93.06) scale(0.83 1)">1,36<tspan class="sup" dy="-2.6">5</tspan><tspan dy="2.6">​</tspan></text>
<text class="d m" transform="translate(1382.64 593.57) rotate(93.06) scale(0.83 1)">1,76</text>
<text class="d m" transform="translate(1374.34 593.57) rotate(93.06) scale(0.83 1)">2,22</text>
<text class="d m" transform="translate(1384.69 628.02) rotate(93.06) scale(0.83 1)">1,36<tspan class="sup" dy="-2.6">5</tspan><tspan dy="2.6">​</tspan></text>
<text class="d m" transform="translate(1385.89 654.21) rotate(93.06) scale(0.83 1)">1,01</text>
<text class="d m" transform="translate(1377.59 654.21) rotate(93.06) scale(0.83 1)">2,22</text>
<text class="d m" transform="translate(1387.35 677.63) rotate(93.06) scale(0.83 1)">1,11<tspan class="sup" dy="-2.6">5</tspan><tspan dy="2.6">​</tspan></text>
<text class="d m" transform="translate(1388.84 709.33) rotate(93.06) scale(0.83 1)">1,76</text>
<text class="d m" transform="translate(1380.54 709.33) rotate(93.06) scale(0.83 1)">2,22</text>
<text class="d m" transform="translate(1391.48 754.8) rotate(93.06) scale(0.83 1)">2,36<tspan class="sup" dy="-2.6">5</tspan><tspan dy="2.6">​</tspan></text>
<text class="d m" transform="translate(1393.72 800.28) rotate(93.06) scale(0.83 1)">1,76</text>
<text class="d m" transform="translate(1385.42 800.28) rotate(93.06) scale(0.83 1)">2,22</text>
<text class="d m" transform="translate(1395.69 833.4) rotate(93.06) scale(0.83 1)">1,24<tspan class="sup" dy="-2.6">5</tspan><tspan dy="2.6">​</tspan></text>
<line class="dl" x1="1377.29" y1="239.1" x2="1409.91" y2="847.89"/>
<circle class="tk" cx="1377.4" cy="241.1" r="0.85"/>
<path class="tkl" d="M1375.3 241.1H1379.5M1377.4 239V243.2"/>
<circle class="tk" cx="1409.8" cy="845.89" r="0.85"/>
<path class="tkl" d="M1407.7 845.89H1411.9M1409.8 843.79V847.99"/>
<text class="d m" transform="translate(1398.4 543) rotate(93.06) scale(0.83 1)">27,45</text>
<line class="dl" x1="1392.89" y1="238.4" x2="1401.38" y2="396.74"/>
<circle class="tk" cx="1393" cy="240.4" r="0.85"/>
<path class="tkl" d="M1390.9 240.4H1395.1M1393 238.3V242.5"/>
<circle class="tk" cx="1394.3" cy="264.65" r="0.85"/>
<path class="tkl" d="M1392.2 264.65H1396.4M1394.3 262.55V266.75"/>
<circle class="tk" cx="1401.27" cy="394.74" r="0.85"/>
<path class="tkl" d="M1399.17 394.74H1403.37M1401.27 392.64V396.84"/>
<text class="d m" transform="translate(1396.25 252.53) rotate(93.06) scale(0.83 1)">1,10</text>
<text class="d m" transform="translate(1400.38 329.7) rotate(93.06) scale(0.83 1)">5,90</text>
<text class="d m" transform="translate(1326.5 257.5) scale(0.83 1)">24</text>
<text class="d m" transform="translate(1345 256.5) scale(0.83 1)">20</text>
<line class="st" x1="347.6" y1="473" x2="347.6" y2="498"/>
<line class="st" x1="352.2" y1="473" x2="352.2" y2="498"/>
<line class="st" x1="357.4" y1="473" x2="357.4" y2="498"/>
<line class="st" x1="362.6" y1="473" x2="362.6" y2="498"/>
<line class="st" x1="367.8" y1="473" x2="367.8" y2="498"/>
<line class="std" x1="374.1" y1="473" x2="374.1" y2="498"/>
<line class="st" x1="379.9" y1="473" x2="379.9" y2="498"/>
<line class="st" x1="317.6" y1="511" x2="341.4" y2="511"/>
<line class="st" x1="317.6" y1="515.6" x2="341.4" y2="515.6"/>
<line class="st" x1="317.6" y1="520.2" x2="341.4" y2="520.2"/>
<line class="st" x1="317.6" y1="525.4" x2="341.4" y2="525.4"/>
<line class="st" x1="317.6" y1="531.8" x2="341.4" y2="531.8"/>
<line class="st" x1="317.6" y1="537" x2="341.4" y2="537"/>
<line class="st" x1="341.4" y1="498" x2="317.6" y2="506"/>
<line class="st" x1="341.4" y1="498" x2="317.6" y2="500"/>
<line class="st" x1="341.4" y1="498" x2="317.6" y2="493"/>
<line class="st" x1="341.4" y1="498" x2="317.6" y2="485"/>
<line class="st" x1="341.4" y1="498" x2="318.6" y2="474"/>
<line class="st" x1="341.4" y1="498" x2="326.6" y2="473"/>
<line class="st" x1="341.4" y1="498" x2="332.6" y2="473"/>
<line class="st" x1="341.4" y1="498" x2="337.6" y2="473"/>
<line class="st" x1="341.4" y1="498" x2="342.6" y2="473"/>
<rect class="bk" x="341.4" y="498" width="41" height="41.3"/>
<rect class="st" x="343.6" y="500.2" width="36.6" height="36.9"/>
<rect class="wh" x="380.8" y="506.6" width="2.8" height="23.5"/>
<rect class="st" x="348.4" y="507.5" width="29.1" height="22"/>
<line class="st" x1="348.4" y1="507.5" x2="377.5" y2="529.5"/>
<line class="st" x1="377.5" y1="507.5" x2="348.4" y2="529.5"/>
<line class="st" x1="379.9" y1="507.5" x2="379.9" y2="529.8"/>
<line class="st" x1="380.4" y1="529.3" x2="389.9" y2="511"/>
<circle class="st" cx="330.3" cy="537.5" r="2.1"/>
<path class="st" d="M330.3 535.4V497Q330.3 486.4 341.6 486.4H377.6"/>
<path class="tk" d="M380.1 486.4l-3 -1.6v3.2z"/>
<path class="st" d="M321.3 561.8H328.3M324.8 558.3V565.3M322.8 559.8L326.8 563.8M326.8 559.8L322.8 563.8"/>
<circle class="tk" cx="324.8" cy="561.8" r="1.1"/>
<line class="st" x1="797.1" y1="473.2" x2="797.1" y2="498.2"/>
<line class="st" x1="801.7" y1="473.2" x2="801.7" y2="498.2"/>
<line class="st" x1="806.9" y1="473.2" x2="806.9" y2="498.2"/>
<line class="st" x1="812.1" y1="473.2" x2="812.1" y2="498.2"/>
<line class="st" x1="817.3" y1="473.2" x2="817.3" y2="498.2"/>
<line class="std" x1="823.6" y1="473.2" x2="823.6" y2="498.2"/>
<line class="st" x1="829.4" y1="473.2" x2="829.4" y2="498.2"/>
<line class="st" x1="767.1" y1="511.2" x2="790.9" y2="511.2"/>
<line class="st" x1="767.1" y1="515.8" x2="790.9" y2="515.8"/>
<line class="st" x1="767.1" y1="520.4" x2="790.9" y2="520.4"/>
<line class="st" x1="767.1" y1="525.6" x2="790.9" y2="525.6"/>
<line class="st" x1="767.1" y1="532" x2="790.9" y2="532"/>
<line class="st" x1="767.1" y1="537.2" x2="790.9" y2="537.2"/>
<line class="st" x1="790.9" y1="498.2" x2="767.1" y2="506.2"/>
<line class="st" x1="790.9" y1="498.2" x2="767.1" y2="500.2"/>
<line class="st" x1="790.9" y1="498.2" x2="767.1" y2="493.2"/>
<line class="st" x1="790.9" y1="498.2" x2="767.1" y2="485.2"/>
<line class="st" x1="790.9" y1="498.2" x2="768.1" y2="474.2"/>
<line class="st" x1="790.9" y1="498.2" x2="776.1" y2="473.2"/>
<line class="st" x1="790.9" y1="498.2" x2="782.1" y2="473.2"/>
<line class="st" x1="790.9" y1="498.2" x2="787.1" y2="473.2"/>
<line class="st" x1="790.9" y1="498.2" x2="792.1" y2="473.2"/>
<rect class="bk" x="790.9" y="498.2" width="41" height="41.3"/>
<rect class="st" x="793.1" y="500.4" width="36.6" height="36.9"/>
<rect class="wh" x="830.3" y="506.8" width="2.8" height="23.5"/>
<rect class="st" x="797.9" y="507.7" width="29.1" height="22"/>
<line class="st" x1="797.9" y1="507.7" x2="827" y2="529.7"/>
<line class="st" x1="827" y1="507.7" x2="797.9" y2="529.7"/>
<line class="st" x1="829.4" y1="507.7" x2="829.4" y2="530"/>
<line class="st" x1="829.9" y1="529.5" x2="839.4" y2="511.2"/>
<circle class="st" cx="779.8" cy="537.7" r="2.1"/>
<path class="st" d="M779.8 535.6V497.2Q779.8 486.6 791.1 486.6H827.1"/>
<path class="tk" d="M829.6 486.6l-3 -1.6v3.2z"/>
<path class="st" d="M770.8 562H777.8M774.3 558.5V565.5M772.3 560L776.3 564M776.3 560L772.3 564"/>
<circle class="tk" cx="774.3" cy="562" r="1.1"/>
<line class="st" x1="1175.9" y1="473.8" x2="1175.9" y2="498"/>
<line class="st" x1="1182.8" y1="473.8" x2="1182.8" y2="498"/>
<line class="st" x1="1189.2" y1="473.8" x2="1189.2" y2="498"/>
<line class="st" x1="1195.6" y1="473.8" x2="1195.6" y2="498"/>
<line class="st" x1="1201.4" y1="473.8" x2="1201.4" y2="498"/>
<line class="st" x1="1137.7" y1="503.4" x2="1159.1" y2="503.4"/>
<line class="st" x1="1137.7" y1="509.2" x2="1159.1" y2="509.2"/>
<line class="st" x1="1137.7" y1="514.4" x2="1159.1" y2="514.4"/>
<line class="st" x1="1137.7" y1="519.6" x2="1159.1" y2="519.6"/>
<line class="st" x1="1137.7" y1="525.4" x2="1159.1" y2="525.4"/>
<line class="st" x1="1137.7" y1="531.2" x2="1159.1" y2="531.2"/>
<line class="st" x1="1162.3" y1="499" x2="1137.7" y2="495.8"/>
<line class="st" x1="1162.3" y1="499" x2="1137.7" y2="488.8"/>
<line class="st" x1="1162.3" y1="499" x2="1137.7" y2="481.8"/>
<line class="st" x1="1162.3" y1="499" x2="1138.7" y2="474.8"/>
<line class="st" x1="1162.3" y1="499" x2="1146.7" y2="473.8"/>
<line class="st" x1="1162.3" y1="499" x2="1153.7" y2="473.8"/>
<line class="st" x1="1162.3" y1="499" x2="1160.7" y2="473.8"/>
<line class="st" x1="1162.3" y1="499" x2="1167.7" y2="473.8"/>
<rect class="hw" x="1159.1" y="507.7" width="5.8" height="30.1"/>
<rect class="hw" x="1159.1" y="534.3" width="42.3" height="6.3"/>
<line class="bk" x1="1159.3" y1="507.7" x2="1159.3" y2="537.8"/>
<path class="bk" d="M1162.3 503.5V498.4H1203.2V507.7"/>
<rect class="st" x="1169.6" y="508" width="29.5" height="22.2"/>
<line class="st" x1="1169.6" y1="508" x2="1199.1" y2="530.2"/>
<line class="st" x1="1199.1" y1="508" x2="1169.6" y2="530.2"/>
<line class="st" x1="1201.5" y1="508" x2="1201.5" y2="531"/>
<line class="st" x1="1202" y1="529" x2="1211.5" y2="511"/>
<circle class="st" cx="1149.3" cy="538.1" r="2.1"/>
<line class="st" x1="1149.3" y1="536" x2="1149.3" y2="503.5"/>
<path class="tk" d="M1149.3 501.5l-1.7 3h3.4z"/>
<path class="st" d="M1152 493Q1156 486.5 1166 486.5H1199"/>
<path class="tk" d="M1201.8 486.5l-3 -1.6v3.2z"/>
<path class="st" d="M1205.0 491.5H1212.0M1208.5 488.0V495.0M1206.5 489.5L1210.5 493.5M1210.5 489.5L1206.5 493.5"/>
<circle class="tk" cx="1208.5" cy="491.5" r="1.1"/>
<path class="dr" d="M1201.4 551L1179.4 551A22 22 0 0 1 1198.34 529.21"/>
<rect class="tw" x="1184" y="572.5" width="3.7" height="4.5"/>
<rect class="tw" x="1184" y="589.4" width="3.7" height="37.8"/>
<rect class="tw" x="1138.6" y="605.5" width="49.1" height="3.3"/>
<rect class="tw" x="1187.7" y="625.4" width="23.6" height="3.3"/>
<rect class="tw" x="1207.9" y="625.4" width="3.4" height="14.9"/>
<rect class="tw" x="1207.9" y="659" width="3.4" height="47.3"/>
<rect class="tw" x="1138.6" y="688.9" width="72.7" height="3.5"/>
<rect class="tw" x="1207.9" y="724.8" width="3.4" height="61"/>
<rect class="tw" x="1207.9" y="816.9" width="3.4" height="21.1"/>
<rect class="tw" x="1138.6" y="761.6" width="70.4" height="3"/>
<rect class="tw" x="1232.6" y="745.2" width="124.4" height="3.3"/>
<rect class="hw" x="1236.2" y="682" width="5.8" height="25.4"/>
<rect class="hw" x="1236.2" y="724.8" width="5.8" height="21.2"/>
<rect class="tw" x="1276" y="640.3" width="3" height="38.7"/>
<rect class="tw" x="1298.5" y="640.3" width="3" height="18"/>
<rect class="tw" x="1279" y="655.3" width="22.5" height="3"/>
<rect class="tw" x="1242" y="677.7" width="34" height="3.2"/>
<rect class="tw" x="1279" y="677.7" width="34.4" height="3.2"/>
<rect class="tw" x="1329.6" y="677.7" width="24.9" height="3.2"/>
<path class="dr" d="M1185 577L1169.5 577A15.5 15.5 0 0 0 1185 592.5"/>
<path class="dr" d="M1233.5 572.5L1212.5 572.5A21 21 0 0 0 1233.5 593.5"/>
<path class="dr" d="M1209.5 640.3L1190.8 640.3A18.7 18.7 0 0 0 1209.5 659"/>
<path class="dr" d="M1208.3 705.4L1189.6 705.4A18.7 18.7 0 0 0 1208.3 724.1"/>
<path class="dr" d="M1232.6 724.8L1211.6 724.8A21 21 0 0 1 1232.6 703.8"/>
<path class="dr" d="M1242 596.5L1242 615.5A19 19 0 0 0 1261 596.5"/>
<path class="dr" d="M1242 707.4L1242 724.9A17.5 17.5 0 0 0 1259.5 707.4"/>
<path class="dr" d="M1209.5 785.8L1225 785.8A15.5 15.5 0 0 1 1209.5 801.3"/>
<path class="dr" d="M1209.5 816.9L1225 816.9A15.5 15.5 0 0 0 1209.5 801.4"/>
<path class="dr" d="M1242 385.4L1242 402.8A17.4 17.4 0 0 0 1259.4 385.4"/>
<path class="dr" d="M1284.3 462L1301.8 462A17.5 17.5 0 0 1 1284.3 479.5"/>
<path class="dr" d="M1242 468.8L1220 468.8A22 22 0 0 0 1242 490.8"/>
<rect class="lf" x="248.99" y="239.9" width="67.89" height="12.43"/>
<rect class="lf" x="304.45" y="239.9" width="12.43" height="12.43"/>
<text class="ts m" transform="translate(310.67 247.85) scale(0.85 1)">×</text>
<text class="ts m" transform="translate(551.15 315.74) scale(0.85 1)">×</text>
<rect class="lf" x="248.99" y="285.16" width="67.89" height="13.93"/>
<rect class="lf" x="263.42" y="286.65" width="13.68" height="10.94"/>
<ellipse class="lf" cx="266.83" cy="289.38" rx="2.39" ry="1.91"/>
<ellipse class="lf" cx="273.67" cy="289.38" rx="2.39" ry="1.91"/>
<ellipse class="lf" cx="266.83" cy="294.86" rx="2.39" ry="1.91"/>
<ellipse class="lf" cx="273.67" cy="294.86" rx="2.39" ry="1.91"/>
<rect class="lf" x="284.55" y="287.15" width="17.41" height="10.44"/>
<rect class="lf" x="285.55" y="288.14" width="15.42" height="8.46"/>
<line class="st" x1="286.54" y1="288.39" x2="286.54" y2="296.6"/>
<line class="st" x1="288.53" y1="288.39" x2="288.53" y2="296.6"/>
<line class="st" x1="290.52" y1="288.39" x2="290.52" y2="296.6"/>
<line class="lf" x1="319.87" y1="252.33" x2="339.27" y2="249.84"/>
<line class="lf" x1="339.27" y1="249.84" x2="336.28" y2="266.01"/>
<line class="lf" x1="336.28" y1="266.01" x2="321.86" y2="268.49"/>
<line class="lf" x1="336.28" y1="266.01" x2="339.27" y2="283.42"/>
<line class="lf" x1="339.27" y1="283.42" x2="319.87" y2="285.16"/>
<rect class="lf" x="253.47" y="302.07" width="26.11" height="14.92"/>
<rect class="lf" x="260.93" y="316.99" width="11.19" height="4.97"/>
<rect class="lf" x="283.31" y="302.07" width="33.57" height="11.94"/>
<rect class="lf" x="250.48" y="361.75" width="43.52" height="18.65"/>
<rect class="lf" x="250.48" y="361.75" width="9.2" height="18.65"/>
<path class="dr" d="M316.88 395.57L296.99 395.57A19.9 19.9 0 0 1 316.88 375.68"/>
<rect class="lf" x="250.48" y="384.63" width="37.8" height="15.67" rx="2.49"/>
<rect class="lf" x="257.45" y="389.11" width="25.37" height="6.71" rx="1.24"/>
<rect class="lf" x="250.98" y="420.94" width="21.14" height="17.41"/>
<g transform="translate(282.07 430.14) rotate(0)"><path class="lf" d="M-4.48 -6.47H4.48V1.49A4.48 4.97 0 0 1 -4.48 1.49Z"/></g>
<g transform="translate(303.21 431.38) rotate(90)"><path class="lf" d="M-4.73 0A4.73 5.43 0 0 0 4.73 0Z"/></g>
<path class="dr" d="M316.88 404.03L298.98 404.03A17.91 17.91 0 0 0 316.88 421.93"/>
<rect class="lf" x="361.65" y="244.87" width="17.91" height="46.75"/>
<rect class="lf" x="358.17" y="249.55" width="3.48" height="6.22"/>
<rect class="lf" x="379.55" y="249.55" width="3.48" height="6.22"/>
<rect class="lf" x="358.17" y="265.14" width="3.48" height="6.22"/>
<rect class="lf" x="379.55" y="265.14" width="3.48" height="6.22"/>
<rect class="lf" x="358.17" y="280.72" width="3.48" height="6.22"/>
<rect class="lf" x="379.55" y="280.72" width="3.48" height="6.22"/>
<line class="std" x1="370.6" y1="242.38" x2="370.6" y2="294.61"/>
<rect class="lf" x="405.91" y="244.87" width="7.96" height="49.24"/>
<rect class="lf" x="319.87" y="298.34" width="9.45" height="72.87"/>
<rect class="lf" x="392.73" y="307.54" width="20.64" height="44.27"/>
<line class="lf" x1="411.38" y1="307.54" x2="411.38" y2="351.8"/>
<line class="lf" x1="392.73" y1="322.96" x2="411.38" y2="322.96"/>
<line class="lf" x1="392.73" y1="336.39" x2="411.38" y2="336.39"/>
<line class="lf" x1="392.73" y1="309.53" x2="413.37" y2="309.53"/>
<line class="lf" x1="392.73" y1="349.82" x2="413.37" y2="349.82"/>
<rect class="lf" x="375.33" y="316.99" width="13.18" height="26.11"/>
<g transform="translate(360.4 341.36) rotate(-30)"><path class="lf" d="M-8.7 -7.83L-6.96 5.22A8.7 8.7 0 0 0 6.96 5.22L8.7 -7.83Z"/></g>
<path class="dr" d="M331.8 371.7L331.8 351.31A20.39 20.39 0 0 1 352.2 371.7"/>
<rect class="lf" x="361.15" y="374.19" width="12.93" height="27.36"/>
<line class="st" x1="362.89" y1="381.65" x2="362.89" y2="394.08"/>
<line class="st" x1="364.51" y1="381.65" x2="364.51" y2="394.08"/>
<line class="st" x1="366.12" y1="381.65" x2="366.12" y2="394.08"/>
<line class="st" x1="367.74" y1="381.65" x2="367.74" y2="394.08"/>
<line class="st" x1="369.36" y1="381.65" x2="369.36" y2="394.08"/>
<line class="st" x1="370.97" y1="381.65" x2="370.97" y2="394.08"/>
<line class="st" x1="372.59" y1="381.65" x2="372.59" y2="394.08"/>
<path class="dr" d="M378.56 418.95L395.47 418.95A16.91 16.91 0 0 0 378.56 402.04"/>
<line class="lf" x1="378.56" y1="387.86" x2="415.12" y2="387.86"/>
<line class="lf" x1="378.56" y1="421.44" x2="415.12" y2="421.44"/>
<path class="dr" d="M374.08 464.96L351.2 464.96A22.88 22.88 0 0 1 374.08 442.08"/>
<path class="dr" d="M420.84 464.96L444.46 464.96A23.63 23.63 0 0 0 420.84 441.33"/>
<rect class="lf" x="471.07" y="246.11" width="17.91" height="46.01"/>
<rect class="lf" x="467.59" y="250.67" width="3.48" height="6.22"/>
<rect class="lf" x="488.98" y="250.67" width="3.48" height="6.22"/>
<rect class="lf" x="467.59" y="266.01" width="3.48" height="6.22"/>
<rect class="lf" x="488.98" y="266.01" width="3.48" height="6.22"/>
<rect class="lf" x="467.59" y="281.34" width="3.48" height="6.22"/>
<rect class="lf" x="488.98" y="281.34" width="3.48" height="6.22"/>
<rect class="lf" x="420.84" y="244.87" width="8.46" height="49.24"/>
<rect class="lf" x="490.47" y="307.54" width="20.39" height="44.27"/>
<line class="lf" x1="508.87" y1="307.54" x2="508.87" y2="351.8"/>
<line class="lf" x1="490.47" y1="322.96" x2="508.87" y2="322.96"/>
<line class="lf" x1="490.47" y1="336.39" x2="508.87" y2="336.39"/>
<line class="lf" x1="490.47" y1="309.53" x2="510.86" y2="309.53"/>
<line class="lf" x1="490.47" y1="349.82" x2="510.86" y2="349.82"/>
<rect class="lf" x="473.06" y="316.99" width="13.43" height="26.11"/>
<g transform="translate(458.14 341.36) rotate(-30)"><path class="lf" d="M-8.7 -7.83L-6.96 5.22A8.7 8.7 0 0 0 6.96 5.22L8.7 -7.83Z"/></g>
<path class="dr" d="M425.06 357.28L444.96 357.28A19.9 19.9 0 0 1 425.06 377.17"/>
<rect class="lf" x="453.66" y="359.27" width="37.3" height="16.16" rx="2.49"/>
<rect class="lf" x="460.63" y="363.74" width="24.87" height="7.21" rx="1.24"/>
<g transform="translate(490.97 386.12) rotate(90)"><path class="lf" d="M-5.47 0A5.47 6.29 0 0 0 5.47 0Z"/></g>
<g transform="translate(482.26 407.01) rotate(90)"><path class="lf" d="M-4.48 -6.47H4.48V1.49A4.48 4.97 0 0 1 -4.48 1.49Z"/></g>
<rect class="lf" x="473.06" y="423.92" width="19.15" height="14.42"/>
<line class="st" x1="475.55" y1="425.91" x2="475.55" y2="436.86"/>
<line class="st" x1="477.78" y1="425.91" x2="477.78" y2="436.86"/>
<line class="st" x1="480.02" y1="425.91" x2="480.02" y2="436.86"/>
<line class="st" x1="482.26" y1="425.91" x2="482.26" y2="436.86"/>
<line class="st" x1="484.5" y1="425.91" x2="484.5" y2="436.86"/>
<line class="st" x1="486.74" y1="425.91" x2="486.74" y2="436.86"/>
<line class="st" x1="488.98" y1="425.91" x2="488.98" y2="436.86"/>
<path class="dr" d="M452.92 391.59L468.33 391.59A15.42 15.42 0 0 0 452.92 376.18"/>
<rect class="lf" x="544.43" y="239.9" width="13.68" height="82.07"/>
<rect class="lf" x="545.68" y="254.82" width="11.19" height="12.43"/>
<ellipse class="lf" cx="548.47" cy="257.92" rx="1.96" ry="2.18"/>
<ellipse class="lf" cx="554.07" cy="257.92" rx="1.96" ry="2.18"/>
<ellipse class="lf" cx="548.47" cy="264.14" rx="1.96" ry="2.18"/>
<ellipse class="lf" cx="554.07" cy="264.14" rx="1.96" ry="2.18"/>
<rect class="lf" x="546.17" y="283.42" width="9.95" height="9.95"/>
<rect class="lf" x="547.17" y="284.41" width="7.96" height="7.96"/>
<rect class="lf" x="544.43" y="305.8" width="13.68" height="16.16"/>
<line class="st" x1="546.17" y1="276.7" x2="546.17" y2="281.67"/>
<line class="st" x1="548.41" y1="276.7" x2="548.41" y2="281.67"/>
<line class="st" x1="550.65" y1="276.7" x2="550.65" y2="281.67"/>
<line class="st" x1="552.89" y1="276.7" x2="552.89" y2="281.67"/>
<line class="st" x1="555.13" y1="276.7" x2="555.13" y2="281.67"/>
<path class="dr" d="M518.82 253.57L518.82 278.44A24.87 24.87 0 0 0 540.36 266.01"/>
<path class="dr" d="M520.81 321.96L539.46 321.96A18.65 18.65 0 0 0 520.81 303.31"/>
<rect class="lf" x="513.35" y="389.11" width="44.76" height="38.55"/>
<rect class="lf" x="545.68" y="390.6" width="11.44" height="16.29"/>
<rect class="lf" x="545.68" y="409.87" width="11.44" height="16.29"/>
<rect class="lf" x="548.16" y="379.16" width="9.95" height="9.95"/>
<rect class="lf" x="548.16" y="427.65" width="9.95" height="11.19"/>
<line class="lf" x1="495.44" y1="370.46" x2="558.11" y2="370.46"/>
<path class="dr" d="M495.44 464.96L514.09 464.96A18.65 18.65 0 0 0 495.44 446.31"/>
<rect class="lf" x="563.63" y="239.9" width="14.92" height="24.87"/>
<rect class="lf" x="578.55" y="246.11" width="6.22" height="11.19"/>
<rect class="lf" x="675.54" y="239.9" width="14.92" height="24.87"/>
<rect class="lf" x="669.32" y="246.11" width="6.22" height="11.19"/>
<rect class="lf" x="563.63" y="288.39" width="18.65" height="42.28"/>
<rect class="lf" x="566.11" y="321.96" width="14.92" height="8.7"/>
<rect class="lf" x="611.62" y="288.39" width="12.93" height="43.52"/>
<rect class="lf" x="627.54" y="288.39" width="13.18" height="43.52"/>
<rect class="lf" x="670.56" y="288.39" width="19.9" height="42.28"/>
<rect class="lf" x="671.8" y="321.96" width="17.41" height="8.7"/>
<path class="dr" d="M607.15 333.15L607.15 315.74A17.41 17.41 0 0 0 589.74 333.15"/>
<path class="dr" d="M644.45 333.15L644.45 315.74A17.41 17.41 0 0 1 661.86 333.15"/>
<rect class="lf" x="592.72" y="359.27" width="77.84" height="23.63"/>
<line class="st" x1="597.7" y1="362.25" x2="597.7" y2="382.89"/>
<line class="st" x1="602.67" y1="362.25" x2="602.67" y2="382.89"/>
<line class="st" x1="607.64" y1="362.25" x2="607.64" y2="382.89"/>
<line class="st" x1="612.62" y1="362.25" x2="612.62" y2="382.89"/>
<line class="st" x1="617.59" y1="362.25" x2="617.59" y2="382.89"/>
<line class="st" x1="622.56" y1="362.25" x2="622.56" y2="382.89"/>
<line class="st" x1="627.54" y1="362.25" x2="627.54" y2="382.89"/>
<line class="st" x1="632.51" y1="362.25" x2="632.51" y2="382.89"/>
<line class="st" x1="637.49" y1="362.25" x2="637.49" y2="382.89"/>
<line class="st" x1="642.46" y1="362.25" x2="642.46" y2="382.89"/>
<line class="st" x1="647.43" y1="362.25" x2="647.43" y2="382.89"/>
<line class="st" x1="652.41" y1="362.25" x2="652.41" y2="382.89"/>
<line class="st" x1="657.38" y1="362.25" x2="657.38" y2="382.89"/>
<line class="st" x1="662.35" y1="362.25" x2="662.35" y2="382.89"/>
<line class="st" x1="667.33" y1="362.25" x2="667.33" y2="382.89"/>
<line class="st" x1="592.72" y1="362.25" x2="670.56" y2="362.25"/>
<rect class="tw" x="584.76" y="382.89" width="88.28" height="3.23"/>
<path class="dr" d="M584.76 386.12L561.14 386.12A23.63 23.63 0 0 0 580.66 409.39"/>
<path class="dr" d="M673.05 386.12L696.67 386.12A23.63 23.63 0 0 1 677.15 409.39"/>
<rect class="lf" x="605.9" y="387.86" width="18.65" height="43.52"/>
<rect class="lf" x="608.39" y="389.11" width="14.92" height="7.46"/>
<rect class="lf" x="609.63" y="436.36" width="16.16" height="26.11"/>
<rect class="lf" x="604.16" y="443.82" width="5.47" height="11.19"/>
<g transform="translate(633.01 417.71) rotate(-90)"><path class="lf" d="M-7.96 0A7.96 9.15 0 0 0 7.96 0Z"/></g>
<g transform="translate(633.01 437.6) rotate(-90)"><path class="lf" d="M-7.96 0A7.96 9.15 0 0 0 7.96 0Z"/></g>
<g transform="translate(638.98 457.5) rotate(-90)"><path class="lf" d="M-4.48 -6.47H4.48V1.49A4.48 4.97 0 0 1 -4.48 1.49Z"/></g>
<line class="lf" x1="632.51" y1="406.52" x2="632.51" y2="466.2"/>
<rect class="lf" x="673.05" y="428.9" width="16.16" height="36.06" rx="2.49"/>
<rect class="lf" x="678.02" y="435.86" width="6.22" height="23.63" rx="1.24"/>
<rect class="lf" x="628.28" y="406.52" width="60.93" height="0"/>
<ellipse class="lf" cx="706.12" cy="410.99" rx="6.47" ry="4.48"/>
<rect class="lf" x="697.92" y="405.27" width="16.16" height="11.19"/>
<g transform="translate(706.12 456.25) rotate(0)"><path class="lf" d="M-4.48 -6.47H4.48V1.49A4.48 4.97 0 0 1 -4.48 1.49Z"/></g>
<rect class="lf" x="727.76" y="306.54" width="18.15" height="46.5"/>
<rect class="lf" x="724.28" y="311.19" width="3.48" height="6.22"/>
<rect class="lf" x="745.91" y="311.19" width="3.48" height="6.22"/>
<rect class="lf" x="724.28" y="326.69" width="3.48" height="6.22"/>
<rect class="lf" x="745.91" y="326.69" width="3.48" height="6.22"/>
<rect class="lf" x="724.28" y="342.19" width="3.48" height="6.22"/>
<rect class="lf" x="745.91" y="342.19" width="3.48" height="6.22"/>
<rect class="lf" x="778.24" y="299.58" width="84.55" height="84.06"/>
<rect class="lf" x="782.47" y="306.54" width="20.64" height="44.02"/>
<line class="lf" x1="784.46" y1="306.54" x2="784.46" y2="350.56"/>
<line class="lf" x1="784.46" y1="328.55" x2="803.11" y2="328.55"/>
<line class="lf" x1="782.47" y1="308.53" x2="803.11" y2="308.53"/>
<line class="lf" x1="782.47" y1="348.57" x2="803.11" y2="348.57"/>
<rect class="lf" x="813.56" y="315.74" width="13.18" height="26.11"/>
<rect class="lf" x="837.93" y="306.54" width="20.39" height="44.02"/>
<line class="lf" x1="856.33" y1="306.54" x2="856.33" y2="350.56"/>
<line class="lf" x1="837.93" y1="328.55" x2="856.33" y2="328.55"/>
<line class="lf" x1="837.93" y1="308.53" x2="858.32" y2="308.53"/>
<line class="lf" x1="837.93" y1="348.57" x2="858.32" y2="348.57"/>
<g transform="translate(808.09 367.97) rotate(25)"><path class="lf" d="M-7.46 -6.71L-5.97 4.48A7.46 7.46 0 0 0 5.97 4.48L7.46 -6.71Z"/></g>
<g transform="translate(839.67 366.73) rotate(-45)"><path class="lf" d="M-8.7 -7.83L-6.96 5.22A8.7 8.7 0 0 0 6.96 5.22L8.7 -7.83Z"/></g>
<line class="std" x1="815.55" y1="220" x2="815.55" y2="436.36"/>
<path class="dr" d="M719.06 402.79L719.06 387.12A15.67 15.67 0 0 1 734.72 402.79"/>
<path class="dr" d="M750.89 402.79L750.89 387.12A15.67 15.67 0 0 0 735.22 402.79"/>
<path class="dr" d="M829.72 402.79L829.72 387.37A15.42 15.42 0 0 1 845.14 402.79"/>
<path class="dr" d="M860.81 402.79L860.81 387.37A15.42 15.42 0 0 0 845.39 402.79"/>
<rect class="lf" x="756.36" y="394.08" width="57.2" height="8.7"/>
<rect class="lf" x="756.36" y="406.02" width="57.2" height="12.93"/>
<line class="st" x1="762.58" y1="407.76" x2="762.58" y2="417.71"/>
<line class="st" x1="765.06" y1="407.76" x2="765.06" y2="417.71"/>
<line class="st" x1="767.55" y1="407.76" x2="767.55" y2="417.71"/>
<line class="st" x1="770.04" y1="407.76" x2="770.04" y2="417.71"/>
<line class="st" x1="772.52" y1="407.76" x2="772.52" y2="417.71"/>
<rect class="std" x="743.92" y="436.36" width="85.8" height="9.95"/>
<rect class="lf" x="743.92" y="446.31" width="85.8" height="19.9"/>
<line class="st" x1="748.9" y1="446.31" x2="748.9" y2="466.2"/>
<line class="st" x1="754" y1="446.31" x2="754" y2="466.2"/>
<line class="st" x1="759.09" y1="446.31" x2="759.09" y2="466.2"/>
<line class="st" x1="764.19" y1="446.31" x2="764.19" y2="466.2"/>
<line class="st" x1="769.29" y1="446.31" x2="769.29" y2="466.2"/>
<line class="st" x1="774.39" y1="446.31" x2="774.39" y2="466.2"/>
<line class="st" x1="779.49" y1="446.31" x2="779.49" y2="466.2"/>
<line class="st" x1="784.58" y1="446.31" x2="784.58" y2="466.2"/>
<line class="st" x1="789.68" y1="446.31" x2="789.68" y2="466.2"/>
<line class="st" x1="794.78" y1="446.31" x2="794.78" y2="466.2"/>
<line class="st" x1="799.88" y1="446.31" x2="799.88" y2="466.2"/>
<line class="st" x1="804.98" y1="446.31" x2="804.98" y2="466.2"/>
<line class="st" x1="810.08" y1="446.31" x2="810.08" y2="466.2"/>
<line class="st" x1="815.17" y1="446.31" x2="815.17" y2="466.2"/>
<line class="st" x1="820.27" y1="446.31" x2="820.27" y2="466.2"/>
<line class="st" x1="825.37" y1="446.31" x2="825.37" y2="466.2"/>
<line class="st" x1="745.17" y1="457.5" x2="829.72" y2="457.5"/>
<path class="dr" d="M718.56 445.06L742.18 445.06A23.63 23.63 0 0 1 726.64 467.26"/>
<path class="dr" d="M864.54 466.2L839.67 466.2A24.87 24.87 0 0 1 864.54 441.33"/>
<rect class="lf" x="872" y="334.4" width="42.28" height="38.55"/>
<rect class="lf" x="872" y="335.64" width="8.7" height="16.16"/>
<rect class="lf" x="872" y="355.54" width="8.7" height="16.16"/>
<rect class="lf" x="872" y="323.21" width="4.97" height="9.95"/>
<rect class="lf" x="872" y="374.19" width="4.97" height="9.95"/>
<rect class="lf" x="913.03" y="303.31" width="6.96" height="9.95"/>
<path class="dr" d="M888.16 402.79L896.12 402.79A7.96 7.96 0 0 0 888.16 394.83"/>
<path class="dr" d="M904.33 402.79L896.37 402.79A7.96 7.96 0 0 1 904.33 394.83"/>
<line class="lf" x1="872" y1="426.41" x2="883.19" y2="426.41"/>
<line class="lf" x1="883.19" y1="406.02" x2="883.19" y2="435.12"/>
<rect class="lf" x="895.62" y="467.44" width="24.37" height="12.43"/>
<line class="lg" x1="700" y1="243" x2="931" y2="243"/>
<rect class="lf" x="940.93" y="270.98" width="43.52" height="38.55"/>
<rect class="lf" x="940.93" y="272.22" width="9.95" height="16.16"/>
<rect class="lf" x="940.93" y="292.12" width="9.95" height="16.16"/>
<rect class="lf" x="940.93" y="258.55" width="5.72" height="11.19"/>
<rect class="lf" x="940.93" y="310.77" width="5.72" height="9.95"/>
<rect class="lf" x="919.79" y="294.61" width="15.42" height="26.11"/>
<rect class="lf" x="913.57" y="302.07" width="6.22" height="11.19"/>
<rect class="lf" x="940.93" y="348.07" width="61.67" height="13.68"/>
<rect class="lf" x="1047.86" y="254.32" width="19.9" height="42.77"/>
<rect class="lf" x="1049.61" y="255.31" width="16.91" height="8.21"/>
<rect class="lf" x="1005.59" y="269.74" width="16.16" height="27.36"/>
<rect class="lf" x="1021.75" y="277.7" width="5.47" height="8.95"/>
<path class="dr" d="M1015.54 323.21L1015.54 305.3A17.91 17.91 0 0 1 1033.44 323.21"/>
<path class="dr" d="M1002.6 345.59L984.7 345.59A17.91 17.91 0 0 1 1002.6 327.68"/>
<path class="dr" d="M1002.6 379.16L984.7 379.16A17.91 17.91 0 0 0 1002.6 397.07"/>
<path class="dr" d="M1015.54 405.27L1015.54 423.18A17.91 17.91 0 0 0 1033.44 405.27"/>
<rect class="lf" x="1041.65" y="326.94" width="24.87" height="75.85"/>
<line class="st" x1="1046.12" y1="349.32" x2="1066.52" y2="349.32"/>
<line class="st" x1="1046.12" y1="353.55" x2="1066.52" y2="353.55"/>
<line class="st" x1="1046.12" y1="357.77" x2="1066.52" y2="357.77"/>
<line class="st" x1="1046.12" y1="362" x2="1066.52" y2="362"/>
<line class="st" x1="1046.12" y1="366.23" x2="1066.52" y2="366.23"/>
<line class="st" x1="1046.12" y1="370.46" x2="1066.52" y2="370.46"/>
<line class="st" x1="1046.12" y1="374.68" x2="1066.52" y2="374.68"/>
<line class="st" x1="1046.12" y1="378.91" x2="1066.52" y2="378.91"/>
<line class="st" x1="1046.12" y1="383.14" x2="1066.52" y2="383.14"/>
<line class="st" x1="1046.12" y1="344.34" x2="1041.65" y2="331.91"/>
<line class="st" x1="1046.12" y1="344.34" x2="1041.65" y2="339.37"/>
<line class="st" x1="1046.12" y1="344.34" x2="1054.08" y2="326.94"/>
<line class="st" x1="1046.12" y1="344.34" x2="1064.03" y2="326.94"/>
<line class="st" x1="1046.12" y1="382.89" x2="1051.59" y2="402.79"/>
<line class="st" x1="1046.12" y1="382.89" x2="1061.54" y2="402.79"/>
<line class="st" x1="1046.12" y1="382.89" x2="1066.52" y2="394.08"/>
<line class="st" x1="1046.12" y1="329.42" x2="1046.12" y2="402.79"/>
<rect class="lf" x="1040.4" y="308.28" width="27.36" height="12.43"/>
<rect class="lf" x="940.93" y="423.92" width="19.9" height="32.33"/>
<rect class="lf" x="942.17" y="457.5" width="17.41" height="8.7"/>
<rect class="lf" x="987.43" y="427.65" width="15.17" height="27.36"/>
<rect class="lf" x="981.96" y="436.36" width="5.47" height="9.95"/>
<rect class="lf" x="1007.33" y="430.14" width="15.67" height="36.06" rx="2.49"/>
<rect class="lf" x="1012.3" y="437.1" width="5.72" height="23.63" rx="1.24"/>
<rect class="lf" x="1044.13" y="407.76" width="19.9" height="18.65"/>
<rect class="lf" x="1054.08" y="431.38" width="9.95" height="16.16"/>
<g transform="translate(1057.07 457.5) rotate(-90)"><path class="lf" d="M-4.48 -6.47H4.48V1.49A4.48 4.97 0 0 1 -4.48 1.49Z"/></g>
<rect class="lf" x="1073.98" y="254.32" width="19.4" height="42.77"/>
<rect class="lf" x="1075.22" y="255.31" width="16.91" height="8.21"/>
<rect class="lf" x="1117.5" y="269.74" width="14.92" height="27.36"/>
<rect class="lf" x="1111.78" y="277.7" width="5.72" height="8.95"/>
<rect class="lf" x="1073.98" y="308.28" width="26.11" height="12.43"/>
<path class="dr" d="M1123.71 323.21L1123.71 305.3A17.91 17.91 0 0 0 1105.81 323.21"/>
<line class="lf" x1="1073.98" y1="348.07" x2="1100.09" y2="348.07"/>
<rect class="lf" x="1073.98" y="381.65" width="43.52" height="39.29"/>
<rect class="lf" x="1073.98" y="382.89" width="9.95" height="16.66"/>
<rect class="lf" x="1073.98" y="402.79" width="9.95" height="16.66"/>
<rect class="lf" x="1073.98" y="370.46" width="6.22" height="9.95"/>
<rect class="lf" x="1073.98" y="421.93" width="6.22" height="9.45"/>
<rect class="lf" x="1073.98" y="441.33" width="14.92" height="23.63"/>
<rect class="lf" x="1088.9" y="447.55" width="5.47" height="9.95"/>
<rect class="lf" x="1146.59" y="267.25" width="49.74" height="16.91"/>
<rect class="lf" x="1151.77" y="263.77" width="6.22" height="3.48"/>
<rect class="lf" x="1151.77" y="284.16" width="6.22" height="3.48"/>
<rect class="lf" x="1168.35" y="263.77" width="6.22" height="3.48"/>
<rect class="lf" x="1168.35" y="284.16" width="6.22" height="3.48"/>
<rect class="lf" x="1184.93" y="263.77" width="6.22" height="3.48"/>
<rect class="lf" x="1184.93" y="284.16" width="6.22" height="3.48"/>
<rect class="lf" x="1138.64" y="304.55" width="57.7" height="19.9"/>
<circle class="lf" cx="1148.09" cy="318.98" r="4.48"/>
<rect class="lf" x="1168.48" y="312.01" width="13.68" height="11.19"/>
<ellipse class="lf" cx="1171.9" cy="314.81" rx="2.39" ry="1.96"/>
<ellipse class="lf" cx="1178.74" cy="314.81" rx="2.39" ry="1.96"/>
<ellipse class="lf" cx="1171.9" cy="320.41" rx="2.39" ry="1.96"/>
<ellipse class="lf" cx="1178.74" cy="320.41" rx="2.39" ry="1.96"/>
<rect class="lf" x="1138.64" y="348.07" width="57.7" height="13.18"/>
<rect class="lf" x="1182.16" y="348.07" width="14.18" height="13.18"/>
<line class="std" x1="1185.39" y1="220" x2="1185.39" y2="418.95"/>
<path class="dr" d="M1200.81 360.76L1200.81 345.84A14.92 14.92 0 0 1 1215.73 360.76"/>
<path class="dr" d="M1231.4 360.76L1231.4 345.84A14.92 14.92 0 0 0 1216.48 360.76"/>
<text class="ts m" transform="translate(1189.12 356.28) scale(0.85 1)">×</text>
<g transform="translate(1147.34 372.2) rotate(0)"><path class="lf" d="M-4.48 -6.47H4.48V1.49A4.48 4.97 0 0 1 -4.48 1.49Z"/></g>
<g transform="translate(1162.26 365.48) rotate(0)"><path class="lf" d="M-6.22 0A6.22 7.15 0 0 0 6.22 0Z"/></g>
<rect class="lf" x="1173.45" y="364.24" width="19.4" height="33.57"/>
<rect class="lf" x="1138.64" y="401.04" width="14.92" height="17.91"/>
<rect class="lf" x="1179.67" y="401.04" width="13.18" height="17.91"/>
<path class="dr" d="M1169.72 401.54L1169.72 416.96A15.42 15.42 0 0 1 1154.3 401.54"/>
<path class="dr" d="M1138.14 437.6L1154.55 437.6A16.41 16.41 0 0 0 1138.14 421.19"/>
<path class="dr" d="M1192.85 437.6L1176.44 437.6A16.41 16.41 0 0 1 1192.85 421.19"/>
<rect class="lf" x="1138.64" y="452.52" width="53.47" height="14.92"/>
<rect class="lf" x="1139.88" y="453.77" width="50.98" height="12.43" rx="1.99"/>
<path class="dr" d="M1232.64 468.69L1209.01 468.69A23.63 23.63 0 0 1 1232.64 445.06"/>
<rect class="lf" x="1148" y="267.25" width="48.49" height="16.91"/>
<rect class="lf" x="1152.97" y="263.77" width="6.22" height="3.48"/>
<rect class="lf" x="1152.97" y="284.16" width="6.22" height="3.48"/>
<rect class="lf" x="1169.14" y="263.77" width="6.22" height="3.48"/>
<rect class="lf" x="1169.14" y="284.16" width="6.22" height="3.48"/>
<rect class="lf" x="1185.3" y="263.77" width="6.22" height="3.48"/>
<rect class="lf" x="1185.3" y="284.16" width="6.22" height="3.48"/>
<rect class="lf" x="1148" y="304.55" width="48.49" height="19.9"/>
<rect class="lf" x="1168.39" y="312.01" width="13.68" height="11.19"/>
<ellipse class="lf" cx="1171.81" cy="314.81" rx="2.39" ry="1.96"/>
<ellipse class="lf" cx="1178.65" cy="314.81" rx="2.39" ry="1.96"/>
<ellipse class="lf" cx="1171.81" cy="320.41" rx="2.39" ry="1.96"/>
<ellipse class="lf" cx="1178.65" cy="320.41" rx="2.39" ry="1.96"/>
<rect class="lf" x="1182.82" y="348.07" width="13.68" height="13.18"/>
<rect class="lf" x="1236.78" y="270.98" width="19.9" height="48.99"/>
<line class="lf" x1="1238.77" y1="270.98" x2="1238.77" y2="319.97"/>
<line class="lf" x1="1238.77" y1="287.97" x2="1256.68" y2="287.97"/>
<line class="lf" x1="1238.77" y1="302.98" x2="1256.68" y2="302.98"/>
<line class="lf" x1="1236.78" y1="272.97" x2="1256.68" y2="272.97"/>
<line class="lf" x1="1236.78" y1="317.98" x2="1256.68" y2="317.98"/>
<rect class="lf" x="1273.59" y="289.14" width="33.57" height="13.43"/>
<rect class="lf" x="1266.13" y="319.97" width="48.49" height="20.64"/>
<line class="lf" x1="1266.13" y1="338.62" x2="1314.62" y2="338.62"/>
<line class="lf" x1="1282.95" y1="319.97" x2="1282.95" y2="338.62"/>
<line class="lf" x1="1297.79" y1="319.97" x2="1297.79" y2="338.62"/>
<line class="lf" x1="1268.12" y1="319.97" x2="1268.12" y2="340.61"/>
<line class="lf" x1="1312.63" y1="319.97" x2="1312.63" y2="340.61"/>
<rect class="lf" x="1266.13" y="352.3" width="48.49" height="9.45"/>
<g transform="translate(1315.12 272.22) rotate(-40)"><path class="lf" d="M-9.33 -8.39L-7.46 5.6A9.33 9.33 0 0 0 7.46 5.6L9.33 -8.39Z"/></g>
<rect class="lf" x="1276.57" y="253.57" width="38.05" height="8.7"/>
<line class="std" x1="1238.77" y1="220" x2="1238.77" y2="479.88"/>
<line class="lf" x1="1232.55" y1="252.33" x2="1232.55" y2="479.88"/>
<line class="lf" x1="1271.6" y1="244.87" x2="1271.6" y2="479.88"/>
<rect class="lf" x="1243.74" y="364.74" width="42.28" height="19.4"/>
<rect class="lf" x="1243.74" y="364.74" width="8.7" height="18.15"/>
<rect class="lf" x="1301.44" y="364.74" width="26.86" height="14.42"/>
<rect class="lf" x="1309.65" y="379.16" width="10.44" height="5.47"/>
<rect class="lf" x="1286.02" y="411.99" width="44.76" height="13.18"/>
<rect class="lf" x="1236.78" y="428.9" width="45.51" height="12.43"/>
<line class="st" x1="1264.88" y1="430.14" x2="1264.88" y2="441.33"/>
<line class="st" x1="1269.86" y1="430.14" x2="1269.86" y2="441.33"/>
<line class="st" x1="1274.83" y1="430.14" x2="1274.83" y2="441.33"/>
<g transform="translate(1293.98 430.14) rotate(0)"><path class="lf" d="M-6.47 0A6.47 7.44 0 0 0 6.47 0Z"/></g>
<g transform="translate(1311.39 430.14) rotate(0)"><path class="lf" d="M-6.47 0A6.47 7.44 0 0 0 6.47 0Z"/></g>
<g transform="translate(1329.54 435.86) rotate(0)"><path class="lf" d="M-4.48 -6.47H4.48V1.49A4.48 4.97 0 0 1 -4.48 1.49Z"/></g>
<path class="dr" d="M1242.5 385.38L1259.91 385.38A17.41 17.41 0 0 1 1242.5 402.79"/>
<rect class="lf" x="267.15" y="492.33" width="42.28" height="39.79"/>
<rect class="lf" x="296.99" y="493.82" width="11.44" height="16.91"/>
<rect class="lf" x="296.99" y="513.72" width="11.44" height="16.91"/>
<rect class="lf" x="300.72" y="483.63" width="8.7" height="8.7"/>
<rect class="lf" x="250.98" y="460" width="21.14" height="8.7"/>
<rect class="lf" x="265.9" y="468.7" width="6.22" height="4.97"/>
<line class="lf" x1="249.74" y1="553.26" x2="310.67" y2="553.26"/>
<line class="lf" x1="249.74" y1="559.48" x2="310.67" y2="559.48"/>
<rect class="lf" x="422.58" y="469.95" width="18.15" height="46.01"/>
<rect class="lf" x="424.07" y="470.94" width="15.17" height="10.2"/>
<rect class="lf" x="467.34" y="544.55" width="11.19" height="4.97"/>
<rect class="lf" x="421.33" y="551.52" width="64.66" height="14.18"/>
<line class="lf" x1="453.66" y1="551.52" x2="453.66" y2="565.69"/>
<line class="lf" x1="459.88" y1="551.52" x2="459.88" y2="565.69"/>
<path class="dr" d="M489.72 467.46L469.83 467.46A19.9 19.9 0 0 0 489.72 487.36"/>
<path class="dr" d="M270.88 460L288.28 460A17.41 17.41 0 0 1 270.88 477.41"/>
<rect class="lf" x="696.18" y="507.25" width="30.84" height="17.91"/>
<rect class="lf" x="700.16" y="501.78" width="7.46" height="5.47"/>
<rect class="lf" x="700.16" y="525.16" width="7.46" height="5.47"/>
<rect class="lf" x="715.57" y="501.78" width="7.46" height="5.47"/>
<rect class="lf" x="715.57" y="525.16" width="7.46" height="5.47"/>
<rect class="lf" x="748.4" y="473.68" width="12.93" height="92.01"/>
<rect class="lf" x="749.4" y="502.28" width="10.69" height="11.19"/>
<rect class="lf" x="750.39" y="503.52" width="8.7" height="6.22"/>
<line class="st" x1="750.39" y1="515.95" x2="750.39" y2="520.93"/>
<line class="st" x1="752.38" y1="515.95" x2="752.38" y2="520.93"/>
<line class="st" x1="754.37" y1="515.95" x2="754.37" y2="520.93"/>
<line class="st" x1="756.36" y1="515.95" x2="756.36" y2="520.93"/>
<line class="st" x1="758.35" y1="515.95" x2="758.35" y2="520.93"/>
<rect class="lf" x="749.4" y="529.63" width="10.69" height="12.43"/>
<ellipse class="lf" cx="752.07" cy="532.74" rx="1.87" ry="2.18"/>
<ellipse class="lf" cx="757.42" cy="532.74" rx="1.87" ry="2.18"/>
<ellipse class="lf" cx="752.07" cy="538.96" rx="1.87" ry="2.18"/>
<ellipse class="lf" cx="757.42" cy="538.96" rx="1.87" ry="2.18"/>
<text class="ts m" transform="translate(754.62 481.88) scale(0.85 1)">×</text>
<rect class="lf" x="895.42" y="468.7" width="39.79" height="8.7"/>
<rect class="lf" x="895.42" y="477.41" width="39.79" height="13.68"/>
<ellipse class="lf" cx="906.11" cy="485.61" rx="6.22" ry="4.23"/>
<ellipse class="lf" cx="924.76" cy="485.61" rx="6.22" ry="4.23"/>
<ellipse class="lf" cx="903.13" cy="527.15" rx="18.9" ry="9.95"/>
<ellipse class="lf" cx="903.13" cy="527.15" rx="12.93" ry="6.22"/>
<g transform="translate(904.87 555.74) rotate(-90)"><path class="lf" d="M-4.48 -6.47H4.48V1.49A4.48 4.97 0 0 1 -4.48 1.49Z"/></g>
<rect class="tw" x="892.43" y="543.31" width="5.47" height="23.63"/>
<rect class="lf" x="1138.64" y="676.36" width="26.11" height="12.43"/>
<rect class="lf" x="1144.85" y="670.14" width="11.19" height="6.22"/>
<rect class="lf" x="1167.98" y="676.36" width="39.79" height="12.43"/>
<rect class="lf" x="1173.45" y="608.72" width="10.44" height="17.41"/>
<rect class="lf" x="1188.37" y="612.94" width="22.38" height="11.69"/>
<line class="st" x1="1197.08" y1="614.19" x2="1197.08" y2="624.13"/>
<line class="st" x1="1199.56" y1="614.19" x2="1199.56" y2="624.13"/>
<line class="st" x1="1202.05" y1="614.19" x2="1202.05" y2="624.13"/>
<line class="st" x1="1204.54" y1="614.19" x2="1204.54" y2="624.13"/>
<line class="st" x1="1207.02" y1="614.19" x2="1207.02" y2="624.13"/>
<line class="std" x1="1184.64" y1="569.42" x2="1184.64" y2="719.88"/>
<path class="dr" d="M1183.9 589.32L1170.22 589.32A13.68 13.68 0 0 1 1183.9 575.64"/>
<rect class="lf" x="1243.74" y="547.04" width="42.28" height="19.9"/>
<rect class="lf" x="1243.74" y="548.28" width="8.7" height="17.41"/>
<rect class="lf" x="1313.38" y="552.01" width="27.36" height="15.42"/>
<rect class="lf" x="1322.08" y="545.8" width="9.95" height="6.22"/>
<rect class="lf" x="1286.02" y="482.38" width="33.57" height="14.92" rx="2.49"/>
<rect class="lf" x="1292.99" y="486.86" width="21.14" height="5.97" rx="1.24"/>
<line class="lf" x1="1268.61" y1="468.7" x2="1268.61" y2="502.28"/>
<line class="lf" x1="1284.28" y1="502.28" x2="1341.98" y2="502.28"/>
<rect class="lf" x="1243.74" y="572.41" width="42.28" height="19.4"/>
<rect class="lf" x="1243.74" y="573.65" width="8.7" height="16.91"/>
<rect class="lf" x="1313.38" y="572.41" width="27.36" height="15.67"/>
<rect class="lf" x="1322.08" y="588.07" width="9.95" height="6.22"/>
<rect class="lf" x="1243.74" y="620.4" width="42.28" height="13.68"/>
<g transform="translate(1251.21 668.4) rotate(180)"><path class="lf" d="M-4.48 -6.47H4.48V1.49A4.48 4.97 0 0 1 -4.48 1.49Z"/></g>
<g transform="translate(1266.87 671.38) rotate(180)"><path class="lf" d="M-5.72 0A5.72 6.58 0 0 0 5.72 0Z"/></g>
<g transform="translate(1290.5 668.4) rotate(0)"><path class="lf" d="M-4.48 -6.47H4.48V1.49A4.48 4.97 0 0 1 -4.48 1.49Z"/></g>
<rect class="lf" x="1334.02" y="641.54" width="14.92" height="36.06" rx="2.49"/>
<rect class="lf" x="1338.99" y="648.51" width="4.97" height="23.63" rx="1.24"/>
<g transform="translate(1317.61 642.04) rotate(0)"><path class="lf" d="M-5.72 0A5.72 6.58 0 0 0 5.72 0Z"/></g>
<line class="std" x1="1238.77" y1="599.27" x2="1238.77" y2="719.88"/>
<rect class="lf" x="1298.46" y="699.95" width="39.79" height="44.76"/>
<rect class="lf" x="1299.95" y="732.28" width="16.91" height="11.44"/>
<rect class="lf" x="1319.84" y="732.28" width="16.91" height="11.44"/>
<rect class="lf" x="1287.27" y="738.49" width="11.19" height="6.22"/>
<rect class="lf" x="1338.25" y="738.49" width="11.19" height="6.22"/>
<rect class="lf" x="1243.74" y="732.28" width="33.57" height="12.93"/>
<rect class="lf" x="1293.48" y="748.44" width="48.49" height="8.7"/>
<rect class="lf" x="1284.28" y="768.34" width="19.9" height="47.25"/>
<line class="lf" x1="1286.27" y1="768.34" x2="1286.27" y2="815.59"/>
<line class="lf" x1="1286.27" y1="791.96" x2="1304.18" y2="791.96"/>
<line class="lf" x1="1284.28" y1="770.33" x2="1304.18" y2="770.33"/>
<line class="lf" x1="1284.28" y1="813.6" x2="1304.18" y2="813.6"/>
<rect class="lf" x="1310.14" y="775.8" width="13.18" height="33.08"/>
<rect class="lf" x="1330.29" y="768.34" width="20.39" height="47.25"/>
<line class="lf" x1="1348.69" y1="768.34" x2="1348.69" y2="815.59"/>
<line class="lf" x1="1330.29" y1="791.96" x2="1348.69" y2="791.96"/>
<line class="lf" x1="1330.29" y1="770.33" x2="1350.68" y2="770.33"/>
<line class="lf" x1="1330.29" y1="813.6" x2="1350.68" y2="813.6"/>
<rect class="lf" x="1241.26" y="789.48" width="16.16" height="46.01"/>
<rect class="lf" x="1235.79" y="793.66" width="5.47" height="6.96"/>
<rect class="lf" x="1257.42" y="793.66" width="5.47" height="6.96"/>
<rect class="lf" x="1235.79" y="809" width="5.47" height="6.96"/>
<rect class="lf" x="1257.42" y="809" width="5.47" height="6.96"/>
<rect class="lf" x="1235.79" y="824.33" width="5.47" height="6.96"/>
<rect class="lf" x="1257.42" y="824.33" width="5.47" height="6.96"/>
<line class="std" x1="1238.77" y1="690" x2="1238.77" y2="949.88"/>
<line class="lf" x1="1232.55" y1="690" x2="1232.55" y2="839.21"/>
<line class="lf" x1="1271.6" y1="690" x2="1271.6" y2="839.21"/>
<rect class="lf" x="1138.64" y="764.61" width="46.01" height="13.68"/>
<rect class="lf" x="1144.85" y="765.85" width="12.43" height="11.19"/>
<ellipse class="lf" cx="1147.96" cy="768.65" rx="2.18" ry="1.96"/>
<ellipse class="lf" cx="1154.18" cy="768.65" rx="2.18" ry="1.96"/>
<ellipse class="lf" cx="1147.96" cy="774.24" rx="2.18" ry="1.96"/>
<ellipse class="lf" cx="1154.18" cy="774.24" rx="2.18" ry="1.96"/>
<rect class="lf" x="1164.75" y="766.6" width="12.43" height="10.44"/>
<rect class="lf" x="1165.74" y="767.59" width="10.44" height="8.46"/>
<line class="st" x1="1166.49" y1="767.59" x2="1166.49" y2="776.05"/>
<line class="st" x1="1168.73" y1="767.59" x2="1168.73" y2="776.05"/>
<line class="st" x1="1170.97" y1="767.59" x2="1170.97" y2="776.05"/>
<line class="st" x1="1173.2" y1="767.59" x2="1173.2" y2="776.05"/>
<rect class="lf" x="1161.02" y="824.29" width="13.68" height="13.68"/>
<text class="ts m" transform="translate(1167.73 832.25) scale(0.85 1)">×</text>
<rect class="lf" x="1163.5" y="745.95" width="43.52" height="16.16"/>
<line class="lf" x1="1197.08" y1="745.95" x2="1197.08" y2="762.12"/>
<rect class="lf" x="1138.64" y="705.42" width="26.11" height="1.99"/>
<rect class="lf" x="1146.1" y="707.41" width="9.95" height="6.22"/>
<line class="std" x1="1184.64" y1="690" x2="1184.64" y2="949.88"/>
<text class="rb m" transform="translate(280.1 266) scale(0.8 1)">Küche</text>
<text class="ra m" transform="translate(280.1 275.3) scale(0.8 1)">8,3 m<tspan class="sup" dy="-2.6">2</tspan><tspan dy="2.6">​</tspan></text>
<text class="rb m" transform="translate(336.8 267.3) scale(0.8 1)">Wo Ess</text>
<text class="ra m" transform="translate(336.8 276.6) scale(0.8 1)">26,1 m<tspan class="sup" dy="-2.6">2</tspan><tspan dy="2.6">​</tspan></text>
<text class="rb m" transform="translate(444.3 267.3) scale(0.8 1)">Wo Ess</text>
<text class="ra m" transform="translate(444.3 276.6) scale(0.8 1)">22,5 m<tspan class="sup" dy="-2.6">2</tspan><tspan dy="2.6">​</tspan></text>
<text class="rb m" transform="translate(531.3 267.3) scale(0.8 1)">Küche</text>
<text class="ra m" transform="translate(531.3 276.6) scale(0.8 1)">6,7 m<tspan class="sup" dy="-2.6">2</tspan><tspan dy="2.6">​</tspan></text>
<text class="rb m" transform="translate(280.3 336.9) scale(0.8 1)">Zimmer</text>
<text class="ra m" transform="translate(280.3 346.2) scale(0.8 1)">11,9 m<tspan class="sup" dy="-2.6">2</tspan><tspan dy="2.6">​</tspan></text>
<text class="rb m" transform="translate(529.6 333.2) scale(0.8 1)">Abst</text>
<text class="ra m" transform="translate(529.6 342.5) scale(0.8 1)">2,5 m<tspan class="sup" dy="-2.6">2</tspan><tspan dy="2.6">​</tspan></text>
<text class="rb m" transform="translate(338.8 403.6) scale(0.8 1)">Diele</text>
<text class="ra m" transform="translate(338.8 412.9) scale(0.8 1)">10,6 m<tspan class="sup" dy="-2.6">2</tspan><tspan dy="2.6">​</tspan></text>
<text class="rb m" transform="translate(398.3 403.6) scale(0.8 1)">Abst</text>
<text class="ra m" transform="translate(398.3 412.9) scale(0.8 1)">4,7 m<tspan class="sup" dy="-2.6">2</tspan><tspan dy="2.6">​</tspan></text>
<text class="rb m" transform="translate(433.1 403.6) scale(0.8 1)">Diele</text>
<text class="ra m" transform="translate(433.1 412.9) scale(0.8 1)">9,6 m<tspan class="sup" dy="-2.6">2</tspan><tspan dy="2.6">​</tspan></text>
<text class="rb m" transform="translate(464.4 403.6) scale(0.8 1)">Bad</text>
<text class="ra m" transform="translate(464.4 412.9) scale(0.8 1)">5,9 m<tspan class="sup" dy="-2.6">2</tspan><tspan dy="2.6">​</tspan></text>
<text class="rb m" transform="translate(531.6 403.6) scale(0.8 1)">Schlafen</text>
<text class="ra m" transform="translate(531.6 412.9) scale(0.8 1)">14,1 m<tspan class="sup" dy="-2.6">2</tspan><tspan dy="2.6">​</tspan></text>
<text class="rb m" transform="translate(278.6 408.6) scale(0.8 1)">Bad</text>
<text class="ra m" transform="translate(278.6 417.9) scale(0.8 1)">6,8 m<tspan class="sup" dy="-2.6">2</tspan><tspan dy="2.6">​</tspan></text>
<text class="rb m" transform="translate(599.2 267.3) scale(0.8 1)">Zimmer</text>
<text class="ra m" transform="translate(599.2 276.6) scale(0.8 1)">12,0 m<tspan class="sup" dy="-2.6">2</tspan><tspan dy="2.6">​</tspan></text>
<text class="rb m" transform="translate(651.4 267.3) scale(0.8 1)">Zimmer</text>
<text class="ra m" transform="translate(651.4 276.6) scale(0.8 1)">12,0 m<tspan class="sup" dy="-2.6">2</tspan><tspan dy="2.6">​</tspan></text>
<text class="rb m" transform="translate(745.2 268) scale(0.8 1)">Balkon</text>
<text class="ra m" transform="translate(745.2 277.3) scale(0.8 1)">9,9 m<tspan class="sup" dy="-2.6">2</tspan><tspan dy="2.6">​</tspan></text>
<text class="rb m" transform="translate(603.4 345.1) scale(0.8 1)">Flur</text>
<text class="ra m" transform="translate(603.4 354.4) scale(0.8 1)">8,7 m<tspan class="sup" dy="-2.6">2</tspan><tspan dy="2.6">​</tspan></text>
<text class="rb m" transform="translate(591.7 403.6) scale(0.8 1)">Zimmer</text>
<text class="ra m" transform="translate(591.7 412.9) scale(0.8 1)">10,3 m<tspan class="sup" dy="-2.6">2</tspan><tspan dy="2.6">​</tspan></text>
<text class="rb m" transform="translate(653.9 403.6) scale(0.8 1)">Bad</text>
<text class="ra m" transform="translate(653.9 412.9) scale(0.8 1)">10,3 m<tspan class="sup" dy="-2.6">2</tspan><tspan dy="2.6">​</tspan></text>
<text class="rb m" transform="translate(751.4 366.3) scale(0.8 1)">Wo Ess</text>
<text class="ra m" transform="translate(751.4 375.6) scale(0.8 1)">37,8 m<tspan class="sup" dy="-2.6">2</tspan><tspan dy="2.6">​</tspan></text>
<text class="rb m" transform="translate(702.9 425.2) scale(0.8 1)">WC</text>
<text class="ra m" transform="translate(702.9 434.5) scale(0.8 1)">2,5 m<tspan class="sup" dy="-2.6">2</tspan><tspan dy="2.6">​</tspan></text>
<text class="rb m" transform="translate(736.5 425.2) scale(0.8 1)">Diele</text>
<text class="ra m" transform="translate(736.5 434.5) scale(0.8 1)">15,1 m<tspan class="sup" dy="-2.6">2</tspan><tspan dy="2.6">​</tspan></text>
<text class="rb m" transform="translate(901.9 353.1) scale(0.8 1)">Schlafen</text>
<text class="ra m" transform="translate(901.9 362.4) scale(0.8 1)">14,6 m<tspan class="sup" dy="-2.6">2</tspan><tspan dy="2.6">​</tspan></text>
<text class="rb m" transform="translate(902.7 425.2) scale(0.8 1)">Ankleide</text>
<text class="ra m" transform="translate(902.7 434.5) scale(0.8 1)">9,5 m<tspan class="sup" dy="-2.6">2</tspan><tspan dy="2.6">​</tspan></text>
<text class="rb m" transform="translate(1011 228.5) scale(0.8 1)">Balkon</text>
<text class="ra m" transform="translate(1011 237.8) scale(0.8 1)">3,0 m<tspan class="sup" dy="-2.6">2</tspan><tspan dy="2.6">​</tspan></text>
<text class="rb m" transform="translate(969 291.4) scale(0.8 1)">Schlafen</text>
<text class="ra m" transform="translate(969 300.7) scale(0.8 1)">14,0 m<tspan class="sup" dy="-2.6">2</tspan><tspan dy="2.6">​</tspan></text>
<text class="rb m" transform="translate(1033 291.4) scale(0.8 1)">Zimmer</text>
<text class="ra m" transform="translate(1033 300.7) scale(0.8 1)">8,8 m<tspan class="sup" dy="-2.6">2</tspan><tspan dy="2.6">​</tspan></text>
<text class="rb m" transform="translate(1109.4 291.4) scale(0.8 1)">Zimmer</text>
<text class="ra m" transform="translate(1109.4 300.7) scale(0.8 1)">8,5 m<tspan class="sup" dy="-2.6">2</tspan><tspan dy="2.6">​</tspan></text>
<text class="rb m" transform="translate(1020.5 338.7) scale(0.8 1)">Flur</text>
<text class="ra m" transform="translate(1020.5 348) scale(0.8 1)">5,6 m<tspan class="sup" dy="-2.6">2</tspan><tspan dy="2.6">​</tspan></text>
<text class="rb m" transform="translate(1087.2 334.9) scale(0.8 1)">Abst</text>
<text class="ra m" transform="translate(1087.2 344.2) scale(0.8 1)">2,0 m<tspan class="sup" dy="-2.6">2</tspan><tspan dy="2.6">​</tspan></text>
<text class="rb m" transform="translate(1118.8 334.9) scale(0.8 1)">Flur</text>
<text class="ra m" transform="translate(1118.8 344.2) scale(0.8 1)">2,3 m<tspan class="sup" dy="-2.6">2</tspan><tspan dy="2.6">​</tspan></text>
<text class="rb m" transform="translate(1205.1 334.9) scale(0.8 1)">Wo Ko Ess</text>
<text class="ra m" transform="translate(1205.1 344.2) scale(0.8 1)">43,5 m<tspan class="sup" dy="-2.6">2</tspan><tspan dy="2.6">​</tspan></text>
<text class="rb m" transform="translate(965.1 404.1) scale(0.8 1)">Zimmer</text>
<text class="ra m" transform="translate(965.1 413.4) scale(0.8 1)">13,1 m<tspan class="sup" dy="-2.6">2</tspan><tspan dy="2.6">​</tspan></text>
<text class="rb m" transform="translate(1100.6 401.1) scale(0.8 1)">Schlafen</text>
<text class="ra m" transform="translate(1100.6 410.4) scale(0.8 1)">12,8 m<tspan class="sup" dy="-2.6">2</tspan><tspan dy="2.6">​</tspan></text>
<text class="rb m" transform="translate(1161.8 384.2) scale(0.8 1)">Bad</text>
<text class="ra m" transform="translate(1161.8 393.5) scale(0.8 1)">3,9 m<tspan class="sup" dy="-2.6">2</tspan><tspan dy="2.6">​</tspan></text>
<text class="rb m" transform="translate(1213.3 384.7) scale(0.8 1)">Diele</text>
<text class="ra m" transform="translate(1213.3 394) scale(0.8 1)">12,4 m<tspan class="sup" dy="-2.6">2</tspan><tspan dy="2.6">​</tspan></text>
<text class="rb m" transform="translate(1035 425.2) scale(0.8 1)">Bad</text>
<text class="ra m" transform="translate(1035 434.5) scale(0.8 1)">7,9 m<tspan class="sup" dy="-2.6">2</tspan><tspan dy="2.6">​</tspan></text>
<text class="rb m" transform="translate(1163.1 425.2) scale(0.8 1)">Ankleide</text>
<text class="ra m" transform="translate(1163.1 434.5) scale(0.8 1)">5,9 m<tspan class="sup" dy="-2.6">2</tspan><tspan dy="2.6">​</tspan></text>
<text class="rb m" transform="translate(1354.5 323.2) scale(0.8 1)">Balkon</text>
<text class="ra m" transform="translate(1354.5 332.5) scale(0.8 1)">5,8 m<tspan class="sup" dy="-2.6">2</tspan><tspan dy="2.6">​</tspan></text>
<text class="rb m" transform="translate(1309.2 397.9) scale(0.8 1)">Zimmer</text>
<text class="ra m" transform="translate(1309.2 407.2) scale(0.8 1)">12,2 m<tspan class="sup" dy="-2.6">2</tspan><tspan dy="2.6">​</tspan></text>
<text class="rb m" transform="translate(1317.9 465) scale(0.8 1)">Bad</text>
<text class="ra m" transform="translate(1317.9 474.3) scale(0.8 1)">8,4 m<tspan class="sup" dy="-2.6">2</tspan><tspan dy="2.6">​</tspan></text>
<text class="rb m" transform="translate(282.8 509.3) scale(0.8 1)">Schlafen</text>
<text class="ra m" transform="translate(282.8 518.6) scale(0.8 1)">16,0 m<tspan class="sup" dy="-2.6">2</tspan><tspan dy="2.6">​</tspan></text>
<text class="rb m" transform="translate(468.2 509.3) scale(0.8 1)">Zimmer</text>
<text class="ra m" transform="translate(468.2 518.6) scale(0.8 1)">14,2 m<tspan class="sup" dy="-2.6">2</tspan><tspan dy="2.6">​</tspan></text>
<text class="rb m" transform="translate(277.1 585.6) scale(0.8 1)">Abst</text>
<text class="ra m" transform="translate(277.1 594.9) scale(0.8 1)">5,3 m<tspan class="sup" dy="-2.6">2</tspan><tspan dy="2.6">​</tspan></text>
<text class="rb m" transform="translate(452 585.6) scale(0.8 1)">Abst</text>
<text class="ra m" transform="translate(452 594.9) scale(0.8 1)">5,3 m<tspan class="sup" dy="-2.6">2</tspan><tspan dy="2.6">​</tspan></text>
<text class="rb m" transform="translate(275.9 612.2) scale(0.8 1)">Bad</text>
<text class="ra m" transform="translate(275.9 621.5) scale(0.8 1)">6,8 m<tspan class="sup" dy="-2.6">2</tspan><tspan dy="2.6">​</tspan></text>
<text class="rb m" transform="translate(450.7 612.2) scale(0.8 1)">Bad</text>
<text class="ra m" transform="translate(450.7 621.5) scale(0.8 1)">6,8 m<tspan class="sup" dy="-2.6">2</tspan><tspan dy="2.6">​</tspan></text>
<text class="rb m" transform="translate(351.7 635.4) scale(0.8 1)">Flur</text>
<text class="ra m" transform="translate(351.7 644.7) scale(0.8 1)">7,7 m<tspan class="sup" dy="-2.6">2</tspan><tspan dy="2.6">​</tspan></text>
<text class="rb m" transform="translate(385.3 635.4) scale(0.8 1)">Flur</text>
<text class="ra m" transform="translate(385.3 644.7) scale(0.8 1)">7,7 m<tspan class="sup" dy="-2.6">2</tspan><tspan dy="2.6">​</tspan></text>
<text class="rb m" transform="translate(282.8 664.7) scale(0.8 1)">Schlafen</text>
<text class="ra m" transform="translate(282.8 674) scale(0.8 1)">13,5 m<tspan class="sup" dy="-2.6">2</tspan><tspan dy="2.6">​</tspan></text>
<text class="rb m" transform="translate(454.2 671.4) scale(0.8 1)">Schlafen</text>
<text class="ra m" transform="translate(454.2 680.7) scale(0.8 1)">13,5 m<tspan class="sup" dy="-2.6">2</tspan><tspan dy="2.6">​</tspan></text>
<text class="rb m" transform="translate(725.3 484.1) scale(0.8 1)">Küche</text>
<text class="ra m" transform="translate(725.3 493.4) scale(0.8 1)">12,9 m<tspan class="sup" dy="-2.6">2</tspan><tspan dy="2.6">​</tspan></text>
<text class="rb m" transform="translate(734 585.6) scale(0.8 1)">Abst</text>
<text class="ra m" transform="translate(734 594.9) scale(0.8 1)">5,2 m<tspan class="sup" dy="-2.6">2</tspan><tspan dy="2.6">​</tspan></text>
<text class="rb m" transform="translate(733.3 612.2) scale(0.8 1)">Bad</text>
<text class="ra m" transform="translate(733.3 621.5) scale(0.8 1)">6,7 m<tspan class="sup" dy="-2.6">2</tspan><tspan dy="2.6">​</tspan></text>
<text class="rb m" transform="translate(797 635.4) scale(0.8 1)">Flur</text>
<text class="ra m" transform="translate(797 644.7) scale(0.8 1)">7,7 m<tspan class="sup" dy="-2.6">2</tspan><tspan dy="2.6">​</tspan></text>
<text class="rb m" transform="translate(827.3 612.2) scale(0.8 1)">Flur</text>
<text class="ra m" transform="translate(827.3 621.5) scale(0.8 1)">7,7 m<tspan class="sup" dy="-2.6">2</tspan><tspan dy="2.6">​</tspan></text>
<text class="rb m" transform="translate(736.5 671.4) scale(0.8 1)">Schlafen</text>
<text class="ra m" transform="translate(736.5 680.7) scale(0.8 1)">13,2 m<tspan class="sup" dy="-2.6">2</tspan><tspan dy="2.6">​</tspan></text>
<text class="rb m" transform="translate(894 585.6) scale(0.8 1)">Abst</text>
<text class="ra m" transform="translate(894 594.9) scale(0.8 1)">5,2 m<tspan class="sup" dy="-2.6">2</tspan><tspan dy="2.6">​</tspan></text>
<text class="rb m" transform="translate(893.2 612.2) scale(0.8 1)">Bad</text>
<text class="ra m" transform="translate(893.2 621.5) scale(0.8 1)">6,7 m<tspan class="sup" dy="-2.6">2</tspan><tspan dy="2.6">​</tspan></text>
<text class="rb m" transform="translate(896.2 671.4) scale(0.8 1)">Schlafen</text>
<text class="ra m" transform="translate(896.2 680.7) scale(0.8 1)">13,2 m<tspan class="sup" dy="-2.6">2</tspan><tspan dy="2.6">​</tspan></text>
<text class="rb m" transform="translate(900 499.8) scale(0.8 1)">Bad</text>
<text class="ra m" transform="translate(900 509.1) scale(0.8 1)">9,6 m<tspan class="sup" dy="-2.6">2</tspan><tspan dy="2.6">​</tspan></text>
<text class="rb m" transform="translate(915.6 557.5) scale(0.8 1)">WC</text>
<text class="ra m" transform="translate(915.6 566.8) scale(0.8 1)">1,7 m<tspan class="sup" dy="-2.6">2</tspan><tspan dy="2.6">​</tspan></text>
<text class="rb m" transform="translate(1159.1 556.3) scale(0.8 1)">Treppendiele</text>
<text class="ra m" transform="translate(1159.1 565.6) scale(0.8 1)">3,6 m<tspan class="sup" dy="-2.6">2</tspan><tspan dy="2.6">​</tspan></text>
<text class="rb m" transform="translate(1162.8 585.6) scale(0.8 1)">Abst</text>
<text class="ra m" transform="translate(1162.8 594.9) scale(0.8 1)">3,1 m<tspan class="sup" dy="-2.6">2</tspan><tspan dy="2.6">​</tspan></text>
<text class="rb m" transform="translate(1203.4 585.6) scale(0.8 1)">Flur</text>
<text class="ra m" transform="translate(1203.4 594.9) scale(0.8 1)">11,9 m<tspan class="sup" dy="-2.6">2</tspan><tspan dy="2.6">​</tspan></text>
<text class="rb m" transform="translate(1164.8 639.1) scale(0.8 1)">Zimmer</text>
<text class="ra m" transform="translate(1164.8 648.4) scale(0.8 1)">10,7 m<tspan class="sup" dy="-2.6">2</tspan><tspan dy="2.6">​</tspan></text>
<text class="rb m" transform="translate(1323.4 521.7) scale(0.8 1)">Zimmer</text>
<text class="ra m" transform="translate(1323.4 531) scale(0.8 1)">16,1 m<tspan class="sup" dy="-2.6">2</tspan><tspan dy="2.6">​</tspan></text>
<text class="rb m" transform="translate(1321.6 604.3) scale(0.8 1)">Zimmer</text>
<text class="ra m" transform="translate(1321.6 613.6) scale(0.8 1)">13,4 m<tspan class="sup" dy="-2.6">2</tspan><tspan dy="2.6">​</tspan></text>
<text class="rb m" transform="translate(1251.2 651) scale(0.8 1)">Bad</text>
<text class="ra m" transform="translate(1251.2 660.3) scale(0.8 1)">3,7 m<tspan class="sup" dy="-2.6">2</tspan><tspan dy="2.6">​</tspan></text>
<text class="rb m" transform="translate(1316.4 661) scale(0.8 1)">Bad</text>
<text class="ra m" transform="translate(1316.4 670.3) scale(0.8 1)">4,9 m<tspan class="sup" dy="-2.6">2</tspan><tspan dy="2.6">​</tspan></text>
<text class="rb m" transform="translate(295.3 856.2) scale(0.8 1)">Balkon</text>
<text class="ra m" transform="translate(295.3 865.5) scale(0.8 1)">2,6 m<tspan class="sup" dy="-2.6">2</tspan><tspan dy="2.6">​</tspan></text>
<text class="rb m" transform="translate(517.9 772.8) scale(0.8 1)">Balkon</text>
<text class="ra m" transform="translate(517.9 782.1) scale(0.8 1)">3,0 m<tspan class="sup" dy="-2.6">2</tspan><tspan dy="2.6">​</tspan></text>
<text class="rb m" transform="translate(672.6 762.1) scale(0.8 1)">Balkon</text>
<text class="ra m" transform="translate(672.6 771.4) scale(0.8 1)">2,9 m<tspan class="sup" dy="-2.6">2</tspan><tspan dy="2.6">​</tspan></text>
<text class="rb m" transform="translate(956.4 795.2) scale(0.8 1)">Balkon</text>
<text class="ra m" transform="translate(956.4 804.5) scale(0.8 1)">2,9 m<tspan class="sup" dy="-2.6">2</tspan><tspan dy="2.6">​</tspan></text>
<text class="rb m" transform="translate(1113.8 792) scale(0.8 1)">Balkon</text>
<text class="ra m" transform="translate(1113.8 801.3) scale(0.8 1)">3,0 m<tspan class="sup" dy="-2.6">2</tspan><tspan dy="2.6">​</tspan></text>
<text class="rb m" transform="translate(1164.8 722.3) scale(0.8 1)">Zimmer</text>
<text class="ra m" transform="translate(1164.8 731.6) scale(0.8 1)">10,0 m<tspan class="sup" dy="-2.6">2</tspan><tspan dy="2.6">​</tspan></text>
<text class="rb m" transform="translate(1163.6 798.7) scale(0.8 1)">Küche</text>
<text class="ra m" transform="translate(1163.6 808) scale(0.8 1)">10,4 m<tspan class="sup" dy="-2.6">2</tspan><tspan dy="2.6">​</tspan></text>
<text class="rb m" transform="translate(1317.9 717.4) scale(0.8 1)">Schlafen</text>
<text class="ra m" transform="translate(1317.9 726.7) scale(0.8 1)">14,7 m<tspan class="sup" dy="-2.6">2</tspan><tspan dy="2.6">​</tspan></text>
<text class="rb m" transform="translate(1255 771.3) scale(0.8 1)">Wo Ess</text>
<text class="ra m" transform="translate(1255 780.6) scale(0.8 1)">27,3 m<tspan class="sup" dy="-2.6">2</tspan><tspan dy="2.6">​</tspan></text>
<text class="rb m" transform="translate(1254.2 856.2) scale(0.8 1)">Balkon</text>
<text class="ra m" transform="translate(1254.2 865.5) scale(0.8 1)">3,3 m<tspan class="sup" dy="-2.6">2</tspan><tspan dy="2.6">​</tspan></text>
<text class="rb m" transform="translate(365.7 213.6) scale(0.8 1)">Balkon</text>
<text class="ra m" transform="translate(365.7 222.9) scale(0.8 1)">3,0 m<tspan class="sup" dy="-2.6">2</tspan><tspan dy="2.6">​</tspan></text>
<text class="rb m" transform="translate(467.4 213.6) scale(0.8 1)">Balkon</text>
<text class="ra m" transform="translate(467.4 222.9) scale(0.8 1)">3,0 m<tspan class="sup" dy="-2.6">2</tspan><tspan dy="2.6">​</tspan></text>
<text class="rb m" transform="translate(624.8 213.6) scale(0.8 1)">Balkon</text>
<text class="ra m" transform="translate(624.8 222.9) scale(0.8 1)">3,0 m<tspan class="sup" dy="-2.6">2</tspan><tspan dy="2.6">​</tspan></text>
<text class="rb m" transform="translate(325.6 784) scale(0.8 1)">Wo Ko Ess</text>
<text class="ra m" transform="translate(331.3 793.3) scale(0.8 1)">29,2 m<tspan class="sup" dy="-2.6">2</tspan><tspan dy="2.6">​</tspan></text>
<text class="rb m" transform="translate(418.4 784) scale(0.8 1)">Wo Ko Ess</text>
<text class="ra m" transform="translate(423.9 793.3) scale(0.8 1)">29,2 m<tspan class="sup" dy="-2.6">2</tspan><tspan dy="2.6">​</tspan></text>
<text class="rb m" transform="translate(770.1 784) scale(0.8 1)">Wo Ko Ess</text>
<text class="ra m" transform="translate(775.8 793.3) scale(0.8 1)">28,7 m<tspan class="sup" dy="-2.6">2</tspan><tspan dy="2.6">​</tspan></text>
<text class="rb m" transform="translate(866.6 777.6) scale(0.8 1)">Wo Ko Ess</text>
<text class="ra m" transform="translate(872.6 786.9) scale(0.8 1)">28,7 m<tspan class="sup" dy="-2.6">2</tspan><tspan dy="2.6">​</tspan></text>
<text class="big m" transform="translate(905.7 391.8) scale(0.9 1)">C5-01</text>
<text class="ts m" transform="translate(347.5 484.4) scale(0.85 1)">17 Stg</text>
<text class="ts m" transform="translate(347.5 491.2) scale(0.85 1)">16,9 / 27</text>
<text class="ts m" transform="translate(800 484.4) scale(0.85 1)">17 Stg</text>
<text class="ts m" transform="translate(800 491.2) scale(0.85 1)">16,9 / 27</text>
<text class="ts m" transform="translate(1174 484.4) scale(0.85 1)">17 Stg</text>
<text class="ts m" transform="translate(1174 491.2) scale(0.85 1)">16,9 / 27</text>
<text class="ts2 m" transform="translate(345 557) scale(0.85 1)">1. OG +2,875</text>
<text class="ts2 m" transform="translate(795 555.8) scale(0.85 1)">1. OG +2,875</text>
<text class="ts2 m" transform="translate(1218 486.5) scale(0.85 1)">1. OG +2,875</text>
<text class="ts m" transform="translate(356 565) scale(0.85 1)">dsT</text>
<text class="ts m" transform="translate(386.6 565) scale(0.85 1)">dsT</text>
<text class="ts m" transform="translate(800.5 565) scale(0.85 1)">dsT</text>
<text class="ts m" transform="translate(831.5 565) scale(0.85 1)">dsT</text>
<text class="ts m" transform="translate(1222 478) scale(0.85 1)">dsT</text>
<text class="ts m" transform="translate(1226 565.5) scale(0.85 1)">dsT</text>
<text class="ts m" transform="translate(849 474.5) scale(0.85 1)">dsT</text>
<text class="ts m" transform="translate(1151.1 466.8) scale(0.85 1)">RWA 1,2 m<tspan class="sup" dy="-2.6">2</tspan><tspan dy="2.6">​</tspan></text>
<line class="dlg" x1="249" y1="451.5" x2="1339.2" y2="451.5"/>
<circle class="tk" cx="249" cy="451.5" r="0.85"/>
<path class="tkl" d="M246.9 451.5H251.1M249 449.4V453.6"/>
<circle class="tk" cx="316.34" cy="451.5" r="0.85"/>
<path class="tkl" d="M314.24 451.5H318.44M316.34 449.4V453.6"/>
<circle class="tk" cx="319.1" cy="451.5" r="0.85"/>
<path class="tkl" d="M317 451.5H321.2M319.1 449.4V453.6"/>
<circle class="tk" cx="374.41" cy="451.5" r="0.85"/>
<path class="tkl" d="M372.31 451.5H376.51M374.41 449.4V453.6"/>
<circle class="tk" cx="377.17" cy="451.5" r="0.85"/>
<path class="tkl" d="M375.07 451.5H379.27M377.17 449.4V453.6"/>
<circle class="tk" cx="415.04" cy="451.5" r="0.85"/>
<path class="tkl" d="M412.94 451.5H417.14M415.04 449.4V453.6"/>
<circle class="tk" cx="420.34" cy="451.5" r="0.85"/>
<path class="tkl" d="M418.24 451.5H422.44M420.34 449.4V453.6"/>
<circle class="tk" cx="450.04" cy="451.5" r="0.85"/>
<path class="tkl" d="M447.94 451.5H452.14M450.04 449.4V453.6"/>
<circle class="tk" cx="452.8" cy="451.5" r="0.85"/>
<path class="tkl" d="M450.7 451.5H454.9M452.8 449.4V453.6"/>
<circle class="tk" cx="492.54" cy="451.5" r="0.85"/>
<path class="tkl" d="M490.44 451.5H494.64M492.54 449.4V453.6"/>
<circle class="tk" cx="495.3" cy="451.5" r="0.85"/>
<path class="tkl" d="M493.2 451.5H497.4M495.3 449.4V453.6"/>
<circle class="tk" cx="557.68" cy="451.5" r="0.85"/>
<path class="tkl" d="M555.58 451.5H559.78M557.68 449.4V453.6"/>
<circle class="tk" cx="562.98" cy="451.5" r="0.85"/>
<path class="tkl" d="M560.88 451.5H565.08M562.98 449.4V453.6"/>
<circle class="tk" cx="625.24" cy="451.5" r="0.85"/>
<path class="tkl" d="M623.14 451.5H627.34M625.24 449.4V453.6"/>
<circle class="tk" cx="628" cy="451.5" r="0.85"/>
<path class="tkl" d="M625.9 451.5H630.1M628 449.4V453.6"/>
<circle class="tk" cx="690.27" cy="451.5" r="0.85"/>
<path class="tkl" d="M688.17 451.5H692.37M690.27 449.4V453.6"/>
<circle class="tk" cx="695.57" cy="451.5" r="0.85"/>
<path class="tkl" d="M693.47 451.5H697.67M695.57 449.4V453.6"/>
<circle class="tk" cx="715.44" cy="451.5" r="0.85"/>
<path class="tkl" d="M713.34 451.5H717.54M715.44 449.4V453.6"/>
<circle class="tk" cx="718.2" cy="451.5" r="0.85"/>
<path class="tkl" d="M716.1 451.5H720.3M718.2 449.4V453.6"/>
<circle class="tk" cx="864.81" cy="451.5" r="0.85"/>
<path class="tkl" d="M862.71 451.5H866.91M864.81 449.4V453.6"/>
<circle class="tk" cx="870.11" cy="451.5" r="0.85"/>
<path class="tkl" d="M868.01 451.5H872.21M870.11 449.4V453.6"/>
<circle class="tk" cx="935.36" cy="451.5" r="0.85"/>
<path class="tkl" d="M933.26 451.5H937.46M935.36 449.4V453.6"/>
<circle class="tk" cx="940.66" cy="451.5" r="0.85"/>
<path class="tkl" d="M938.56 451.5H942.76M940.66 449.4V453.6"/>
<circle class="tk" cx="1002.92" cy="451.5" r="0.85"/>
<path class="tkl" d="M1000.82 451.5H1005.02M1002.92 449.4V453.6"/>
<circle class="tk" cx="1005.68" cy="451.5" r="0.85"/>
<path class="tkl" d="M1003.58 451.5H1007.78M1005.68 449.4V453.6"/>
<circle class="tk" cx="1067.95" cy="451.5" r="0.85"/>
<path class="tkl" d="M1065.85 451.5H1070.05M1067.95 449.4V453.6"/>
<circle class="tk" cx="1073.25" cy="451.5" r="0.85"/>
<path class="tkl" d="M1071.15 451.5H1075.35M1073.25 449.4V453.6"/>
<circle class="tk" cx="1133.08" cy="451.5" r="0.85"/>
<path class="tkl" d="M1130.98 451.5H1135.18M1133.08 449.4V453.6"/>
<circle class="tk" cx="1138.38" cy="451.5" r="0.85"/>
<path class="tkl" d="M1136.28 451.5H1140.48M1138.38 449.4V453.6"/>
<circle class="tk" cx="1193.58" cy="451.5" r="0.85"/>
<path class="tkl" d="M1191.48 451.5H1195.68M1193.58 449.4V453.6"/>
<circle class="tk" cx="1196.34" cy="451.5" r="0.85"/>
<path class="tkl" d="M1194.24 451.5H1198.44M1196.34 449.4V453.6"/>
<circle class="tk" cx="1232.66" cy="451.5" r="0.85"/>
<path class="tkl" d="M1230.56 451.5H1234.76M1232.66 449.4V453.6"/>
<circle class="tk" cx="1237.96" cy="451.5" r="0.85"/>
<path class="tkl" d="M1235.86 451.5H1240.06M1237.96 449.4V453.6"/>
<circle class="tk" cx="1277.71" cy="451.5" r="0.85"/>
<path class="tkl" d="M1275.61 451.5H1279.81M1277.71 449.4V453.6"/>
<circle class="tk" cx="1280.47" cy="451.5" r="0.85"/>
<path class="tkl" d="M1278.37 451.5H1282.57M1280.47 449.4V453.6"/>
<circle class="tk" cx="1339.2" cy="451.5" r="0.85"/>
<path class="tkl" d="M1337.1 451.5H1341.3M1339.2 449.4V453.6"/>
<text class="d m" transform="translate(282.67 449.9) scale(0.83 1)">3,05</text>
<text class="d e" transform="translate(315.74 449.9) scale(0.83 1)">12<tspan class="sup" dy="-2.6">5</tspan><tspan dy="2.6">​</tspan></text>
<text class="d m" transform="translate(346.75 449.9) scale(0.83 1)">2,50<tspan class="sup" dy="-2.6">5</tspan><tspan dy="2.6">​</tspan></text>
<text class="d e" transform="translate(373.81 449.9) scale(0.83 1)">12<tspan class="sup" dy="-2.6">5</tspan><tspan dy="2.6">​</tspan></text>
<text class="d m" transform="translate(396.11 449.9) scale(0.83 1)">1,71<tspan class="sup" dy="-2.6">5</tspan><tspan dy="2.6">​</tspan></text>
<text class="d e" transform="translate(414.44 449.9) scale(0.83 1)">24</text>
<text class="d m" transform="translate(435.19 449.9) scale(0.83 1)">1,34<tspan class="sup" dy="-2.6">5</tspan><tspan dy="2.6">​</tspan></text>
<text class="d s" transform="translate(453.8 449.9) scale(0.83 1)">12<tspan class="sup" dy="-2.6">5</tspan><tspan dy="2.6">​</tspan></text>
<text class="d m" transform="translate(472.67 449.9) scale(0.83 1)">1,80</text>
<text class="d e" transform="translate(491.94 449.9) scale(0.83 1)">12<tspan class="sup" dy="-2.6">5</tspan><tspan dy="2.6">​</tspan></text>
<text class="d m" transform="translate(526.49 449.9) scale(0.83 1)">2,82<tspan class="sup" dy="-2.6">5</tspan><tspan dy="2.6">​</tspan></text>
<text class="d e" transform="translate(557.08 449.9) scale(0.83 1)">24</text>
<text class="d m" transform="translate(594.11 449.9) scale(0.83 1)">2,82</text>
<text class="d e" transform="translate(624.64 449.9) scale(0.83 1)">12<tspan class="sup" dy="-2.6">5</tspan><tspan dy="2.6">​</tspan></text>
<text class="d m" transform="translate(659.13 449.9) scale(0.83 1)">2,82</text>
<text class="d e" transform="translate(689.67 449.9) scale(0.83 1)">24</text>
<text class="d m" transform="translate(705.51 449.9) scale(0.83 1)">90</text>
<text class="d s" transform="translate(719.2 449.9) scale(0.83 1)">12<tspan class="sup" dy="-2.6">5</tspan><tspan dy="2.6">​</tspan></text>
<text class="d m" transform="translate(791.5 449.9) scale(0.83 1)">6,64</text>
<text class="d e" transform="translate(864.21 449.9) scale(0.83 1)">24</text>
<text class="d m" transform="translate(902.74 449.9) scale(0.83 1)">2,95<tspan class="sup" dy="-2.6">5</tspan><tspan dy="2.6">​</tspan></text>
<text class="d e" transform="translate(934.76 449.9) scale(0.83 1)">24</text>
<text class="d m" transform="translate(971.79 449.9) scale(0.83 1)">2,82</text>
<text class="d e" transform="translate(1002.32 449.9) scale(0.83 1)">12<tspan class="sup" dy="-2.6">5</tspan><tspan dy="2.6">​</tspan></text>
<text class="d m" transform="translate(1036.82 449.9) scale(0.83 1)">2,82</text>
<text class="d e" transform="translate(1067.35 449.9) scale(0.83 1)">24</text>
<text class="d m" transform="translate(1103.16 449.9) scale(0.83 1)">2,71</text>
<text class="d e" transform="translate(1132.48 449.9) scale(0.83 1)">24</text>
<text class="d m" transform="translate(1165.98 449.9) scale(0.83 1)">2,50</text>
<text class="d e" transform="translate(1192.98 449.9) scale(0.83 1)">12<tspan class="sup" dy="-2.6">5</tspan><tspan dy="2.6">​</tspan></text>
<text class="d m" transform="translate(1214.5 449.9) scale(0.83 1)">1,64<tspan class="sup" dy="-2.6">5</tspan><tspan dy="2.6">​</tspan></text>
<text class="d e" transform="translate(1232.06 449.9) scale(0.83 1)">24</text>
<text class="d m" transform="translate(1257.84 449.9) scale(0.83 1)">1,80</text>
<text class="d e" transform="translate(1277.11 449.9) scale(0.83 1)">12<tspan class="sup" dy="-2.6">5</tspan><tspan dy="2.6">​</tspan></text>
<text class="d m" transform="translate(1309.84 449.9) scale(0.83 1)">2,66</text>
<line class="dlg" x1="305" y1="238.9" x2="305" y2="837"/>
<circle class="tk" cx="305" cy="238.9" r="0.85"/>
<path class="tkl" d="M302.9 238.9H307.1M305 236.8V241"/>
<circle class="tk" cx="305" cy="298.74" r="0.85"/>
<path class="tkl" d="M302.9 298.74H307.1M305 296.64V300.84"/>
<circle class="tk" cx="305" cy="301.5" r="0.85"/>
<path class="tkl" d="M302.9 301.5H307.1M305 299.4V303.6"/>
<circle class="tk" cx="305" cy="398.98" r="0.85"/>
<path class="tkl" d="M302.9 398.98H307.1M305 396.88V401.08"/>
<circle class="tk" cx="305" cy="401.74" r="0.85"/>
<path class="tkl" d="M302.9 401.74H307.1M305 399.64V403.84"/>
<circle class="tk" cx="305" cy="440.05" r="0.85"/>
<path class="tkl" d="M302.9 440.05H307.1M305 437.95V442.15"/>
<circle class="tk" cx="305" cy="442.81" r="0.85"/>
<path class="tkl" d="M302.9 442.81H307.1M305 440.71V444.91"/>
<circle class="tk" cx="305" cy="467.65" r="0.85"/>
<path class="tkl" d="M302.9 467.65H307.1M305 465.55V469.75"/>
<circle class="tk" cx="305" cy="472.95" r="0.85"/>
<path class="tkl" d="M302.9 472.95H307.1M305 470.85V475.05"/>
<circle class="tk" cx="305" cy="566.57" r="0.85"/>
<path class="tkl" d="M302.9 566.57H307.1M305 564.47V568.67"/>
<circle class="tk" cx="305" cy="571.87" r="0.85"/>
<path class="tkl" d="M302.9 571.87H307.1M305 569.77V573.97"/>
<circle class="tk" cx="305" cy="600.46" r="0.85"/>
<path class="tkl" d="M302.9 600.46H307.1M305 598.36V602.56"/>
<circle class="tk" cx="305" cy="603.22" r="0.85"/>
<path class="tkl" d="M302.9 603.22H307.1M305 601.12V605.32"/>
<circle class="tk" cx="305" cy="638.55" r="0.85"/>
<path class="tkl" d="M302.9 638.55H307.1M305 636.45V640.65"/>
<circle class="tk" cx="305" cy="641.31" r="0.85"/>
<path class="tkl" d="M302.9 641.31H307.1M305 639.21V643.41"/>
<circle class="tk" cx="305" cy="716.38" r="0.85"/>
<path class="tkl" d="M302.9 716.38H307.1M305 714.28V718.48"/>
<circle class="tk" cx="305" cy="719.14" r="0.85"/>
<path class="tkl" d="M302.9 719.14H307.1M305 717.04V721.24"/>
<circle class="tk" cx="305" cy="836.27" r="0.85"/>
<path class="tkl" d="M302.9 836.27H307.1M305 834.17V838.37"/>
<text class="d m" transform="translate(304.4 269) rotate(-90) scale(0.83 1)">2,71</text>
<text class="d m" transform="translate(304.4 300.5) rotate(-90) scale(0.83 1)">12<tspan class="sup" dy="-2.6">5</tspan><tspan dy="2.6">​</tspan></text>
<text class="d m" transform="translate(304.4 350) rotate(-90) scale(0.83 1)">4,41<tspan class="sup" dy="-2.6">5</tspan><tspan dy="2.6">​</tspan></text>
<text class="d m" transform="translate(304.4 400.5) rotate(-90) scale(0.83 1)">12<tspan class="sup" dy="-2.6">5</tspan><tspan dy="2.6">​</tspan></text>
<text class="d m" transform="translate(304.4 420.5) rotate(-90) scale(0.83 1)">1,73<tspan class="sup" dy="-2.6">5</tspan><tspan dy="2.6">​</tspan></text>
<text class="d m" transform="translate(304.4 441) rotate(-90) scale(0.83 1)">12<tspan class="sup" dy="-2.6">5</tspan><tspan dy="2.6">​</tspan></text>
<text class="d m" transform="translate(304.4 456) rotate(-90) scale(0.83 1)">1,12<tspan class="sup" dy="-2.6">5</tspan><tspan dy="2.6">​</tspan></text>
<text class="d m" transform="translate(304.4 477) rotate(-90) scale(0.83 1)">24</text>
<text class="d m" transform="translate(304.4 517.2) rotate(-90) scale(0.83 1)">4,24</text>
<text class="d m" transform="translate(304.4 562) rotate(-90) scale(0.83 1)">24</text>
<text class="d m" transform="translate(304.4 585.6) rotate(-90) scale(0.83 1)">1,29<tspan class="sup" dy="-2.6">5</tspan><tspan dy="2.6">​</tspan></text>
<text class="d m" transform="translate(304.4 600.5) rotate(-90) scale(0.83 1)">12<tspan class="sup" dy="-2.6">5</tspan><tspan dy="2.6">​</tspan></text>
<text class="d m" transform="translate(304.4 619.2) rotate(-90) scale(0.83 1)">1,60</text>
<text class="d m" transform="translate(304.4 649) rotate(-90) scale(0.83 1)">12<tspan class="sup" dy="-2.6">5</tspan><tspan dy="2.6">​</tspan></text>
<text class="d m" transform="translate(304.4 679) rotate(-90) scale(0.83 1)">3,40</text>
<text class="d m" transform="translate(304.4 727.3) rotate(-90) scale(0.83 1)">12<tspan class="sup" dy="-2.6">5</tspan><tspan dy="2.6">​</tspan></text>
<text class="d m" transform="translate(304.4 783.3) rotate(-90) scale(0.83 1)">5,18<tspan class="sup" dy="-2.6">5</tspan><tspan dy="2.6">​</tspan></text>
<text class="d m" transform="translate(511 296.6) rotate(-90) scale(0.83 1)">5,24<tspan class="sup" dy="-2.6">5</tspan><tspan dy="2.6">​</tspan></text>
<text class="d m" transform="translate(511 361.8) rotate(-90) scale(0.83 1)">12<tspan class="sup" dy="-2.6">5</tspan><tspan dy="2.6">​</tspan></text>
<text class="d m" transform="translate(511 416.5) rotate(-90) scale(0.83 1)">4,99</text>
<line class="dlg" x1="512" y1="238.9" x2="512" y2="467"/>
<circle class="tk" cx="512" cy="238.9" r="0.85"/>
<path class="tkl" d="M509.9 238.9H514.1M512 236.8V241"/>
<circle class="tk" cx="512" cy="354.3" r="0.85"/>
<path class="tkl" d="M509.9 354.3H514.1M512 352.2V356.4"/>
<circle class="tk" cx="512" cy="357.3" r="0.85"/>
<path class="tkl" d="M509.9 357.3H514.1M512 355.2V359.4"/>
<circle class="tk" cx="512" cy="467" r="0.85"/>
<path class="tkl" d="M509.9 467H514.1M512 464.9V469.1"/>
<line class="dlg" x1="574.6" y1="238.9" x2="574.6" y2="466"/>
<text class="d m" transform="translate(573.1 286) rotate(-90) scale(0.83 1)">4,25<tspan class="sup" dy="-2.6">5</tspan><tspan dy="2.6">​</tspan></text>
<text class="d m" transform="translate(573.1 339.4) rotate(-90) scale(0.83 1)">12<tspan class="sup" dy="-2.6">5</tspan><tspan dy="2.6">​</tspan></text>
<text class="d m" transform="translate(573.1 364.2) rotate(-90) scale(0.83 1)">2,20</text>
<text class="d m" transform="translate(573.1 391.6) rotate(-90) scale(0.83 1)">12<tspan class="sup" dy="-2.6">5</tspan><tspan dy="2.6">​</tspan></text>
<text class="d m" transform="translate(573.1 431.4) rotate(-90) scale(0.83 1)">3,65<tspan class="sup" dy="-2.6">5</tspan><tspan dy="2.6">​</tspan></text>
<circle class="tk" cx="574.6" cy="238.9" r="0.85"/>
<path class="tkl" d="M572.5 238.9H576.7M574.6 236.8V241"/>
<circle class="tk" cx="574.6" cy="332.6" r="0.85"/>
<path class="tkl" d="M572.5 332.6H576.7M574.6 330.5V334.7"/>
<circle class="tk" cx="574.6" cy="335.3" r="0.85"/>
<path class="tkl" d="M572.5 335.3H576.7M574.6 333.2V337.4"/>
<circle class="tk" cx="574.6" cy="383.5" r="0.85"/>
<path class="tkl" d="M572.5 383.5H576.7M574.6 381.4V385.6"/>
<circle class="tk" cx="574.6" cy="386.3" r="0.85"/>
<path class="tkl" d="M572.5 386.3H576.7M574.6 384.2V388.4"/>
<circle class="tk" cx="574.6" cy="466" r="0.85"/>
<path class="tkl" d="M572.5 466H576.7M574.6 463.9V468.1"/>
<line class="dlg" x1="841.4" y1="285.2" x2="841.4" y2="837"/>
<text class="d m" transform="translate(840.2 279.7) rotate(-90) scale(0.83 1)">20</text>
<text class="d m" transform="translate(840.2 298.3) rotate(-90) scale(0.83 1)">24</text>
<text class="d m" transform="translate(840.2 351.8) rotate(-90) scale(0.83 1)">4,93<tspan class="sup" dy="-2.6">5</tspan><tspan dy="2.6">​</tspan></text>
<text class="d m" transform="translate(840.2 411.5) rotate(-90) scale(0.83 1)">12<tspan class="sup" dy="-2.6">5</tspan><tspan dy="2.6">​</tspan></text>
<text class="d m" transform="translate(840.2 441.3) rotate(-90) scale(0.83 1)">2,80</text>
<text class="d m" transform="translate(840.2 477.4) rotate(-90) scale(0.83 1)">24</text>
<text class="d m" transform="translate(840.2 523.4) rotate(-90) scale(0.83 1)">4,24</text>
<text class="d m" transform="translate(840.2 575.7) rotate(-90) scale(0.83 1)">24</text>
<text class="d m" transform="translate(840.2 637.9) rotate(-90) scale(0.83 1)">5,74<tspan class="sup" dy="-2.6">5</tspan><tspan dy="2.6">​</tspan></text>
<text class="d m" transform="translate(840.2 705) rotate(-90) scale(0.83 1)">12<tspan class="sup" dy="-2.6">5</tspan><tspan dy="2.6">​</tspan></text>
<text class="d m" transform="translate(840.2 774.6) rotate(-90) scale(0.83 1)">6,18<tspan class="sup" dy="-2.6">5</tspan><tspan dy="2.6">​</tspan></text>
<circle class="tk" cx="841.4" cy="285.2" r="0.85"/>
<path class="tkl" d="M839.3 285.2H843.5M841.4 283.1V287.3"/>
<circle class="tk" cx="841.4" cy="289.6" r="0.85"/>
<path class="tkl" d="M839.3 289.6H843.5M841.4 287.5V291.7"/>
<circle class="tk" cx="841.4" cy="294.9" r="0.85"/>
<path class="tkl" d="M839.3 294.9H843.5M841.4 292.8V297"/>
<circle class="tk" cx="841.4" cy="403" r="0.85"/>
<path class="tkl" d="M839.3 403H843.5M841.4 400.9V405.1"/>
<circle class="tk" cx="841.4" cy="406" r="0.85"/>
<path class="tkl" d="M839.3 406H843.5M841.4 403.9V408.1"/>
<circle class="tk" cx="841.4" cy="468.8" r="0.85"/>
<path class="tkl" d="M839.3 468.8H843.5M841.4 466.7V470.9"/>
<circle class="tk" cx="841.4" cy="474" r="0.85"/>
<path class="tkl" d="M839.3 474H843.5M841.4 471.9V476.1"/>
<circle class="tk" cx="841.4" cy="566.8" r="0.85"/>
<path class="tkl" d="M839.3 566.8H843.5M841.4 564.7V568.9"/>
<circle class="tk" cx="841.4" cy="572" r="0.85"/>
<path class="tkl" d="M839.3 572H843.5M841.4 569.9V574.1"/>
<circle class="tk" cx="841.4" cy="698" r="0.85"/>
<path class="tkl" d="M839.3 698H843.5M841.4 695.9V700.1"/>
<circle class="tk" cx="841.4" cy="701" r="0.85"/>
<path class="tkl" d="M839.3 701H843.5M841.4 698.9V703.1"/>
<circle class="tk" cx="841.4" cy="837" r="0.85"/>
<path class="tkl" d="M839.3 837H843.5M841.4 834.9V839.1"/>
<line class="dlg" x1="1232.7" y1="253" x2="1232.7" y2="838"/>
<text class="d m" transform="translate(1231.5 307) rotate(-90) scale(0.83 1)">4,91</text>
<text class="d m" transform="translate(1231.5 369.2) rotate(-90) scale(0.83 1)">12<tspan class="sup" dy="-2.6">5</tspan><tspan dy="2.6">​</tspan></text>
<text class="d m" transform="translate(1231.5 417.7) rotate(-90) scale(0.83 1)">4,72<tspan class="sup" dy="-2.6">5</tspan><tspan dy="2.6">​</tspan></text>
<text class="d m" transform="translate(1231.5 460) rotate(-90) scale(0.83 1)">24</text>
<text class="d m" transform="translate(1231.5 521) rotate(-90) scale(0.83 1)">4,24</text>
<text class="d m" transform="translate(1231.5 575.7) rotate(-90) scale(0.83 1)">24</text>
<text class="d m" transform="translate(1231.5 661.5) rotate(-90) scale(0.83 1)">7,84<tspan class="sup" dy="-2.6">5</tspan><tspan dy="2.6">​</tspan></text>
<text class="d m" transform="translate(1231.5 752.2) rotate(-90) scale(0.83 1)">12<tspan class="sup" dy="-2.6">5</tspan><tspan dy="2.6">​</tspan></text>
<text class="d m" transform="translate(1231.5 797) rotate(-90) scale(0.83 1)">4,08<tspan class="sup" dy="-2.6">5</tspan><tspan dy="2.6">​</tspan></text>
<circle class="tk" cx="1232.7" cy="253" r="0.85"/>
<path class="tkl" d="M1230.6 253H1234.8M1232.7 250.9V255.1"/>
<circle class="tk" cx="1232.7" cy="361.3" r="0.85"/>
<path class="tkl" d="M1230.6 361.3H1234.8M1232.7 359.2V363.4"/>
<circle class="tk" cx="1232.7" cy="364.8" r="0.85"/>
<path class="tkl" d="M1230.6 364.8H1234.8M1232.7 362.7V366.9"/>
<circle class="tk" cx="1232.7" cy="468.8" r="0.85"/>
<path class="tkl" d="M1230.6 468.8H1234.8M1232.7 466.7V470.9"/>
<circle class="tk" cx="1232.7" cy="474" r="0.85"/>
<path class="tkl" d="M1230.6 474H1234.8M1232.7 471.9V476.1"/>
<circle class="tk" cx="1232.7" cy="567.3" r="0.85"/>
<path class="tkl" d="M1230.6 567.3H1234.8M1232.7 565.2V569.4"/>
<circle class="tk" cx="1232.7" cy="572.5" r="0.85"/>
<path class="tkl" d="M1230.6 572.5H1234.8M1232.7 570.4V574.6"/>
<circle class="tk" cx="1232.7" cy="745.2" r="0.85"/>
<path class="tkl" d="M1230.6 745.2H1234.8M1232.7 743.1V747.3"/>
<circle class="tk" cx="1232.7" cy="748.5" r="0.85"/>
<path class="tkl" d="M1230.6 748.5H1234.8M1232.7 746.4V750.6"/>
<circle class="tk" cx="1232.7" cy="838" r="0.85"/>
<path class="tkl" d="M1230.6 838H1234.8M1232.7 835.9V840.1"/>
<line class="dlg" x1="1271.6" y1="243.6" x2="1271.6" y2="838"/>
<text class="d m" transform="translate(1270 238.7) rotate(-90) scale(0.83 1)">20</text>
<text class="d m" transform="translate(1270 257.3) rotate(-90) scale(0.83 1)">24</text>
<text class="d m" transform="translate(1270 310.8) rotate(-90) scale(0.83 1)">4,91</text>
<text class="d m" transform="translate(1270 369.2) rotate(-90) scale(0.83 1)">12<tspan class="sup" dy="-2.6">5</tspan><tspan dy="2.6">​</tspan></text>
<text class="d m" transform="translate(1270 395.3) rotate(-90) scale(0.83 1)">2,80</text>
<text class="d m" transform="translate(1270 419) rotate(-90) scale(0.83 1)">12<tspan class="sup" dy="-2.6">5</tspan><tspan dy="2.6">​</tspan></text>
<text class="d m" transform="translate(1270 458.7) rotate(-90) scale(0.83 1)">1,80</text>
<text class="d m" transform="translate(1270 481) rotate(-90) scale(0.83 1)">12<tspan class="sup" dy="-2.6">5</tspan><tspan dy="2.6">​</tspan></text>
<text class="d m" transform="translate(1270 523.4) rotate(-90) scale(0.83 1)">4,35<tspan class="sup" dy="-2.6">5</tspan><tspan dy="2.6">​</tspan></text>
<text class="d m" transform="translate(1270 575.7) rotate(-90) scale(0.83 1)">24</text>
<text class="d m" transform="translate(1270 606.7) rotate(-90) scale(0.83 1)">2,78</text>
<text class="d m" transform="translate(1270 644) rotate(-90) scale(0.83 1)">24</text>
<text class="d m" transform="translate(1270 661.5) rotate(-90) scale(0.83 1)">1,80</text>
<text class="d m" transform="translate(1270 686.3) rotate(-90) scale(0.83 1)">12<tspan class="sup" dy="-2.6">5</tspan><tspan dy="2.6">​</tspan></text>
<text class="d m" transform="translate(1270 718.6) rotate(-90) scale(0.83 1)">2,90</text>
<text class="d m" transform="translate(1270 752.2) rotate(-90) scale(0.83 1)">12<tspan class="sup" dy="-2.6">5</tspan><tspan dy="2.6">​</tspan></text>
<text class="d m" transform="translate(1270 797) rotate(-90) scale(0.83 1)">4,08<tspan class="sup" dy="-2.6">5</tspan><tspan dy="2.6">​</tspan></text>
<circle class="tk" cx="1271.6" cy="243.6" r="0.85"/>
<path class="tkl" d="M1269.5 243.6H1273.7M1271.6 241.5V245.7"/>
<circle class="tk" cx="1271.6" cy="247.8" r="0.85"/>
<path class="tkl" d="M1269.5 247.8H1273.7M1271.6 245.7V249.9"/>
<circle class="tk" cx="1271.6" cy="253" r="0.85"/>
<path class="tkl" d="M1269.5 253H1273.7M1271.6 250.9V255.1"/>
<circle class="tk" cx="1271.6" cy="361.3" r="0.85"/>
<path class="tkl" d="M1269.5 361.3H1273.7M1271.6 359.2V363.4"/>
<circle class="tk" cx="1271.6" cy="364.8" r="0.85"/>
<path class="tkl" d="M1269.5 364.8H1273.7M1271.6 362.7V366.9"/>
<circle class="tk" cx="1271.6" cy="424.5" r="0.85"/>
<path class="tkl" d="M1269.5 424.5H1273.7M1271.6 422.4V426.6"/>
<circle class="tk" cx="1271.6" cy="427.7" r="0.85"/>
<path class="tkl" d="M1269.5 427.7H1273.7M1271.6 425.6V429.8"/>
<circle class="tk" cx="1271.6" cy="468" r="0.85"/>
<path class="tkl" d="M1269.5 468H1273.7M1271.6 465.9V470.1"/>
<circle class="tk" cx="1271.6" cy="504.3" r="0.85"/>
<path class="tkl" d="M1269.5 504.3H1273.7M1271.6 502.2V506.4"/>
<circle class="tk" cx="1271.6" cy="567" r="0.85"/>
<path class="tkl" d="M1269.5 567H1273.7M1271.6 564.9V569.1"/>
<circle class="tk" cx="1271.6" cy="572.4" r="0.85"/>
<path class="tkl" d="M1269.5 572.4H1273.7M1271.6 570.3V574.5"/>
<circle class="tk" cx="1271.6" cy="634.3" r="0.85"/>
<path class="tkl" d="M1269.5 634.3H1273.7M1271.6 632.2V636.4"/>
<circle class="tk" cx="1271.6" cy="639.8" r="0.85"/>
<path class="tkl" d="M1269.5 639.8H1273.7M1271.6 637.7V641.9"/>
<circle class="tk" cx="1271.6" cy="677.7" r="0.85"/>
<path class="tkl" d="M1269.5 677.7H1273.7M1271.6 675.6V679.8"/>
<circle class="tk" cx="1271.6" cy="680.9" r="0.85"/>
<path class="tkl" d="M1269.5 680.9H1273.7M1271.6 678.8V683"/>
<circle class="tk" cx="1271.6" cy="745.2" r="0.85"/>
<path class="tkl" d="M1269.5 745.2H1273.7M1271.6 743.1V747.3"/>
<circle class="tk" cx="1271.6" cy="748.5" r="0.85"/>
<path class="tkl" d="M1269.5 748.5H1273.7M1271.6 746.4V750.6"/>
<circle class="tk" cx="1271.6" cy="838" r="0.85"/>
<path class="tkl" d="M1269.5 838H1273.7M1271.6 835.9V840.1"/>
<text class="d m" transform="translate(981.3 465) rotate(-90) scale(0.83 1)">24</text>
<text class="d m" transform="translate(793.2 450.5) scale(0.83 1)"></text>
<line class="dlg" x1="249.2" y1="695.4" x2="492.9" y2="695.4"/>
<circle class="tk" cx="249.2" cy="695.4" r="0.85"/>
<path class="tkl" d="M247.1 695.4H251.3M249.2 693.3V697.5"/>
<circle class="tk" cx="339.6" cy="695.4" r="0.85"/>
<path class="tkl" d="M337.5 695.4H341.7M339.6 693.3V697.5"/>
<circle class="tk" cx="342.6" cy="695.4" r="0.85"/>
<path class="tkl" d="M340.5 695.4H344.7M342.6 693.3V697.5"/>
<circle class="tk" cx="368.2" cy="695.4" r="0.85"/>
<path class="tkl" d="M366.1 695.4H370.3M368.2 693.3V697.5"/>
<circle class="tk" cx="374.8" cy="695.4" r="0.85"/>
<path class="tkl" d="M372.7 695.4H376.9M374.8 693.3V697.5"/>
<circle class="tk" cx="400.3" cy="695.4" r="0.85"/>
<path class="tkl" d="M398.2 695.4H402.4M400.3 693.3V697.5"/>
<circle class="tk" cx="403.3" cy="695.4" r="0.85"/>
<path class="tkl" d="M401.2 695.4H405.4M403.3 693.3V697.5"/>
<circle class="tk" cx="492.9" cy="695.4" r="0.85"/>
<path class="tkl" d="M490.8 695.4H495M492.9 693.3V697.5"/>
<text class="d m" transform="translate(294.4 693.8) scale(0.83 1)">4,07</text>
<text class="d m" transform="translate(355.4 693.8) scale(0.83 1)">1,20</text>
<text class="d e" transform="translate(367.6 693.8) scale(0.83 1)"></text>
<text class="d m" transform="translate(387.55 693.8) scale(0.83 1)">1,20</text>
<text class="d m" transform="translate(448.1 693.8) scale(0.83 1)">4,07</text>
<line class="dlg" x1="696.2" y1="695.4" x2="935.8" y2="695.4"/>
<circle class="tk" cx="696.2" cy="695.4" r="0.85"/>
<path class="tkl" d="M694.1 695.4H698.3M696.2 693.3V697.5"/>
<circle class="tk" cx="784.8" cy="695.4" r="0.85"/>
<path class="tkl" d="M782.7 695.4H786.9M784.8 693.3V697.5"/>
<circle class="tk" cx="788.2" cy="695.4" r="0.85"/>
<path class="tkl" d="M786.1 695.4H790.3M788.2 693.3V697.5"/>
<circle class="tk" cx="813.3" cy="695.4" r="0.85"/>
<path class="tkl" d="M811.2 695.4H815.4M813.3 693.3V697.5"/>
<circle class="tk" cx="819.8" cy="695.4" r="0.85"/>
<path class="tkl" d="M817.7 695.4H821.9M819.8 693.3V697.5"/>
<circle class="tk" cx="845" cy="695.4" r="0.85"/>
<path class="tkl" d="M842.9 695.4H847.1M845 693.3V697.5"/>
<circle class="tk" cx="848.3" cy="695.4" r="0.85"/>
<path class="tkl" d="M846.2 695.4H850.4M848.3 693.3V697.5"/>
<circle class="tk" cx="935.8" cy="695.4" r="0.85"/>
<path class="tkl" d="M933.7 695.4H937.9M935.8 693.3V697.5"/>
<text class="d m" transform="translate(740.5 693.8) scale(0.83 1)">3,98<tspan class="sup" dy="-2.6">5</tspan><tspan dy="2.6">​</tspan></text>
<text class="d m" transform="translate(800.75 693.8) scale(0.83 1)">1,20</text>
<text class="d e" transform="translate(812.7 693.8) scale(0.83 1)"></text>
<text class="d m" transform="translate(832.4 693.8) scale(0.83 1)">1,20</text>
<text class="d m" transform="translate(892.05 693.8) scale(0.83 1)">4,22<tspan class="sup" dy="-2.6">5</tspan><tspan dy="2.6">​</tspan></text>
<text class="d m" transform="translate(819.2 685) rotate(-90) scale(0.83 1)">24</text>
<text class="d m" transform="translate(373.3 685) rotate(-90) scale(0.83 1)">24</text>
<line class="dlg" x1="871.5" y1="572" x2="871.5" y2="722.6"/>
<text class="d m" transform="translate(870.9 585.6) rotate(-90) scale(0.83 1)">1,29<tspan class="sup" dy="-2.6">5</tspan><tspan dy="2.6">​</tspan></text>
<text class="d m" transform="translate(870.9 608) rotate(-90) scale(0.83 1)">12<tspan class="sup" dy="-2.6">5</tspan><tspan dy="2.6">​</tspan></text>
<text class="d m" transform="translate(870.9 625.4) rotate(-90) scale(0.83 1)">1,50</text>
<text class="d m" transform="translate(870.9 649) rotate(-90) scale(0.83 1)">12<tspan class="sup" dy="-2.6">5</tspan><tspan dy="2.6">​</tspan></text>
<text class="d m" transform="translate(870.9 685) rotate(-90) scale(0.83 1)">3,40</text>
<text class="d m" transform="translate(870.9 727.3) rotate(-90) scale(0.83 1)">12<tspan class="sup" dy="-2.6">5</tspan><tspan dy="2.6">​</tspan></text>
<line class="dlg" x1="1129.2" y1="704.7" x2="1355" y2="704.7"/>
<circle class="tk" cx="1129.2" cy="704.7" r="0.85"/>
<path class="tkl" d="M1127.1 704.7H1131.3M1129.2 702.6V706.8"/>
<circle class="tk" cx="1133.5" cy="704.7" r="0.85"/>
<path class="tkl" d="M1131.4 704.7H1135.6M1133.5 702.6V706.8"/>
<circle class="tk" cx="1138.6" cy="704.7" r="0.85"/>
<path class="tkl" d="M1136.5 704.7H1140.7M1138.6 702.6V706.8"/>
<circle class="tk" cx="1208" cy="704.7" r="0.85"/>
<path class="tkl" d="M1205.9 704.7H1210.1M1208 702.6V706.8"/>
<circle class="tk" cx="1211.3" cy="704.7" r="0.85"/>
<path class="tkl" d="M1209.2 704.7H1213.4M1211.3 702.6V706.8"/>
<circle class="tk" cx="1236.5" cy="704.7" r="0.85"/>
<path class="tkl" d="M1234.4 704.7H1238.6M1236.5 702.6V706.8"/>
<circle class="tk" cx="1242" cy="704.7" r="0.85"/>
<path class="tkl" d="M1239.9 704.7H1244.1M1242 702.6V706.8"/>
<circle class="tk" cx="1355" cy="704.7" r="0.85"/>
<path class="tkl" d="M1352.9 704.7H1357.1M1355 702.6V706.8"/>
<text class="d e" transform="translate(1128.6 703.1) scale(0.83 1)">20</text>
<text class="d s" transform="translate(1139.2 703.1) scale(0.83 1)">24</text>
<text class="d m" transform="translate(1173.3 703.1) scale(0.83 1)">3,14<tspan class="sup" dy="-2.6">5</tspan><tspan dy="2.6">​</tspan></text>
<text class="d m" transform="translate(1223.9 703.1) scale(0.83 1)">1,20</text>
<text class="d s" transform="translate(1242.6 703.1) scale(0.83 1)">24</text>
<text class="d m" transform="translate(1298.5 703.1) scale(0.83 1)">5,14</text>
<text class="d m" transform="translate(1248 549) scale(0.83 1)"></text>
<line class="dl" x1="939" y1="932.7" x2="1245.3" y2="947.8"/>
<circle class="tk" cx="941" cy="932.8" r="0.85"/>
<path class="tkl" d="M938.9 932.8H943.1M941 930.7V934.9"/>
<circle class="tk" cx="1243.3" cy="947.7" r="0.85"/>
<path class="tkl" d="M1241.2 947.7H1245.4M1243.3 945.6V949.8"/>
<text class="d m" transform="translate(1093 937.3) rotate(2.8) scale(0.83 1)">13,69<tspan class="sup" dy="-2.6">5</tspan><tspan dy="2.6">​</tspan></text>
<line class="dl" x1="938.8" y1="946.1" x2="1245.2" y2="960.99"/>
<circle class="tk" cx="940.8" cy="946.2" r="0.85"/>
<path class="tkl" d="M938.7 946.2H942.9M940.8 944.1V948.3"/>
<circle class="tk" cx="975.8" cy="947.9" r="0.85"/>
<path class="tkl" d="M973.7 947.9H977.9M975.8 945.8V950"/>
<circle class="tk" cx="1021.4" cy="950.12" r="0.85"/>
<path class="tkl" d="M1019.3 950.12H1023.5M1021.4 948.02V952.22"/>
<circle class="tk" cx="1067" cy="952.33" r="0.85"/>
<path class="tkl" d="M1064.9 952.33H1069.1M1067 950.23V954.43"/>
<circle class="tk" cx="1112.6" cy="954.55" r="0.85"/>
<path class="tkl" d="M1110.5 954.55H1114.7M1112.6 952.45V956.65"/>
<circle class="tk" cx="1158.2" cy="956.77" r="0.85"/>
<path class="tkl" d="M1156.1 956.77H1160.3M1158.2 954.67V958.87"/>
<circle class="tk" cx="1243.2" cy="960.9" r="0.85"/>
<path class="tkl" d="M1241.1 960.9H1245.3M1243.2 958.8V963"/>
<text class="d m" transform="translate(958.3 944.75) rotate(2.8) scale(0.83 1)">1,58<tspan class="sup" dy="-2.6">5</tspan><tspan dy="2.6">​</tspan></text>
<text class="d m" transform="translate(998.6 946.71) rotate(2.8) scale(0.83 1)">2,06<tspan class="sup" dy="-2.6">5</tspan><tspan dy="2.6">​</tspan></text>
<text class="d m" transform="translate(1044.2 948.93) rotate(2.8) scale(0.83 1)">2,06<tspan class="sup" dy="-2.6">5</tspan><tspan dy="2.6">​</tspan></text>
<text class="d m" transform="translate(1089.8 951.14) rotate(2.8) scale(0.83 1)">2,06<tspan class="sup" dy="-2.6">5</tspan><tspan dy="2.6">​</tspan></text>
<text class="d m" transform="translate(1135.4 953.36) rotate(2.8) scale(0.83 1)">2,06<tspan class="sup" dy="-2.6">5</tspan><tspan dy="2.6">​</tspan></text>
<text class="d m" transform="translate(1200.7 956.53) rotate(2.8) scale(0.83 1)">3,85</text>
<line class="dl" x1="937.7" y1="981.3" x2="1244" y2="996.19"/>
<circle class="tk" cx="939.7" cy="981.4" r="0.85"/>
<path class="tkl" d="M937.6 981.4H941.8M939.7 979.3V983.5"/>
<circle class="tk" cx="960.8" cy="982.43" r="0.85"/>
<path class="tkl" d="M958.7 982.43H962.9M960.8 980.33V984.53"/>
<circle class="tk" cx="988.6" cy="983.78" r="0.85"/>
<path class="tkl" d="M986.5 983.78H990.7M988.6 981.68V985.88"/>
<circle class="tk" cx="1006.4" cy="984.64" r="0.85"/>
<path class="tkl" d="M1004.3 984.64H1008.5M1006.4 982.54V986.74"/>
<circle class="tk" cx="1034.2" cy="985.99" r="0.85"/>
<path class="tkl" d="M1032.1 985.99H1036.3M1034.2 983.89V988.09"/>
<circle class="tk" cx="1052" cy="986.86" r="0.85"/>
<path class="tkl" d="M1049.9 986.86H1054.1M1052 984.76V988.96"/>
<circle class="tk" cx="1079.8" cy="988.21" r="0.85"/>
<path class="tkl" d="M1077.7 988.21H1081.9M1079.8 986.11V990.31"/>
<circle class="tk" cx="1097.6" cy="989.07" r="0.85"/>
<path class="tkl" d="M1095.5 989.07H1099.7M1097.6 986.97V991.17"/>
<circle class="tk" cx="1125.4" cy="990.43" r="0.85"/>
<path class="tkl" d="M1123.3 990.43H1127.5M1125.4 988.33V992.53"/>
<circle class="tk" cx="1143.2" cy="991.29" r="0.85"/>
<path class="tkl" d="M1141.1 991.29H1145.3M1143.2 989.19V993.39"/>
<circle class="tk" cx="1171" cy="992.64" r="0.85"/>
<path class="tkl" d="M1168.9 992.64H1173.1M1171 990.54V994.74"/>
<circle class="tk" cx="1242.1" cy="996.1" r="0.85"/>
<path class="tkl" d="M1240 996.1H1244.2M1242.1 994V998.2"/>
<text class="d m" transform="translate(950.25 980.31) rotate(2.8) scale(0.83 1)">95<tspan class="sup" dy="-2.6">5</tspan><tspan dy="2.6">​</tspan></text>
<text class="d m" transform="translate(974.7 981.5) rotate(2.8) scale(0.83 1)">1,26</text>
<text class="d m" transform="translate(974.7 989.7) rotate(2.8) scale(0.83 1)">2,35</text>
<text class="d m" transform="translate(997.5 982.61) rotate(2.8) scale(0.83 1)">80<tspan class="sup" dy="-2.6">5</tspan><tspan dy="2.6">​</tspan></text>
<text class="d m" transform="translate(1020.3 983.72) rotate(2.8) scale(0.83 1)">1,26</text>
<text class="d m" transform="translate(1020.3 991.92) rotate(2.8) scale(0.83 1)">2,35</text>
<text class="d m" transform="translate(1043.1 984.83) rotate(2.8) scale(0.83 1)">80<tspan class="sup" dy="-2.6">5</tspan><tspan dy="2.6">​</tspan></text>
<text class="d m" transform="translate(1065.9 985.93) rotate(2.8) scale(0.83 1)">1,26</text>
<text class="d m" transform="translate(1065.9 994.13) rotate(2.8) scale(0.83 1)">2,35</text>
<text class="d m" transform="translate(1088.7 987.04) rotate(2.8) scale(0.83 1)">80<tspan class="sup" dy="-2.6">5</tspan><tspan dy="2.6">​</tspan></text>
<text class="d m" transform="translate(1111.5 988.15) rotate(2.8) scale(0.83 1)">1,26</text>
<text class="d m" transform="translate(1111.5 996.35) rotate(2.8) scale(0.83 1)">2,35</text>
<text class="d m" transform="translate(1134.3 989.26) rotate(2.8) scale(0.83 1)">80<tspan class="sup" dy="-2.6">5</tspan><tspan dy="2.6">​</tspan></text>
<text class="d m" transform="translate(1157.1 990.37) rotate(2.8) scale(0.83 1)">1,26</text>
<text class="d m" transform="translate(1157.1 998.57) rotate(2.8) scale(0.83 1)">2,35</text>
<text class="d m" transform="translate(1206.55 992.77) rotate(2.8) scale(0.83 1)">3,22</text>
<polyline class="lg" points="997.6,1018.8 997.6,975.5 1133.2,982.9 1132,1025"/>
<text class="rb m" transform="translate(1056.2 1008.9) scale(0.8 1)">Balkon</text>
<text class="ra m" transform="translate(1057.3 1018) scale(0.8 1)">5,9 m<tspan class="sup" dy="-2.6">2</tspan><tspan dy="2.6">​</tspan></text>
<clipPath id="cb"><rect x="0" y="0" width="1528" height="1052"/></clipPath><g clip-path="url(#cb)">
<polyline class="ins" points="939.7,1060 939.7,1017 1240.8,1031 1240.8,1060"/>
<polygon class="hw" points="940.8,1021.4 959.1,1022.29 959.1,1028.49 940.8,1027.6"/>
<polygon class="hw" points="986.6,1023.63 1005.7,1024.55 1005.7,1030.75 986.6,1029.83"/>
<polygon class="hw" points="1032.4,1025.85 1050.7,1026.74 1050.7,1032.94 1032.4,1032.05"/>
<polygon class="hw" points="1077.5,1028.04 1095.8,1028.93 1095.8,1035.13 1077.5,1034.24"/>
<polygon class="hw" points="1122.9,1030.25 1141.2,1031.14 1141.2,1037.34 1122.9,1036.45"/>
<polygon class="hw" points="1168,1032.44 1240.2,1035.95 1240.2,1042.15 1168,1038.64"/>
<rect class="hw" x="942" y="1027.5" width="6.1" height="32.5"/>
<rect class="hw" x="1123.5" y="1036.5" width="6" height="23.5"/>
<rect class="hw" x="1234" y="1040" width="6.2" height="20"/>
<line class="win2" x1="959.1" y1="1024.29" x2="986.6" y2="1025.63"/>
<line class="win2" x1="959.1" y1="1026.29" x2="986.6" y2="1027.63"/>
<polyline class="win2" points="959.1,1026.29 972.85,1032.46 972.85,1026.96"/>
<polyline class="win2" points="986.6,1027.63 972.85,1032.46"/>
<line class="win2" x1="1005.7" y1="1026.55" x2="1032.4" y2="1027.85"/>
<line class="win2" x1="1005.7" y1="1028.55" x2="1032.4" y2="1029.85"/>
<polyline class="win2" points="1005.7,1028.55 1019.05,1034.7 1019.05,1029.2"/>
<polyline class="win2" points="1032.4,1029.85 1019.05,1034.7"/>
<line class="win2" x1="1050.7" y1="1028.74" x2="1077.5" y2="1030.04"/>
<line class="win2" x1="1050.7" y1="1030.74" x2="1077.5" y2="1032.04"/>
<polyline class="win2" points="1050.7,1030.74 1064.1,1036.89 1064.1,1031.39"/>
<polyline class="win2" points="1077.5,1032.04 1064.1,1036.89"/>
<line class="win2" x1="1095.8" y1="1030.93" x2="1122.9" y2="1032.25"/>
<line class="win2" x1="1095.8" y1="1032.93" x2="1122.9" y2="1034.25"/>
<polyline class="win2" points="1095.8,1032.93 1109.35,1039.09 1109.35,1033.59"/>
<polyline class="win2" points="1122.9,1034.25 1109.35,1039.09"/>
<line class="win2" x1="1141.2" y1="1033.14" x2="1168" y2="1034.44"/>
<line class="win2" x1="1141.2" y1="1035.14" x2="1168" y2="1036.44"/>
<polyline class="win2" points="1141.2,1035.14 1154.6,1041.29 1154.6,1035.79"/>
<polyline class="win2" points="1168,1036.44 1154.6,1041.29"/>
<path class="dr" d="M993 1052L993 1033A19 19 0 0 1 1012 1052"/>
<line class="lf" x1="960" y1="1029" x2="960" y2="1060"/>
<line class="lf" x1="960" y1="1049" x2="945" y2="1049"/>
</g>
<text class="rb m" transform="translate(973.8 1048.1) scale(0.8 1)">Küche</text>
<text class="rb m" transform="translate(1050.7 1048.8) scale(0.8 1)">Wo Ess</text>
<line class="axd" x1="847.3" y1="1012.2" x2="939" y2="1017"/>
<line class="dl" x1="918.8" y1="1015" x2="918.8" y2="1052"/>
<circle class="tk" cx="918.8" cy="1017" r="0.85"/>
<path class="tkl" d="M916.7 1017H920.9M918.8 1014.9V1019.1"/>
<circle class="tk" cx="918.8" cy="1026.9" r="0.85"/>
<path class="tkl" d="M916.7 1026.9H920.9M918.8 1024.8V1029"/>
<circle class="tk" cx="918.8" cy="1036" r="0.85"/>
<path class="tkl" d="M916.7 1036H920.9M918.8 1033.9V1038.1"/>
<text class="d m" transform="translate(921.3 1011.5) rotate(90) scale(0.83 1)">20</text>
<text class="d m" transform="translate(921.3 1031.5) rotate(90) scale(0.83 1)">24</text>
<line class="dl" x1="904.1" y1="1015.5" x2="904.1" y2="1052"/>
<circle class="tk" cx="904.1" cy="1015.5" r="0.85"/>
<path class="tkl" d="M902 1015.5H906.2M904.1 1013.4V1017.6"/>
<line class="dl" x1="1106.5" y1="1011" x2="1106.5" y2="1052"/>
<circle class="tk" cx="1106.5" cy="1013.5" r="0.85"/>
<path class="tkl" d="M1104.4 1013.5H1108.6M1106.5 1011.4V1015.6"/>
<circle class="tk" cx="1106.5" cy="1018" r="0.85"/>
<path class="tkl" d="M1104.4 1018H1108.6M1106.5 1015.9V1020.1"/>
<circle class="tk" cx="1106.5" cy="1022.5" r="0.85"/>
<path class="tkl" d="M1104.4 1022.5H1108.6M1106.5 1020.4V1024.6"/>
<circle class="tk" cx="1106.5" cy="1028" r="0.85"/>
<path class="tkl" d="M1104.4 1028H1108.6M1106.5 1025.9V1030.1"/>
<text class="d m" transform="translate(1109 1004) rotate(90) scale(0.83 1)">20</text>
<text class="d m" transform="translate(1109 1028) rotate(90) scale(0.83 1)">24</text>
<line class="axd" x1="1243" y1="1031.6" x2="1353" y2="1036.4"/>
<line class="dl" x1="1250.5" y1="1030" x2="1250.5" y2="1052"/>
<circle class="tk" cx="1250.5" cy="1032" r="0.85"/>
<path class="tkl" d="M1248.4 1032H1252.6M1250.5 1029.9V1034.1"/>
<circle class="tk" cx="1250.5" cy="1037.5" r="0.85"/>
<path class="tkl" d="M1248.4 1037.5H1252.6M1250.5 1035.4V1039.6"/>
<circle class="tk" cx="1250.5" cy="1043" r="0.85"/>
<path class="tkl" d="M1248.4 1043H1252.6M1250.5 1040.9V1045.1"/>
<text class="d m" transform="translate(1253 1025) rotate(90) scale(0.83 1)">24</text>
<line class="dl" x1="1265" y1="1030" x2="1265" y2="1052"/>
<circle class="tk" cx="1265" cy="1032.6" r="0.85"/>
<path class="tkl" d="M1262.9 1032.6H1267.1M1265 1030.5V1034.7"/>
<line class="dl" x1="1336.6" y1="1034" x2="1336.6" y2="1052"/>
<circle class="tk" cx="1336.6" cy="1035.7" r="0.85"/>
<path class="tkl" d="M1334.5 1035.7H1338.7M1336.6 1033.6V1037.8"/>
</g></svg></body></html>
